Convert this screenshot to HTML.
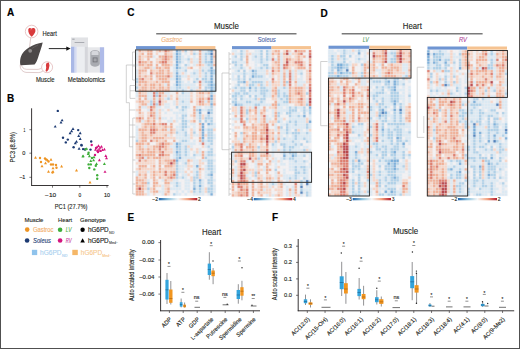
<!DOCTYPE html>
<html><head><meta charset="utf-8"><style>
html,body{margin:0;padding:0;background:#fff;width:520px;height:349px;overflow:hidden}
svg{display:block;font-family:"Liberation Sans", sans-serif;}
#fr{position:absolute;left:0;top:0;width:518px;height:347px;border:1px solid #505050;border-bottom-width:1.5px;pointer-events:none}
</style></head><body>
<svg width="520" height="349" viewBox="0 0 520 349" font-family='"Liberation Sans", sans-serif'><defs><filter id='hb' filterUnits='userSpaceOnUse' x='0' y='0' width='520' height='349'><feConvolveMatrix order='3' kernelMatrix='0.0113 0.0838 0.0113 0.0838 0.6193 0.0838 0.0113 0.0838 0.0113' edgeMode='none' preserveAlpha='false'/></filter></defs>
<text x="7" y="16.2" font-size="10" fill="#000" stroke="#000" stroke-width="0.156" font-weight="bold" >A</text>
<text x="7" y="102.2" font-size="10" fill="#000" stroke="#000" stroke-width="0.156" font-weight="bold" >B</text>
<text x="127.3" y="15.9" font-size="10" fill="#000" stroke="#000" stroke-width="0.156" font-weight="bold" >C</text>
<text x="320.6" y="16.5" font-size="10" fill="#000" stroke="#000" stroke-width="0.156" font-weight="bold" >D</text>
<text x="127.6" y="221.2" font-size="10" fill="#000" stroke="#000" stroke-width="0.156" font-weight="bold" >E</text>
<text x="272" y="221.4" font-size="10" fill="#000" stroke="#000" stroke-width="0.156" font-weight="bold" >F</text>
<line x1="30.7" y1="38" x2="29.5" y2="47.5" stroke="#c8a8a8" stroke-width="0.6"/>
<circle cx="31.6" cy="31.5" r="6.3" fill="#fff" stroke="#e2b9b9" stroke-width="0.8"/>
<path d="M28.3,29.6 C28.6,27.8 30.6,27.6 31.4,28.8 C32.3,27.5 34.6,27.7 35.3,29.4 C36,31.5 34.5,34 32.3,36.2 L31.6,36.7 C29.5,35 27.9,32.5 28.3,29.6 Z" fill="#d93a3c"/>
<path d="M30.2,30 q1,-1 2,0" stroke="#f08080" stroke-width="0.5" fill="none"/>
<text x="42.5" y="35.6" font-size="6.6" fill="#231f20" stroke="#231f20" stroke-width="0.12"  textLength="14.3" lengthAdjust="spacingAndGlyphs">Heart</text>
<path d="M20.3,64.6 C19.8,68.2 21.5,71.6 26,72.4 L38.5,72.6 C41.5,72.4 43.5,71 44.3,69 L42.5,66.5 C41.5,68.6 39.5,69.4 37,69.4 L26.5,69.3 C23.5,69.1 21.8,67.4 21.6,64.6 Z" fill="#fff" stroke="#b98c8c" stroke-width="0.45"/>
<path d="M21.6,64.6 L34.6,64.3 L36,66.8 L26,67 Z" fill="#fff"/>
<path d="M42.7,42.6 C38,43.4 33,45 29,47.5 C24,50.5 21,54.5 20.2,59.8 C19.9,62.5 20.1,64.3 20.6,65.3 L34.6,64.6 C36.2,62.5 37.4,60 38.1,57.5 C39.6,52.5 41.6,47.5 42.7,42.6 Z" fill="#4c4848"/>
<path d="M38,45 C36,46 33.5,47.3 31.8,48.6" stroke="#6a6565" stroke-width="0.7" fill="none"/>
<circle cx="30.2" cy="50.8" r="1.9" fill="#8f8b8b"/>
<circle cx="47.1" cy="67.2" r="5.5" fill="#fff" stroke="#e2b9b9" stroke-width="0.8"/>
<path d="M46.6,63 L48.9,62.6 L49.5,65.4 L48.6,69.5 L46.8,71.8 L45.6,71 L46.2,67.5 L45.9,64.9 Z" fill="#d93a3c"/>
<text x="36" y="82" font-size="6.6" fill="#231f20" stroke="#231f20" stroke-width="0.12"  textLength="18.5" lengthAdjust="spacingAndGlyphs">Muscle</text>
<line x1="48.8" y1="48.6" x2="67.5" y2="48.6" stroke="#111" stroke-width="0.9"/>
<path d="M66.3,46.4 L70.6,48.6 L66.3,50.8 Z" fill="#111"/>
<rect x="71" y="37.6" width="17" height="35" fill="#eceef1"/>
<rect x="71" y="37.6" width="17" height="9.1" fill="#e1e2e5"/>
<rect x="72.2" y="38.6" width="2.4" height="1.2" fill="#a8aab0"/>
<rect x="74.6" y="42" width="9.7" height="0.9" fill="#a3a5ab"/>
<rect x="71" y="46.7" width="3.6" height="26" fill="#a9b8e6"/>
<rect x="74.6" y="46.7" width="2" height="26" fill="#d4dbf2"/>
<rect x="84.8" y="46.7" width="3.1" height="26" fill="#d5d6db"/>
<rect x="87.9" y="47.3" width="16.2" height="25.3" fill="#e6e7ea"/>
<rect x="99.9" y="47.3" width="4.2" height="25.3" fill="#afbbe8"/>
<path d="M90.3,52.5 C91,49 99,49 99.8,52.5 L99.8,64 C98.5,67.5 91.5,67.5 90.3,64 Z" fill="#a9abb1"/>
<path d="M91.5,52 C92.5,50.2 97.5,50.2 98.5,52 L98.5,55 L91.5,55 Z" fill="#d6d7dc"/>
<rect x="92.7" y="57.5" width="4.8" height="4.8" fill="#707278"/>
<rect x="93.5" y="58.3" width="3.2" height="3.2" fill="#a5a6ab"/>
<text x="67.8" y="81.8" font-size="6.6" fill="#231f20" stroke="#231f20" stroke-width="0.12"  textLength="37.3" lengthAdjust="spacingAndGlyphs">Metabolomics</text>
<line x1="31.6" y1="108.3" x2="31.6" y2="185.6" stroke="#231f20" stroke-width="0.9"/>
<line x1="31.2" y1="185.5" x2="108.6" y2="185.5" stroke="#231f20" stroke-width="0.9"/>
<line x1="29.4" y1="129.7" x2="31.6" y2="129.7" stroke="#231f20" stroke-width="0.6"/>
<text x="25.4" y="131.5" font-size="5.2" fill="#231f20" stroke="#231f20" stroke-width="0.12" text-anchor="end"  textLength="1.8" lengthAdjust="spacingAndGlyphs">1</text>
<line x1="29.4" y1="153.2" x2="31.6" y2="153.2" stroke="#231f20" stroke-width="0.6"/>
<text x="25.4" y="155.0" font-size="5.2" fill="#231f20" stroke="#231f20" stroke-width="0.12" text-anchor="end"  textLength="3.1" lengthAdjust="spacingAndGlyphs">0</text>
<line x1="29.4" y1="177.3" x2="31.6" y2="177.3" stroke="#231f20" stroke-width="0.6"/>
<text x="25.4" y="179.10000000000002" font-size="5.2" fill="#231f20" stroke="#231f20" stroke-width="0.12" text-anchor="end"  textLength="6.2" lengthAdjust="spacingAndGlyphs">−1</text>
<line x1="52.5" y1="185.5" x2="52.5" y2="187.7" stroke="#231f20" stroke-width="0.6"/>
<text x="45.1" y="196.8" font-size="5.0" fill="#231f20" stroke="#231f20" stroke-width="0.12"  textLength="11.1" lengthAdjust="spacingAndGlyphs">−10</text>
<line x1="79.8" y1="185.5" x2="79.8" y2="187.7" stroke="#231f20" stroke-width="0.6"/>
<text x="78.4" y="196.8" font-size="5.0" fill="#231f20" stroke="#231f20" stroke-width="0.12"  textLength="2.7" lengthAdjust="spacingAndGlyphs">0</text>
<line x1="107" y1="185.5" x2="107" y2="187.7" stroke="#231f20" stroke-width="0.6"/>
<text x="104" y="196.8" font-size="5.0" fill="#231f20" stroke="#231f20" stroke-width="0.12"  textLength="6" lengthAdjust="spacingAndGlyphs">10</text>
<text x="54.8" y="208.6" font-size="6.9" fill="#231f20" stroke="#231f20" stroke-width="0.12"  textLength="32.6" lengthAdjust="spacingAndGlyphs">PC1 (27.7%)</text>
<text transform="translate(14.5,147.3) rotate(-90)" font-size="7" fill="#231f20" stroke="#231f20" stroke-width="0.12" text-anchor="middle" textLength="30.3" lengthAdjust="spacingAndGlyphs">PC3 (8.8%)</text>
<path d="M34.00,158.70 L35.5,156.05 L37.00,158.70Z" fill="#ee9423"/>
<circle cx="40" cy="158" r="1.2" fill="#ee9423"/>
<circle cx="45" cy="158.5" r="1.2" fill="#ee9423"/>
<circle cx="46" cy="159.5" r="1.2" fill="#ee9423"/>
<path d="M46.00,161.20 L47.5,158.55 L49.00,161.20Z" fill="#ee9423"/>
<path d="M49.50,160.70 L51,158.05 L52.50,160.70Z" fill="#ee9423"/>
<circle cx="41" cy="162" r="1.2" fill="#ee9423"/>
<path d="M44.00,164.20 L45.5,161.55 L47.00,164.20Z" fill="#ee9423"/>
<circle cx="48.5" cy="161.5" r="1.2" fill="#ee9423"/>
<path d="M40.50,167.20 L42,164.55 L43.50,167.20Z" fill="#ee9423"/>
<circle cx="51" cy="164.5" r="1.2" fill="#ee9423"/>
<circle cx="53" cy="164.5" r="1.2" fill="#ee9423"/>
<circle cx="56" cy="165" r="1.2" fill="#ee9423"/>
<path d="M60.10,167.40 L61.6,164.75 L63.10,167.40Z" fill="#ee9423"/>
<path d="M51.50,169.20 L53,166.55 L54.50,169.20Z" fill="#ee9423"/>
<circle cx="56.5" cy="167.8" r="1.2" fill="#ee9423"/>
<path d="M47.00,172.70 L48.5,170.05 L50.00,172.70Z" fill="#ee9423"/>
<path d="M51.50,172.70 L53,170.05 L54.50,172.70Z" fill="#ee9423"/>
<circle cx="52.5" cy="172.5" r="1.2" fill="#ee9423"/>
<path d="M75.00,171.40 L76.5,168.75 L78.00,171.40Z" fill="#ee9423"/>
<path d="M88.50,183.50 L90,180.85 L91.50,183.50Z" fill="#ee9423"/>
<circle cx="57.8" cy="110.9" r="1.2" fill="#1d3b73"/>
<path d="M60.60,121.30 L62.1,118.65 L63.60,121.30Z" fill="#1d3b73"/>
<path d="M59.50,123.60 L61,120.95 L62.50,123.60Z" fill="#1d3b73"/>
<path d="M53.70,127.60 L55.2,124.95 L56.70,127.60Z" fill="#1d3b73"/>
<path d="M71.50,129.90 L73,127.25 L74.50,129.90Z" fill="#1d3b73"/>
<circle cx="78.2" cy="130.1" r="1.2" fill="#1d3b73"/>
<path d="M70.10,132.20 L71.6,129.55 L73.10,132.20Z" fill="#1d3b73"/>
<path d="M68.60,134.20 L70.1,131.55 L71.60,134.20Z" fill="#1d3b73"/>
<path d="M78.70,134.20 L80.2,131.55 L81.70,134.20Z" fill="#1d3b73"/>
<path d="M77.20,137.00 L78.7,134.35 L80.20,137.00Z" fill="#1d3b73"/>
<circle cx="63" cy="137.8" r="1.2" fill="#1d3b73"/>
<circle cx="67.8" cy="139.6" r="1.2" fill="#1d3b73"/>
<path d="M78.70,139.90 L80.2,137.25 L81.70,139.90Z" fill="#1d3b73"/>
<circle cx="65.8" cy="142.4" r="1.2" fill="#1d3b73"/>
<path d="M73.80,144.20 L75.3,141.55 L76.80,144.20Z" fill="#1d3b73"/>
<path d="M75.00,142.70 L76.5,140.05 L78.00,142.70Z" fill="#1d3b73"/>
<circle cx="73.6" cy="147.3" r="1.2" fill="#1d3b73"/>
<path d="M77.60,149.70 L79.1,147.05 L80.60,149.70Z" fill="#1d3b73"/>
<circle cx="81.6" cy="145.4" r="1.2" fill="#1d3b73"/>
<circle cx="83.1" cy="149.1" r="1.2" fill="#1d3b73"/>
<circle cx="90.5" cy="149.6" r="1.2" fill="#1d3b73"/>
<circle cx="91.2" cy="141.5" r="1.2" fill="#1d3b73"/>
<circle cx="81.4" cy="145" r="1.2" fill="#1d3b73"/>
<circle cx="85" cy="149.5" r="1.2" fill="#1d3b73"/>
<path d="M83.90,150.30 L85.4,147.65 L86.90,150.30Z" fill="#3fae3a"/>
<path d="M85.20,149.80 L86.7,147.15 L88.20,149.80Z" fill="#3fae3a"/>
<path d="M81.60,157.10 L83.1,154.45 L84.60,157.10Z" fill="#3fae3a"/>
<path d="M86.70,154.90 L88.2,152.25 L89.70,154.90Z" fill="#3fae3a"/>
<path d="M87.90,157.20 L89.4,154.55 L90.90,157.20Z" fill="#3fae3a"/>
<circle cx="88.6" cy="152.7" r="1.2" fill="#3fae3a"/>
<path d="M81.40,157.40 L82.9,154.75 L84.40,157.40Z" fill="#3fae3a"/>
<path d="M89.30,162.00 L90.8,159.35 L92.30,162.00Z" fill="#3fae3a"/>
<path d="M92.10,161.30 L93.6,158.65 L95.10,161.30Z" fill="#3fae3a"/>
<circle cx="88.6" cy="164.4" r="1.2" fill="#3fae3a"/>
<circle cx="90.8" cy="164.4" r="1.2" fill="#3fae3a"/>
<path d="M95.00,164.90 L96.5,162.25 L98.00,164.90Z" fill="#3fae3a"/>
<circle cx="95.8" cy="165.8" r="1.2" fill="#3fae3a"/>
<circle cx="89.3" cy="168" r="1.2" fill="#3fae3a"/>
<circle cx="94.3" cy="169.4" r="1.2" fill="#3fae3a"/>
<path d="M102.90,164.90 L104.4,162.25 L105.90,164.90Z" fill="#3fae3a"/>
<circle cx="97.2" cy="175.2" r="1.2" fill="#3fae3a"/>
<circle cx="97.2" cy="178.8" r="1.2" fill="#3fae3a"/>
<circle cx="92" cy="158" r="1.2" fill="#3fae3a"/>
<path d="M92.50,158.20 L94,155.55 L95.50,158.20Z" fill="#3fae3a"/>
<circle cx="91.7" cy="145" r="1.2" fill="#d4157f"/>
<path d="M95.50,148.20 L97,145.55 L98.50,148.20Z" fill="#d4157f"/>
<path d="M97.00,147.00 L98.5,144.35 L100.00,147.00Z" fill="#d4157f"/>
<path d="M98.50,148.70 L100,146.05 L101.50,148.70Z" fill="#d4157f"/>
<path d="M100.00,147.70 L101.5,145.05 L103.00,147.70Z" fill="#d4157f"/>
<path d="M97.50,150.70 L99,148.05 L100.50,150.70Z" fill="#d4157f"/>
<path d="M96.00,151.70 L97.5,149.05 L99.00,151.70Z" fill="#d4157f"/>
<path d="M99.00,152.00 L100.5,149.35 L102.00,152.00Z" fill="#d4157f"/>
<path d="M94.00,150.70 L95.5,148.05 L97.00,150.70Z" fill="#d4157f"/>
<path d="M101.00,151.00 L102.5,148.35 L104.00,151.00Z" fill="#d4157f"/>
<path d="M102.90,150.50 L104.4,147.85 L105.90,150.50Z" fill="#d4157f"/>
<circle cx="95" cy="155" r="1.2" fill="#d4157f"/>
<path d="M104.30,157.00 L105.8,154.35 L107.30,157.00Z" fill="#d4157f"/>
<path d="M105.00,159.20 L106.5,156.55 L108.00,159.20Z" fill="#d4157f"/>
<path d="M97.90,161.20 L99.4,158.55 L100.90,161.20Z" fill="#d4157f"/>
<path d="M103.50,172.80 L105,170.15 L106.50,172.80Z" fill="#d4157f"/>
<circle cx="96" cy="148" r="1.2" fill="#d4157f"/>
<circle cx="98" cy="152" r="1.2" fill="#d4157f"/>
<text x="24.4" y="222.1" font-size="6.0" fill="#231f20" stroke="#231f20" stroke-width="0.12"  textLength="19" lengthAdjust="spacingAndGlyphs">Muscle</text>
<text x="58.1" y="222.2" font-size="6.0" fill="#231f20" stroke="#231f20" stroke-width="0.12"  textLength="14.1" lengthAdjust="spacingAndGlyphs">Heart</text>
<text x="80" y="222.2" font-size="6.0" fill="#231f20" stroke="#231f20" stroke-width="0.12"  textLength="25.8" lengthAdjust="spacingAndGlyphs">Genotype</text>
<circle cx="27.2" cy="229.6" r="2.3" fill="#ee9423"/>
<text x="32.9" y="231.6" font-size="6.6" fill="#f2ae6a" stroke="#f2ae6a" stroke-width="0.12"  textLength="20.6" lengthAdjust="spacingAndGlyphs">Gastroc</text>
<circle cx="60.1" cy="229.8" r="2.3" fill="#3fae3a"/>
<text x="65.8" y="231.7" font-size="6.6" fill="#52b04a" stroke="#52b04a" stroke-width="0.12" font-style="italic"  textLength="5.8" lengthAdjust="spacingAndGlyphs">LV</text>
<circle cx="82.6" cy="229.7" r="2.2" fill="#000"/>
<text x="87.9" y="231.9" font-size="6.8" fill="#111" stroke="#111" stroke-width="0.12"  textLength="20.8" lengthAdjust="spacingAndGlyphs">hG6PD</text>
<text x="109.1" y="233.7" font-size="3.4" fill="#555" stroke="#555" stroke-width="0.12"  textLength="5.3" lengthAdjust="spacingAndGlyphs">ND</text>
<circle cx="27.1" cy="240.5" r="2.3" fill="#1d3b73"/>
<text x="33" y="242.6" font-size="6.6" fill="#1d3b73" stroke="#1d3b73" stroke-width="0.12" font-style="italic"  textLength="17.8" lengthAdjust="spacingAndGlyphs">Soleus</text>
<circle cx="60.1" cy="240.5" r="2.3" fill="#d4157f"/>
<text x="65.8" y="242.6" font-size="6.6" fill="#c8389b" stroke="#c8389b" stroke-width="0.12" font-style="italic"  textLength="5.8" lengthAdjust="spacingAndGlyphs">RV</text>
<path d="M80.3,242.6 L82.6,238.3 L84.9,242.6Z" fill="#000"/>
<text x="87.9" y="242.7" font-size="6.8" fill="#111" stroke="#111" stroke-width="0.12"  textLength="20.8" lengthAdjust="spacingAndGlyphs">hG6PD</text>
<text x="109" y="244.3" font-size="3.4" fill="#555" stroke="#555" stroke-width="0.12"  textLength="9" lengthAdjust="spacingAndGlyphs">Med−</text>
<rect x="31.9" y="249.8" width="5.3" height="5.3" fill="#8fc3ec"/>
<text x="40" y="255.2" font-size="6.8" fill="#a9d0ef" stroke="#a9d0ef" stroke-width="0.12"  textLength="21.5" lengthAdjust="spacingAndGlyphs">hG6PD</text>
<text x="62" y="256.9" font-size="3.3" fill="#a9d0ef" stroke="#a9d0ef" stroke-width="0.12"  textLength="5.3" lengthAdjust="spacingAndGlyphs">ND</text>
<rect x="72.3" y="249.8" width="5.5" height="5.3" fill="#f5b768"/>
<text x="80.8" y="255.2" font-size="6.8" fill="#f7c88e" stroke="#f7c88e" stroke-width="0.12"  textLength="21.3" lengthAdjust="spacingAndGlyphs">hG6PD</text>
<text x="102.3" y="256.6" font-size="3.3" fill="#f7c88e" stroke="#f7c88e" stroke-width="0.12"  textLength="9" lengthAdjust="spacingAndGlyphs">Med−</text>
<g filter="url(#hb)"><rect x="135.5" y="49.6" width="80.4" height="146.2" fill="#eeeef1"/>
<path fill="#d9e8f3" d="M135.8 49.9h2.37v2.31h-2.37zM193.2 49.9h2.37v2.31h-2.37zM201.8 49.9h2.37v2.31h-2.37zM204.7 49.9h2.37v2.31h-2.37zM135.8 52.7h2.37v2.31h-2.37zM173.1 52.7h2.37v2.31h-2.37zM184.6 52.7h2.37v2.31h-2.37zM196.1 52.7h2.37v2.31h-2.37zM201.8 52.7h2.37v2.31h-2.37zM135.8 55.5h2.37v2.31h-2.37zM153.0 55.5h2.37v2.31h-2.37zM173.1 55.5h2.37v2.31h-2.37zM181.7 55.5h2.37v2.31h-2.37zM187.4 55.5h2.37v2.31h-2.37zM193.2 55.5h2.37v2.31h-2.37zM201.8 55.5h2.37v2.31h-2.37zM207.5 55.5h2.37v2.31h-2.37zM135.8 58.3h2.37v2.31h-2.37zM173.1 58.3h2.37v2.31h-2.37zM181.7 58.3h2.37v2.31h-2.37zM184.6 58.3h2.37v2.31h-2.37zM193.2 58.3h2.37v2.31h-2.37zM196.1 58.3h2.37v2.31h-2.37zM201.8 58.3h2.37v2.31h-2.37zM207.5 58.3h2.37v2.31h-2.37zM181.7 61.1h2.37v2.31h-2.37zM187.4 61.1h2.37v2.31h-2.37zM193.2 61.1h2.37v2.31h-2.37zM196.1 61.1h2.37v2.31h-2.37zM201.8 61.1h2.37v2.31h-2.37zM135.8 63.9h2.37v2.31h-2.37zM173.1 63.9h2.37v2.31h-2.37zM178.8 63.9h2.37v2.31h-2.37zM187.4 63.9h2.37v2.31h-2.37zM193.2 63.9h2.37v2.31h-2.37zM204.7 63.9h2.37v2.31h-2.37zM153.0 66.7h2.37v2.31h-2.37zM173.1 66.7h2.37v2.31h-2.37zM181.7 66.7h2.37v2.31h-2.37zM184.6 66.7h2.37v2.31h-2.37zM201.8 66.7h2.37v2.31h-2.37zM204.7 66.7h2.37v2.31h-2.37zM207.5 66.7h2.37v2.31h-2.37zM135.8 69.5h2.37v2.31h-2.37zM173.1 69.5h2.37v2.31h-2.37zM178.8 69.5h2.37v2.31h-2.37zM181.7 69.5h2.37v2.31h-2.37zM193.2 69.5h2.37v2.31h-2.37zM196.1 69.5h2.37v2.31h-2.37zM204.7 69.5h2.37v2.31h-2.37zM135.8 72.3h2.37v2.31h-2.37zM173.1 72.3h2.37v2.31h-2.37zM178.8 72.3h2.37v2.31h-2.37zM184.6 72.3h2.37v2.31h-2.37zM190.3 72.3h2.37v2.31h-2.37zM196.1 72.3h2.37v2.31h-2.37zM201.8 72.3h2.37v2.31h-2.37zM207.5 72.3h2.37v2.31h-2.37zM135.8 75.2h2.37v2.31h-2.37zM173.1 75.2h2.37v2.31h-2.37zM181.7 75.2h2.37v2.31h-2.37zM184.6 75.2h2.37v2.31h-2.37zM190.3 75.2h2.37v2.31h-2.37zM193.2 75.2h2.37v2.31h-2.37zM196.1 75.2h2.37v2.31h-2.37zM201.8 75.2h2.37v2.31h-2.37zM207.5 75.2h2.37v2.31h-2.37zM213.3 75.2h2.37v2.31h-2.37zM170.2 78.0h2.37v2.31h-2.37zM173.1 78.0h2.37v2.31h-2.37zM193.2 78.0h2.37v2.31h-2.37zM207.5 78.0h2.37v2.31h-2.37zM213.3 78.0h2.37v2.31h-2.37zM181.7 80.8h2.37v2.31h-2.37zM187.4 80.8h2.37v2.31h-2.37zM196.1 80.8h2.37v2.31h-2.37zM201.8 80.8h2.37v2.31h-2.37zM213.3 80.8h2.37v2.31h-2.37zM135.8 83.6h2.37v2.31h-2.37zM164.5 83.6h2.37v2.31h-2.37zM173.1 83.6h2.37v2.31h-2.37zM181.7 83.6h2.37v2.31h-2.37zM184.6 83.6h2.37v2.31h-2.37zM187.4 83.6h2.37v2.31h-2.37zM190.3 83.6h2.37v2.31h-2.37zM193.2 83.6h2.37v2.31h-2.37zM201.8 83.6h2.37v2.31h-2.37zM204.7 83.6h2.37v2.31h-2.37zM170.2 86.4h2.37v2.31h-2.37zM173.1 86.4h2.37v2.31h-2.37zM181.7 86.4h2.37v2.31h-2.37zM184.6 86.4h2.37v2.31h-2.37zM190.3 86.4h2.37v2.31h-2.37zM193.2 86.4h2.37v2.31h-2.37zM196.1 86.4h2.37v2.31h-2.37zM135.8 89.2h2.37v2.31h-2.37zM170.2 89.2h2.37v2.31h-2.37zM173.1 89.2h2.37v2.31h-2.37zM178.8 89.2h2.37v2.31h-2.37zM184.6 89.2h2.37v2.31h-2.37zM193.2 89.2h2.37v2.31h-2.37zM201.8 89.2h2.37v2.31h-2.37zM207.5 89.2h2.37v2.31h-2.37zM135.8 92.0h2.37v2.31h-2.37zM147.2 92.0h2.37v2.31h-2.37zM150.1 92.0h2.37v2.31h-2.37zM164.5 92.0h2.37v2.31h-2.37zM167.3 92.0h2.37v2.31h-2.37zM184.6 92.0h2.37v2.31h-2.37zM187.4 92.0h2.37v2.31h-2.37zM213.3 92.0h2.37v2.31h-2.37zM135.8 94.8h2.37v2.31h-2.37zM147.2 94.8h2.37v2.31h-2.37zM150.1 94.8h2.37v2.31h-2.37zM167.3 94.8h2.37v2.31h-2.37zM178.8 94.8h2.37v2.31h-2.37zM181.7 94.8h2.37v2.31h-2.37zM184.6 94.8h2.37v2.31h-2.37zM187.4 94.8h2.37v2.31h-2.37zM147.2 97.6h2.37v2.31h-2.37zM150.1 97.6h2.37v2.31h-2.37zM155.8 97.6h2.37v2.31h-2.37zM164.5 97.6h2.37v2.31h-2.37zM178.8 97.6h2.37v2.31h-2.37zM181.7 97.6h2.37v2.31h-2.37zM184.6 97.6h2.37v2.31h-2.37zM187.4 97.6h2.37v2.31h-2.37zM155.8 100.5h2.37v2.31h-2.37zM173.1 100.5h2.37v2.31h-2.37zM178.8 100.5h2.37v2.31h-2.37zM184.6 100.5h2.37v2.31h-2.37zM187.4 100.5h2.37v2.31h-2.37zM204.7 100.5h2.37v2.31h-2.37zM147.2 103.3h2.37v2.31h-2.37zM164.5 103.3h2.37v2.31h-2.37zM167.3 103.3h2.37v2.31h-2.37zM173.1 103.3h2.37v2.31h-2.37zM178.8 103.3h2.37v2.31h-2.37zM181.7 103.3h2.37v2.31h-2.37zM184.6 103.3h2.37v2.31h-2.37zM187.4 103.3h2.37v2.31h-2.37zM141.5 106.1h2.37v2.31h-2.37zM144.4 106.1h2.37v2.31h-2.37zM155.8 106.1h2.37v2.31h-2.37zM158.7 106.1h2.37v2.31h-2.37zM164.5 106.1h2.37v2.31h-2.37zM167.3 106.1h2.37v2.31h-2.37zM187.4 106.1h2.37v2.31h-2.37zM196.1 106.1h2.37v2.31h-2.37zM198.9 106.1h2.37v2.31h-2.37zM204.7 106.1h2.37v2.31h-2.37zM207.5 106.1h2.37v2.31h-2.37zM147.2 108.9h2.37v2.31h-2.37zM155.8 108.9h2.37v2.31h-2.37zM161.6 108.9h2.37v2.31h-2.37zM170.2 108.9h2.37v2.31h-2.37zM178.8 108.9h2.37v2.31h-2.37zM184.6 108.9h2.37v2.31h-2.37zM201.8 108.9h2.37v2.31h-2.37zM204.7 108.9h2.37v2.31h-2.37zM155.8 111.7h2.37v2.31h-2.37zM164.5 111.7h2.37v2.31h-2.37zM173.1 111.7h2.37v2.31h-2.37zM175.9 111.7h2.37v2.31h-2.37zM178.8 111.7h2.37v2.31h-2.37zM181.7 111.7h2.37v2.31h-2.37zM184.6 111.7h2.37v2.31h-2.37zM196.1 111.7h2.37v2.31h-2.37zM155.8 114.5h2.37v2.31h-2.37zM175.9 114.5h2.37v2.31h-2.37zM196.1 114.5h2.37v2.31h-2.37zM204.7 114.5h2.37v2.31h-2.37zM210.4 114.5h2.37v2.31h-2.37zM155.8 117.3h2.37v2.31h-2.37zM161.6 117.3h2.37v2.31h-2.37zM164.5 117.3h2.37v2.31h-2.37zM170.2 117.3h2.37v2.31h-2.37zM175.9 117.3h2.37v2.31h-2.37zM178.8 117.3h2.37v2.31h-2.37zM184.6 117.3h2.37v2.31h-2.37zM196.1 117.3h2.37v2.31h-2.37zM141.5 120.1h2.37v2.31h-2.37zM167.3 120.1h2.37v2.31h-2.37zM170.2 120.1h2.37v2.31h-2.37zM175.9 120.1h2.37v2.31h-2.37zM187.4 120.1h2.37v2.31h-2.37zM207.5 120.1h2.37v2.31h-2.37zM178.8 122.9h2.37v2.31h-2.37zM190.3 122.9h2.37v2.31h-2.37zM193.2 122.9h2.37v2.31h-2.37zM213.3 122.9h2.37v2.31h-2.37zM135.8 125.8h2.37v2.31h-2.37zM175.9 125.8h2.37v2.31h-2.37zM178.8 125.8h2.37v2.31h-2.37zM187.4 125.8h2.37v2.31h-2.37zM193.2 125.8h2.37v2.31h-2.37zM207.5 125.8h2.37v2.31h-2.37zM210.4 125.8h2.37v2.31h-2.37zM213.3 125.8h2.37v2.31h-2.37zM135.8 128.6h2.37v2.31h-2.37zM167.3 128.6h2.37v2.31h-2.37zM175.9 128.6h2.37v2.31h-2.37zM178.8 128.6h2.37v2.31h-2.37zM184.6 128.6h2.37v2.31h-2.37zM193.2 128.6h2.37v2.31h-2.37zM204.7 128.6h2.37v2.31h-2.37zM135.8 131.4h2.37v2.31h-2.37zM178.8 131.4h2.37v2.31h-2.37zM181.7 131.4h2.37v2.31h-2.37zM135.8 134.2h2.37v2.31h-2.37zM167.3 134.2h2.37v2.31h-2.37zM175.9 134.2h2.37v2.31h-2.37zM178.8 134.2h2.37v2.31h-2.37zM181.7 134.2h2.37v2.31h-2.37zM187.4 134.2h2.37v2.31h-2.37zM193.2 134.2h2.37v2.31h-2.37zM196.1 134.2h2.37v2.31h-2.37zM213.3 134.2h2.37v2.31h-2.37zM135.8 137.0h2.37v2.31h-2.37zM175.9 137.0h2.37v2.31h-2.37zM178.8 137.0h2.37v2.31h-2.37zM181.7 137.0h2.37v2.31h-2.37zM184.6 137.0h2.37v2.31h-2.37zM187.4 137.0h2.37v2.31h-2.37zM213.3 137.0h2.37v2.31h-2.37zM178.8 139.8h2.37v2.31h-2.37zM187.4 139.8h2.37v2.31h-2.37zM193.2 139.8h2.37v2.31h-2.37zM204.7 139.8h2.37v2.31h-2.37zM173.1 142.6h2.37v2.31h-2.37zM181.7 142.6h2.37v2.31h-2.37zM184.6 142.6h2.37v2.31h-2.37zM187.4 142.6h2.37v2.31h-2.37zM190.3 142.6h2.37v2.31h-2.37zM193.2 142.6h2.37v2.31h-2.37zM198.9 142.6h2.37v2.31h-2.37zM204.7 142.6h2.37v2.31h-2.37zM207.5 142.6h2.37v2.31h-2.37zM144.4 145.4h2.37v2.31h-2.37zM170.2 145.4h2.37v2.31h-2.37zM173.1 145.4h2.37v2.31h-2.37zM181.7 145.4h2.37v2.31h-2.37zM190.3 145.4h2.37v2.31h-2.37zM204.7 145.4h2.37v2.31h-2.37zM210.4 145.4h2.37v2.31h-2.37zM173.1 148.3h2.37v2.31h-2.37zM181.7 148.3h2.37v2.31h-2.37zM187.4 148.3h2.37v2.31h-2.37zM198.9 148.3h2.37v2.31h-2.37zM207.5 148.3h2.37v2.31h-2.37zM173.1 151.1h2.37v2.31h-2.37zM181.7 151.1h2.37v2.31h-2.37zM187.4 151.1h2.37v2.31h-2.37zM193.2 151.1h2.37v2.31h-2.37zM198.9 151.1h2.37v2.31h-2.37zM204.7 151.1h2.37v2.31h-2.37zM173.1 153.9h2.37v2.31h-2.37zM181.7 153.9h2.37v2.31h-2.37zM187.4 153.9h2.37v2.31h-2.37zM196.1 153.9h2.37v2.31h-2.37zM198.9 153.9h2.37v2.31h-2.37zM204.7 153.9h2.37v2.31h-2.37zM213.3 153.9h2.37v2.31h-2.37zM144.4 156.7h2.37v2.31h-2.37zM173.1 156.7h2.37v2.31h-2.37zM181.7 156.7h2.37v2.31h-2.37zM184.6 156.7h2.37v2.31h-2.37zM187.4 156.7h2.37v2.31h-2.37zM190.3 156.7h2.37v2.31h-2.37zM193.2 156.7h2.37v2.31h-2.37zM207.5 156.7h2.37v2.31h-2.37zM210.4 156.7h2.37v2.31h-2.37zM178.8 159.5h2.37v2.31h-2.37zM181.7 159.5h2.37v2.31h-2.37zM184.6 159.5h2.37v2.31h-2.37zM193.2 159.5h2.37v2.31h-2.37zM196.1 159.5h2.37v2.31h-2.37zM201.8 159.5h2.37v2.31h-2.37zM204.7 159.5h2.37v2.31h-2.37zM213.3 159.5h2.37v2.31h-2.37zM181.7 162.3h2.37v2.31h-2.37zM193.2 162.3h2.37v2.31h-2.37zM196.1 162.3h2.37v2.31h-2.37zM178.8 165.1h2.37v2.31h-2.37zM181.7 165.1h2.37v2.31h-2.37zM184.6 165.1h2.37v2.31h-2.37zM193.2 165.1h2.37v2.31h-2.37zM204.7 165.1h2.37v2.31h-2.37zM213.3 165.1h2.37v2.31h-2.37zM178.8 167.9h2.37v2.31h-2.37zM181.7 167.9h2.37v2.31h-2.37zM193.2 167.9h2.37v2.31h-2.37zM196.1 167.9h2.37v2.31h-2.37zM204.7 167.9h2.37v2.31h-2.37zM213.3 167.9h2.37v2.31h-2.37zM135.8 170.7h2.37v2.31h-2.37zM147.2 170.7h2.37v2.31h-2.37zM178.8 170.7h2.37v2.31h-2.37zM181.7 170.7h2.37v2.31h-2.37zM193.2 170.7h2.37v2.31h-2.37zM204.7 170.7h2.37v2.31h-2.37zM207.5 170.7h2.37v2.31h-2.37zM213.3 170.7h2.37v2.31h-2.37zM135.8 173.6h2.37v2.31h-2.37zM181.7 173.6h2.37v2.31h-2.37zM184.6 173.6h2.37v2.31h-2.37zM193.2 173.6h2.37v2.31h-2.37zM204.7 173.6h2.37v2.31h-2.37zM178.8 176.4h2.37v2.31h-2.37zM184.6 176.4h2.37v2.31h-2.37zM204.7 176.4h2.37v2.31h-2.37zM207.5 176.4h2.37v2.31h-2.37zM147.2 179.2h2.37v2.31h-2.37zM161.6 179.2h2.37v2.31h-2.37zM173.1 179.2h2.37v2.31h-2.37zM175.9 179.2h2.37v2.31h-2.37zM184.6 179.2h2.37v2.31h-2.37zM187.4 179.2h2.37v2.31h-2.37zM196.1 179.2h2.37v2.31h-2.37zM201.8 179.2h2.37v2.31h-2.37zM213.3 179.2h2.37v2.31h-2.37zM170.2 182.0h2.37v2.31h-2.37zM173.1 182.0h2.37v2.31h-2.37zM178.8 182.0h2.37v2.31h-2.37zM184.6 182.0h2.37v2.31h-2.37zM187.4 182.0h2.37v2.31h-2.37zM196.1 182.0h2.37v2.31h-2.37zM201.8 182.0h2.37v2.31h-2.37zM147.2 184.8h2.37v2.31h-2.37zM161.6 184.8h2.37v2.31h-2.37zM173.1 184.8h2.37v2.31h-2.37zM178.8 184.8h2.37v2.31h-2.37zM184.6 184.8h2.37v2.31h-2.37zM187.4 184.8h2.37v2.31h-2.37zM196.1 184.8h2.37v2.31h-2.37zM201.8 184.8h2.37v2.31h-2.37zM207.5 184.8h2.37v2.31h-2.37zM213.3 184.8h2.37v2.31h-2.37zM161.6 187.6h2.37v2.31h-2.37zM170.2 187.6h2.37v2.31h-2.37zM173.1 187.6h2.37v2.31h-2.37zM175.9 187.6h2.37v2.31h-2.37zM178.8 187.6h2.37v2.31h-2.37zM184.6 187.6h2.37v2.31h-2.37zM187.4 187.6h2.37v2.31h-2.37zM196.1 187.6h2.37v2.31h-2.37zM201.8 187.6h2.37v2.31h-2.37zM213.3 187.6h2.37v2.31h-2.37zM147.2 190.4h2.37v2.31h-2.37zM158.7 190.4h2.37v2.31h-2.37zM161.6 190.4h2.37v2.31h-2.37zM175.9 190.4h2.37v2.31h-2.37zM181.7 190.4h2.37v2.31h-2.37zM187.4 190.4h2.37v2.31h-2.37zM196.1 190.4h2.37v2.31h-2.37zM201.8 190.4h2.37v2.31h-2.37zM213.3 190.4h2.37v2.31h-2.37zM147.2 193.2h2.37v2.31h-2.37zM161.6 193.2h2.37v2.31h-2.37zM175.9 193.2h2.37v2.31h-2.37zM178.8 193.2h2.37v2.31h-2.37zM184.6 193.2h2.37v2.31h-2.37zM193.2 193.2h2.37v2.31h-2.37zM196.1 193.2h2.37v2.31h-2.37zM198.9 193.2h2.37v2.31h-2.37zM201.8 193.2h2.37v2.31h-2.37zM207.5 193.2h2.37v2.31h-2.37z"/>
<path fill="#f0a98c" d="M138.6 49.9h2.37v2.31h-2.37zM147.2 49.9h2.37v2.31h-2.37zM150.1 49.9h2.37v2.31h-2.37zM158.7 49.9h2.37v2.31h-2.37zM167.3 49.9h2.37v2.31h-2.37zM198.9 49.9h2.37v2.31h-2.37zM141.5 52.7h2.37v2.31h-2.37zM147.2 52.7h2.37v2.31h-2.37zM150.1 52.7h2.37v2.31h-2.37zM164.5 52.7h2.37v2.31h-2.37zM198.9 52.7h2.37v2.31h-2.37zM138.6 55.5h2.37v2.31h-2.37zM147.2 55.5h2.37v2.31h-2.37zM150.1 55.5h2.37v2.31h-2.37zM158.7 55.5h2.37v2.31h-2.37zM161.6 55.5h2.37v2.31h-2.37zM167.3 55.5h2.37v2.31h-2.37zM170.2 55.5h2.37v2.31h-2.37zM198.9 55.5h2.37v2.31h-2.37zM213.3 55.5h2.37v2.31h-2.37zM138.6 58.3h2.37v2.31h-2.37zM147.2 58.3h2.37v2.31h-2.37zM161.6 58.3h2.37v2.31h-2.37zM167.3 58.3h2.37v2.31h-2.37zM198.9 58.3h2.37v2.31h-2.37zM141.5 61.1h2.37v2.31h-2.37zM144.4 61.1h2.37v2.31h-2.37zM150.1 61.1h2.37v2.31h-2.37zM158.7 61.1h2.37v2.31h-2.37zM198.9 61.1h2.37v2.31h-2.37zM138.6 63.9h2.37v2.31h-2.37zM141.5 63.9h2.37v2.31h-2.37zM147.2 63.9h2.37v2.31h-2.37zM150.1 63.9h2.37v2.31h-2.37zM155.8 63.9h2.37v2.31h-2.37zM161.6 63.9h2.37v2.31h-2.37zM164.5 63.9h2.37v2.31h-2.37zM167.3 63.9h2.37v2.31h-2.37zM198.9 63.9h2.37v2.31h-2.37zM213.3 63.9h2.37v2.31h-2.37zM144.4 66.7h2.37v2.31h-2.37zM147.2 66.7h2.37v2.31h-2.37zM155.8 66.7h2.37v2.31h-2.37zM158.7 66.7h2.37v2.31h-2.37zM164.5 66.7h2.37v2.31h-2.37zM167.3 66.7h2.37v2.31h-2.37zM190.3 66.7h2.37v2.31h-2.37zM138.6 69.5h2.37v2.31h-2.37zM141.5 69.5h2.37v2.31h-2.37zM144.4 69.5h2.37v2.31h-2.37zM150.1 69.5h2.37v2.31h-2.37zM158.7 69.5h2.37v2.31h-2.37zM161.6 69.5h2.37v2.31h-2.37zM167.3 69.5h2.37v2.31h-2.37zM138.6 72.3h2.37v2.31h-2.37zM155.8 72.3h2.37v2.31h-2.37zM158.7 72.3h2.37v2.31h-2.37zM161.6 72.3h2.37v2.31h-2.37zM167.3 72.3h2.37v2.31h-2.37zM138.6 75.2h2.37v2.31h-2.37zM144.4 75.2h2.37v2.31h-2.37zM150.1 75.2h2.37v2.31h-2.37zM155.8 75.2h2.37v2.31h-2.37zM158.7 75.2h2.37v2.31h-2.37zM161.6 75.2h2.37v2.31h-2.37zM164.5 75.2h2.37v2.31h-2.37zM138.6 78.0h2.37v2.31h-2.37zM150.1 78.0h2.37v2.31h-2.37zM158.7 78.0h2.37v2.31h-2.37zM161.6 78.0h2.37v2.31h-2.37zM164.5 78.0h2.37v2.31h-2.37zM138.6 80.8h2.37v2.31h-2.37zM141.5 80.8h2.37v2.31h-2.37zM144.4 80.8h2.37v2.31h-2.37zM155.8 80.8h2.37v2.31h-2.37zM161.6 80.8h2.37v2.31h-2.37zM164.5 80.8h2.37v2.31h-2.37zM167.3 80.8h2.37v2.31h-2.37zM138.6 83.6h2.37v2.31h-2.37zM144.4 83.6h2.37v2.31h-2.37zM150.1 83.6h2.37v2.31h-2.37zM153.0 83.6h2.37v2.31h-2.37zM158.7 83.6h2.37v2.31h-2.37zM167.3 83.6h2.37v2.31h-2.37zM198.9 83.6h2.37v2.31h-2.37zM141.5 86.4h2.37v2.31h-2.37zM144.4 86.4h2.37v2.31h-2.37zM150.1 86.4h2.37v2.31h-2.37zM153.0 86.4h2.37v2.31h-2.37zM158.7 86.4h2.37v2.31h-2.37zM161.6 86.4h2.37v2.31h-2.37zM167.3 86.4h2.37v2.31h-2.37zM198.9 86.4h2.37v2.31h-2.37zM138.6 89.2h2.37v2.31h-2.37zM141.5 89.2h2.37v2.31h-2.37zM144.4 89.2h2.37v2.31h-2.37zM150.1 89.2h2.37v2.31h-2.37zM155.8 89.2h2.37v2.31h-2.37zM158.7 89.2h2.37v2.31h-2.37zM161.6 89.2h2.37v2.31h-2.37zM164.5 89.2h2.37v2.31h-2.37zM167.3 89.2h2.37v2.31h-2.37zM138.6 92.0h2.37v2.31h-2.37zM158.7 92.0h2.37v2.31h-2.37zM161.6 92.0h2.37v2.31h-2.37zM175.9 92.0h2.37v2.31h-2.37zM198.9 92.0h2.37v2.31h-2.37zM201.8 92.0h2.37v2.31h-2.37zM207.5 92.0h2.37v2.31h-2.37zM138.6 94.8h2.37v2.31h-2.37zM141.5 94.8h2.37v2.31h-2.37zM144.4 94.8h2.37v2.31h-2.37zM138.6 97.6h2.37v2.31h-2.37zM144.4 97.6h2.37v2.31h-2.37zM153.0 97.6h2.37v2.31h-2.37zM158.7 97.6h2.37v2.31h-2.37zM175.9 97.6h2.37v2.31h-2.37zM198.9 97.6h2.37v2.31h-2.37zM201.8 97.6h2.37v2.31h-2.37zM138.6 100.5h2.37v2.31h-2.37zM141.5 100.5h2.37v2.31h-2.37zM153.0 100.5h2.37v2.31h-2.37zM190.3 100.5h2.37v2.31h-2.37zM201.8 100.5h2.37v2.31h-2.37zM207.5 100.5h2.37v2.31h-2.37zM141.5 103.3h2.37v2.31h-2.37zM144.4 103.3h2.37v2.31h-2.37zM198.9 103.3h2.37v2.31h-2.37zM201.8 103.3h2.37v2.31h-2.37zM213.3 103.3h2.37v2.31h-2.37zM138.6 106.1h2.37v2.31h-2.37zM153.0 106.1h2.37v2.31h-2.37zM193.2 106.1h2.37v2.31h-2.37zM138.6 108.9h2.37v2.31h-2.37zM193.2 108.9h2.37v2.31h-2.37zM138.6 111.7h2.37v2.31h-2.37zM150.1 111.7h2.37v2.31h-2.37zM153.0 111.7h2.37v2.31h-2.37zM193.2 111.7h2.37v2.31h-2.37zM153.0 114.5h2.37v2.31h-2.37zM193.2 114.5h2.37v2.31h-2.37zM135.8 117.3h2.37v2.31h-2.37zM141.5 117.3h2.37v2.31h-2.37zM147.2 117.3h2.37v2.31h-2.37zM153.0 117.3h2.37v2.31h-2.37zM158.7 117.3h2.37v2.31h-2.37zM138.6 120.1h2.37v2.31h-2.37zM147.2 120.1h2.37v2.31h-2.37zM153.0 120.1h2.37v2.31h-2.37zM193.2 120.1h2.37v2.31h-2.37zM144.4 122.9h2.37v2.31h-2.37zM147.2 122.9h2.37v2.31h-2.37zM150.1 122.9h2.37v2.31h-2.37zM158.7 122.9h2.37v2.31h-2.37zM170.2 122.9h2.37v2.31h-2.37zM198.9 122.9h2.37v2.31h-2.37zM144.4 125.8h2.37v2.31h-2.37zM150.1 125.8h2.37v2.31h-2.37zM153.0 125.8h2.37v2.31h-2.37zM164.5 125.8h2.37v2.31h-2.37zM170.2 125.8h2.37v2.31h-2.37zM138.6 128.6h2.37v2.31h-2.37zM141.5 128.6h2.37v2.31h-2.37zM144.4 128.6h2.37v2.31h-2.37zM155.8 128.6h2.37v2.31h-2.37zM161.6 128.6h2.37v2.31h-2.37zM164.5 128.6h2.37v2.31h-2.37zM170.2 128.6h2.37v2.31h-2.37zM198.9 128.6h2.37v2.31h-2.37zM141.5 131.4h2.37v2.31h-2.37zM170.2 131.4h2.37v2.31h-2.37zM141.5 134.2h2.37v2.31h-2.37zM144.4 134.2h2.37v2.31h-2.37zM150.1 134.2h2.37v2.31h-2.37zM164.5 134.2h2.37v2.31h-2.37zM141.5 137.0h2.37v2.31h-2.37zM144.4 137.0h2.37v2.31h-2.37zM153.0 137.0h2.37v2.31h-2.37zM155.8 137.0h2.37v2.31h-2.37zM158.7 137.0h2.37v2.31h-2.37zM161.6 137.0h2.37v2.31h-2.37zM198.9 137.0h2.37v2.31h-2.37zM141.5 139.8h2.37v2.31h-2.37zM144.4 139.8h2.37v2.31h-2.37zM155.8 139.8h2.37v2.31h-2.37zM164.5 139.8h2.37v2.31h-2.37zM173.1 139.8h2.37v2.31h-2.37zM198.9 139.8h2.37v2.31h-2.37zM135.8 142.6h2.37v2.31h-2.37zM138.6 142.6h2.37v2.31h-2.37zM141.5 142.6h2.37v2.31h-2.37zM147.2 142.6h2.37v2.31h-2.37zM158.7 142.6h2.37v2.31h-2.37zM164.5 142.6h2.37v2.31h-2.37zM167.3 142.6h2.37v2.31h-2.37zM138.6 145.4h2.37v2.31h-2.37zM153.0 145.4h2.37v2.31h-2.37zM155.8 145.4h2.37v2.31h-2.37zM164.5 145.4h2.37v2.31h-2.37zM138.6 148.3h2.37v2.31h-2.37zM141.5 148.3h2.37v2.31h-2.37zM147.2 148.3h2.37v2.31h-2.37zM153.0 148.3h2.37v2.31h-2.37zM164.5 148.3h2.37v2.31h-2.37zM141.5 151.1h2.37v2.31h-2.37zM147.2 151.1h2.37v2.31h-2.37zM150.1 151.1h2.37v2.31h-2.37zM153.0 151.1h2.37v2.31h-2.37zM158.7 151.1h2.37v2.31h-2.37zM201.8 151.1h2.37v2.31h-2.37zM135.8 153.9h2.37v2.31h-2.37zM141.5 153.9h2.37v2.31h-2.37zM144.4 153.9h2.37v2.31h-2.37zM147.2 153.9h2.37v2.31h-2.37zM150.1 153.9h2.37v2.31h-2.37zM153.0 153.9h2.37v2.31h-2.37zM164.5 153.9h2.37v2.31h-2.37zM167.3 153.9h2.37v2.31h-2.37zM201.8 153.9h2.37v2.31h-2.37zM138.6 156.7h2.37v2.31h-2.37zM147.2 156.7h2.37v2.31h-2.37zM153.0 156.7h2.37v2.31h-2.37zM155.8 156.7h2.37v2.31h-2.37zM158.7 156.7h2.37v2.31h-2.37zM201.8 156.7h2.37v2.31h-2.37zM144.4 159.5h2.37v2.31h-2.37zM158.7 159.5h2.37v2.31h-2.37zM164.5 159.5h2.37v2.31h-2.37zM167.3 159.5h2.37v2.31h-2.37zM170.2 159.5h2.37v2.31h-2.37zM187.4 159.5h2.37v2.31h-2.37zM158.7 162.3h2.37v2.31h-2.37zM167.3 162.3h2.37v2.31h-2.37zM173.1 162.3h2.37v2.31h-2.37zM138.6 165.1h2.37v2.31h-2.37zM141.5 165.1h2.37v2.31h-2.37zM144.4 165.1h2.37v2.31h-2.37zM153.0 165.1h2.37v2.31h-2.37zM158.7 165.1h2.37v2.31h-2.37zM164.5 165.1h2.37v2.31h-2.37zM167.3 165.1h2.37v2.31h-2.37zM170.2 165.1h2.37v2.31h-2.37zM138.6 167.9h2.37v2.31h-2.37zM158.7 167.9h2.37v2.31h-2.37zM198.9 167.9h2.37v2.31h-2.37zM153.0 170.7h2.37v2.31h-2.37zM158.7 170.7h2.37v2.31h-2.37zM170.2 170.7h2.37v2.31h-2.37zM173.1 170.7h2.37v2.31h-2.37zM138.6 173.6h2.37v2.31h-2.37zM144.4 173.6h2.37v2.31h-2.37zM153.0 173.6h2.37v2.31h-2.37zM170.2 173.6h2.37v2.31h-2.37zM135.8 176.4h2.37v2.31h-2.37zM144.4 176.4h2.37v2.31h-2.37zM153.0 176.4h2.37v2.31h-2.37zM158.7 176.4h2.37v2.31h-2.37zM167.3 176.4h2.37v2.31h-2.37zM173.1 176.4h2.37v2.31h-2.37zM135.8 179.2h2.37v2.31h-2.37zM138.6 179.2h2.37v2.31h-2.37zM141.5 179.2h2.37v2.31h-2.37zM153.0 179.2h2.37v2.31h-2.37zM164.5 179.2h2.37v2.31h-2.37zM135.8 182.0h2.37v2.31h-2.37zM141.5 182.0h2.37v2.31h-2.37zM144.4 182.0h2.37v2.31h-2.37zM153.0 182.0h2.37v2.31h-2.37zM155.8 182.0h2.37v2.31h-2.37zM164.5 182.0h2.37v2.31h-2.37zM167.3 182.0h2.37v2.31h-2.37zM135.8 184.8h2.37v2.31h-2.37zM138.6 184.8h2.37v2.31h-2.37zM141.5 184.8h2.37v2.31h-2.37zM153.0 184.8h2.37v2.31h-2.37zM135.8 187.6h2.37v2.31h-2.37zM141.5 187.6h2.37v2.31h-2.37zM153.0 187.6h2.37v2.31h-2.37zM167.3 187.6h2.37v2.31h-2.37zM135.8 190.4h2.37v2.31h-2.37zM138.6 190.4h2.37v2.31h-2.37zM141.5 190.4h2.37v2.31h-2.37zM153.0 190.4h2.37v2.31h-2.37zM155.8 190.4h2.37v2.31h-2.37zM167.3 190.4h2.37v2.31h-2.37zM135.8 193.2h2.37v2.31h-2.37zM138.6 193.2h2.37v2.31h-2.37zM141.5 193.2h2.37v2.31h-2.37zM164.5 193.2h2.37v2.31h-2.37z"/>
<path fill="#f8d3c2" d="M141.5 49.9h2.37v2.31h-2.37zM144.4 49.9h2.37v2.31h-2.37zM155.8 49.9h2.37v2.31h-2.37zM161.6 49.9h2.37v2.31h-2.37zM170.2 49.9h2.37v2.31h-2.37zM181.7 49.9h2.37v2.31h-2.37zM190.3 49.9h2.37v2.31h-2.37zM213.3 49.9h2.37v2.31h-2.37zM138.6 52.7h2.37v2.31h-2.37zM155.8 52.7h2.37v2.31h-2.37zM167.3 52.7h2.37v2.31h-2.37zM170.2 52.7h2.37v2.31h-2.37zM190.3 52.7h2.37v2.31h-2.37zM213.3 52.7h2.37v2.31h-2.37zM141.5 55.5h2.37v2.31h-2.37zM144.4 55.5h2.37v2.31h-2.37zM141.5 58.3h2.37v2.31h-2.37zM155.8 58.3h2.37v2.31h-2.37zM158.7 58.3h2.37v2.31h-2.37zM170.2 58.3h2.37v2.31h-2.37zM190.3 58.3h2.37v2.31h-2.37zM213.3 58.3h2.37v2.31h-2.37zM147.2 61.1h2.37v2.31h-2.37zM155.8 61.1h2.37v2.31h-2.37zM167.3 61.1h2.37v2.31h-2.37zM170.2 61.1h2.37v2.31h-2.37zM190.3 61.1h2.37v2.31h-2.37zM213.3 61.1h2.37v2.31h-2.37zM144.4 63.9h2.37v2.31h-2.37zM170.2 63.9h2.37v2.31h-2.37zM196.1 63.9h2.37v2.31h-2.37zM201.8 63.9h2.37v2.31h-2.37zM138.6 66.7h2.37v2.31h-2.37zM141.5 66.7h2.37v2.31h-2.37zM150.1 66.7h2.37v2.31h-2.37zM161.6 66.7h2.37v2.31h-2.37zM187.4 66.7h2.37v2.31h-2.37zM198.9 66.7h2.37v2.31h-2.37zM153.0 69.5h2.37v2.31h-2.37zM155.8 69.5h2.37v2.31h-2.37zM164.5 69.5h2.37v2.31h-2.37zM198.9 69.5h2.37v2.31h-2.37zM141.5 72.3h2.37v2.31h-2.37zM144.4 72.3h2.37v2.31h-2.37zM153.0 72.3h2.37v2.31h-2.37zM164.5 72.3h2.37v2.31h-2.37zM170.2 72.3h2.37v2.31h-2.37zM181.7 72.3h2.37v2.31h-2.37zM198.9 72.3h2.37v2.31h-2.37zM141.5 75.2h2.37v2.31h-2.37zM147.2 75.2h2.37v2.31h-2.37zM170.2 75.2h2.37v2.31h-2.37zM187.4 75.2h2.37v2.31h-2.37zM198.9 75.2h2.37v2.31h-2.37zM144.4 78.0h2.37v2.31h-2.37zM147.2 78.0h2.37v2.31h-2.37zM155.8 78.0h2.37v2.31h-2.37zM167.3 78.0h2.37v2.31h-2.37zM187.4 78.0h2.37v2.31h-2.37zM147.2 80.8h2.37v2.31h-2.37zM150.1 80.8h2.37v2.31h-2.37zM153.0 80.8h2.37v2.31h-2.37zM158.7 80.8h2.37v2.31h-2.37zM141.5 83.6h2.37v2.31h-2.37zM147.2 83.6h2.37v2.31h-2.37zM155.8 83.6h2.37v2.31h-2.37zM161.6 83.6h2.37v2.31h-2.37zM138.6 86.4h2.37v2.31h-2.37zM147.2 86.4h2.37v2.31h-2.37zM155.8 86.4h2.37v2.31h-2.37zM164.5 86.4h2.37v2.31h-2.37zM187.4 86.4h2.37v2.31h-2.37zM147.2 89.2h2.37v2.31h-2.37zM153.0 89.2h2.37v2.31h-2.37zM196.1 89.2h2.37v2.31h-2.37zM198.9 89.2h2.37v2.31h-2.37zM141.5 92.0h2.37v2.31h-2.37zM144.4 92.0h2.37v2.31h-2.37zM190.3 92.0h2.37v2.31h-2.37zM196.1 92.0h2.37v2.31h-2.37zM204.7 92.0h2.37v2.31h-2.37zM161.6 94.8h2.37v2.31h-2.37zM164.5 94.8h2.37v2.31h-2.37zM170.2 94.8h2.37v2.31h-2.37zM175.9 94.8h2.37v2.31h-2.37zM190.3 94.8h2.37v2.31h-2.37zM196.1 94.8h2.37v2.31h-2.37zM198.9 94.8h2.37v2.31h-2.37zM201.8 94.8h2.37v2.31h-2.37zM207.5 94.8h2.37v2.31h-2.37zM213.3 94.8h2.37v2.31h-2.37zM161.6 97.6h2.37v2.31h-2.37zM170.2 97.6h2.37v2.31h-2.37zM190.3 97.6h2.37v2.31h-2.37zM196.1 97.6h2.37v2.31h-2.37zM204.7 97.6h2.37v2.31h-2.37zM213.3 97.6h2.37v2.31h-2.37zM135.8 100.5h2.37v2.31h-2.37zM144.4 100.5h2.37v2.31h-2.37zM147.2 100.5h2.37v2.31h-2.37zM161.6 100.5h2.37v2.31h-2.37zM164.5 100.5h2.37v2.31h-2.37zM175.9 100.5h2.37v2.31h-2.37zM196.1 100.5h2.37v2.31h-2.37zM213.3 100.5h2.37v2.31h-2.37zM138.6 103.3h2.37v2.31h-2.37zM161.6 103.3h2.37v2.31h-2.37zM175.9 103.3h2.37v2.31h-2.37zM196.1 103.3h2.37v2.31h-2.37zM204.7 103.3h2.37v2.31h-2.37zM207.5 103.3h2.37v2.31h-2.37zM147.2 106.1h2.37v2.31h-2.37zM135.8 108.9h2.37v2.31h-2.37zM153.0 108.9h2.37v2.31h-2.37zM158.7 108.9h2.37v2.31h-2.37zM167.3 108.9h2.37v2.31h-2.37zM141.5 111.7h2.37v2.31h-2.37zM147.2 111.7h2.37v2.31h-2.37zM158.7 111.7h2.37v2.31h-2.37zM138.6 114.5h2.37v2.31h-2.37zM141.5 114.5h2.37v2.31h-2.37zM147.2 114.5h2.37v2.31h-2.37zM158.7 114.5h2.37v2.31h-2.37zM190.3 114.5h2.37v2.31h-2.37zM201.8 114.5h2.37v2.31h-2.37zM150.1 117.3h2.37v2.31h-2.37zM193.2 117.3h2.37v2.31h-2.37zM201.8 117.3h2.37v2.31h-2.37zM135.8 120.1h2.37v2.31h-2.37zM144.4 120.1h2.37v2.31h-2.37zM150.1 120.1h2.37v2.31h-2.37zM158.7 120.1h2.37v2.31h-2.37zM173.1 120.1h2.37v2.31h-2.37zM190.3 120.1h2.37v2.31h-2.37zM141.5 122.9h2.37v2.31h-2.37zM155.8 122.9h2.37v2.31h-2.37zM141.5 125.8h2.37v2.31h-2.37zM147.2 125.8h2.37v2.31h-2.37zM155.8 125.8h2.37v2.31h-2.37zM158.7 125.8h2.37v2.31h-2.37zM161.6 125.8h2.37v2.31h-2.37zM167.3 125.8h2.37v2.31h-2.37zM198.9 125.8h2.37v2.31h-2.37zM147.2 128.6h2.37v2.31h-2.37zM158.7 128.6h2.37v2.31h-2.37zM173.1 128.6h2.37v2.31h-2.37zM190.3 128.6h2.37v2.31h-2.37zM213.3 128.6h2.37v2.31h-2.37zM138.6 131.4h2.37v2.31h-2.37zM144.4 131.4h2.37v2.31h-2.37zM147.2 131.4h2.37v2.31h-2.37zM155.8 131.4h2.37v2.31h-2.37zM158.7 131.4h2.37v2.31h-2.37zM161.6 131.4h2.37v2.31h-2.37zM164.5 131.4h2.37v2.31h-2.37zM167.3 131.4h2.37v2.31h-2.37zM173.1 131.4h2.37v2.31h-2.37zM190.3 131.4h2.37v2.31h-2.37zM198.9 131.4h2.37v2.31h-2.37zM138.6 134.2h2.37v2.31h-2.37zM147.2 134.2h2.37v2.31h-2.37zM153.0 134.2h2.37v2.31h-2.37zM155.8 134.2h2.37v2.31h-2.37zM158.7 134.2h2.37v2.31h-2.37zM161.6 134.2h2.37v2.31h-2.37zM170.2 134.2h2.37v2.31h-2.37zM190.3 134.2h2.37v2.31h-2.37zM198.9 134.2h2.37v2.31h-2.37zM204.7 134.2h2.37v2.31h-2.37zM138.6 137.0h2.37v2.31h-2.37zM147.2 137.0h2.37v2.31h-2.37zM150.1 137.0h2.37v2.31h-2.37zM164.5 137.0h2.37v2.31h-2.37zM167.3 137.0h2.37v2.31h-2.37zM170.2 137.0h2.37v2.31h-2.37zM173.1 137.0h2.37v2.31h-2.37zM190.3 137.0h2.37v2.31h-2.37zM138.6 139.8h2.37v2.31h-2.37zM153.0 139.8h2.37v2.31h-2.37zM158.7 139.8h2.37v2.31h-2.37zM161.6 139.8h2.37v2.31h-2.37zM144.4 142.6h2.37v2.31h-2.37zM155.8 142.6h2.37v2.31h-2.37zM170.2 142.6h2.37v2.31h-2.37zM135.8 145.4h2.37v2.31h-2.37zM141.5 145.4h2.37v2.31h-2.37zM147.2 145.4h2.37v2.31h-2.37zM150.1 145.4h2.37v2.31h-2.37zM167.3 145.4h2.37v2.31h-2.37zM187.4 145.4h2.37v2.31h-2.37zM201.8 145.4h2.37v2.31h-2.37zM135.8 148.3h2.37v2.31h-2.37zM144.4 148.3h2.37v2.31h-2.37zM150.1 148.3h2.37v2.31h-2.37zM155.8 148.3h2.37v2.31h-2.37zM161.6 148.3h2.37v2.31h-2.37zM167.3 148.3h2.37v2.31h-2.37zM170.2 148.3h2.37v2.31h-2.37zM190.3 148.3h2.37v2.31h-2.37zM196.1 148.3h2.37v2.31h-2.37zM135.8 151.1h2.37v2.31h-2.37zM138.6 151.1h2.37v2.31h-2.37zM144.4 151.1h2.37v2.31h-2.37zM155.8 151.1h2.37v2.31h-2.37zM164.5 151.1h2.37v2.31h-2.37zM167.3 151.1h2.37v2.31h-2.37zM170.2 151.1h2.37v2.31h-2.37zM196.1 151.1h2.37v2.31h-2.37zM135.8 156.7h2.37v2.31h-2.37zM150.1 156.7h2.37v2.31h-2.37zM161.6 156.7h2.37v2.31h-2.37zM164.5 156.7h2.37v2.31h-2.37zM167.3 156.7h2.37v2.31h-2.37zM141.5 159.5h2.37v2.31h-2.37zM147.2 159.5h2.37v2.31h-2.37zM150.1 159.5h2.37v2.31h-2.37zM153.0 159.5h2.37v2.31h-2.37zM161.6 159.5h2.37v2.31h-2.37zM190.3 159.5h2.37v2.31h-2.37zM198.9 159.5h2.37v2.31h-2.37zM135.8 162.3h2.37v2.31h-2.37zM138.6 162.3h2.37v2.31h-2.37zM141.5 162.3h2.37v2.31h-2.37zM144.4 162.3h2.37v2.31h-2.37zM147.2 162.3h2.37v2.31h-2.37zM150.1 162.3h2.37v2.31h-2.37zM153.0 162.3h2.37v2.31h-2.37zM161.6 162.3h2.37v2.31h-2.37zM164.5 162.3h2.37v2.31h-2.37zM187.4 162.3h2.37v2.31h-2.37zM198.9 162.3h2.37v2.31h-2.37zM201.8 162.3h2.37v2.31h-2.37zM150.1 165.1h2.37v2.31h-2.37zM173.1 165.1h2.37v2.31h-2.37zM187.4 165.1h2.37v2.31h-2.37zM190.3 165.1h2.37v2.31h-2.37zM198.9 165.1h2.37v2.31h-2.37zM135.8 167.9h2.37v2.31h-2.37zM141.5 167.9h2.37v2.31h-2.37zM144.4 167.9h2.37v2.31h-2.37zM147.2 167.9h2.37v2.31h-2.37zM150.1 167.9h2.37v2.31h-2.37zM153.0 167.9h2.37v2.31h-2.37zM161.6 167.9h2.37v2.31h-2.37zM164.5 167.9h2.37v2.31h-2.37zM167.3 167.9h2.37v2.31h-2.37zM170.2 167.9h2.37v2.31h-2.37zM173.1 167.9h2.37v2.31h-2.37zM187.4 167.9h2.37v2.31h-2.37zM201.8 167.9h2.37v2.31h-2.37zM138.6 170.7h2.37v2.31h-2.37zM141.5 170.7h2.37v2.31h-2.37zM144.4 170.7h2.37v2.31h-2.37zM150.1 170.7h2.37v2.31h-2.37zM155.8 170.7h2.37v2.31h-2.37zM161.6 170.7h2.37v2.31h-2.37zM167.3 170.7h2.37v2.31h-2.37zM184.6 170.7h2.37v2.31h-2.37zM190.3 170.7h2.37v2.31h-2.37zM198.9 170.7h2.37v2.31h-2.37zM141.5 173.6h2.37v2.31h-2.37zM150.1 173.6h2.37v2.31h-2.37zM155.8 173.6h2.37v2.31h-2.37zM158.7 173.6h2.37v2.31h-2.37zM161.6 173.6h2.37v2.31h-2.37zM167.3 173.6h2.37v2.31h-2.37zM187.4 173.6h2.37v2.31h-2.37zM198.9 173.6h2.37v2.31h-2.37zM138.6 176.4h2.37v2.31h-2.37zM141.5 176.4h2.37v2.31h-2.37zM150.1 176.4h2.37v2.31h-2.37zM161.6 176.4h2.37v2.31h-2.37zM164.5 176.4h2.37v2.31h-2.37zM190.3 176.4h2.37v2.31h-2.37zM198.9 176.4h2.37v2.31h-2.37zM144.4 179.2h2.37v2.31h-2.37zM155.8 179.2h2.37v2.31h-2.37zM167.3 179.2h2.37v2.31h-2.37zM170.2 179.2h2.37v2.31h-2.37zM190.3 179.2h2.37v2.31h-2.37zM138.6 182.0h2.37v2.31h-2.37zM144.4 184.8h2.37v2.31h-2.37zM155.8 184.8h2.37v2.31h-2.37zM158.7 184.8h2.37v2.31h-2.37zM164.5 184.8h2.37v2.31h-2.37zM167.3 184.8h2.37v2.31h-2.37zM144.4 187.6h2.37v2.31h-2.37zM150.1 187.6h2.37v2.31h-2.37zM164.5 187.6h2.37v2.31h-2.37zM204.7 187.6h2.37v2.31h-2.37zM150.1 190.4h2.37v2.31h-2.37zM164.5 190.4h2.37v2.31h-2.37zM190.3 190.4h2.37v2.31h-2.37zM204.7 190.4h2.37v2.31h-2.37zM144.4 193.2h2.37v2.31h-2.37zM153.0 193.2h2.37v2.31h-2.37zM167.3 193.2h2.37v2.31h-2.37z"/>
<path fill="#f4f2f3" d="M153.0 49.9h2.37v2.31h-2.37zM173.1 49.9h2.37v2.31h-2.37zM187.4 49.9h2.37v2.31h-2.37zM196.1 49.9h2.37v2.31h-2.37zM144.4 52.7h2.37v2.31h-2.37zM153.0 52.7h2.37v2.31h-2.37zM158.7 52.7h2.37v2.31h-2.37zM161.6 52.7h2.37v2.31h-2.37zM181.7 52.7h2.37v2.31h-2.37zM187.4 52.7h2.37v2.31h-2.37zM155.8 55.5h2.37v2.31h-2.37zM184.6 55.5h2.37v2.31h-2.37zM190.3 55.5h2.37v2.31h-2.37zM196.1 55.5h2.37v2.31h-2.37zM144.4 58.3h2.37v2.31h-2.37zM150.1 58.3h2.37v2.31h-2.37zM153.0 58.3h2.37v2.31h-2.37zM135.8 61.1h2.37v2.31h-2.37zM153.0 61.1h2.37v2.31h-2.37zM173.1 61.1h2.37v2.31h-2.37zM184.6 61.1h2.37v2.31h-2.37zM153.0 63.9h2.37v2.31h-2.37zM158.7 63.9h2.37v2.31h-2.37zM181.7 63.9h2.37v2.31h-2.37zM190.3 63.9h2.37v2.31h-2.37zM135.8 66.7h2.37v2.31h-2.37zM170.2 66.7h2.37v2.31h-2.37zM193.2 66.7h2.37v2.31h-2.37zM196.1 66.7h2.37v2.31h-2.37zM213.3 66.7h2.37v2.31h-2.37zM147.2 69.5h2.37v2.31h-2.37zM170.2 69.5h2.37v2.31h-2.37zM187.4 69.5h2.37v2.31h-2.37zM190.3 69.5h2.37v2.31h-2.37zM147.2 72.3h2.37v2.31h-2.37zM187.4 72.3h2.37v2.31h-2.37zM153.0 75.2h2.37v2.31h-2.37zM153.0 78.0h2.37v2.31h-2.37zM181.7 78.0h2.37v2.31h-2.37zM184.6 78.0h2.37v2.31h-2.37zM190.3 78.0h2.37v2.31h-2.37zM198.9 78.0h2.37v2.31h-2.37zM170.2 80.8h2.37v2.31h-2.37zM173.1 80.8h2.37v2.31h-2.37zM184.6 80.8h2.37v2.31h-2.37zM190.3 80.8h2.37v2.31h-2.37zM170.2 83.6h2.37v2.31h-2.37zM196.1 83.6h2.37v2.31h-2.37zM201.8 86.4h2.37v2.31h-2.37zM187.4 89.2h2.37v2.31h-2.37zM170.2 92.0h2.37v2.31h-2.37zM173.1 92.0h2.37v2.31h-2.37zM178.8 92.0h2.37v2.31h-2.37zM193.2 92.0h2.37v2.31h-2.37zM173.1 94.8h2.37v2.31h-2.37zM193.2 94.8h2.37v2.31h-2.37zM204.7 94.8h2.37v2.31h-2.37zM135.8 97.6h2.37v2.31h-2.37zM141.5 97.6h2.37v2.31h-2.37zM173.1 97.6h2.37v2.31h-2.37zM193.2 97.6h2.37v2.31h-2.37zM167.3 100.5h2.37v2.31h-2.37zM170.2 100.5h2.37v2.31h-2.37zM193.2 100.5h2.37v2.31h-2.37zM135.8 103.3h2.37v2.31h-2.37zM170.2 103.3h2.37v2.31h-2.37zM190.3 103.3h2.37v2.31h-2.37zM193.2 103.3h2.37v2.31h-2.37zM135.8 106.1h2.37v2.31h-2.37zM161.6 106.1h2.37v2.31h-2.37zM170.2 106.1h2.37v2.31h-2.37zM173.1 106.1h2.37v2.31h-2.37zM178.8 106.1h2.37v2.31h-2.37zM190.3 106.1h2.37v2.31h-2.37zM201.8 106.1h2.37v2.31h-2.37zM213.3 106.1h2.37v2.31h-2.37zM141.5 108.9h2.37v2.31h-2.37zM144.4 108.9h2.37v2.31h-2.37zM164.5 108.9h2.37v2.31h-2.37zM173.1 108.9h2.37v2.31h-2.37zM175.9 108.9h2.37v2.31h-2.37zM187.4 108.9h2.37v2.31h-2.37zM190.3 108.9h2.37v2.31h-2.37zM213.3 108.9h2.37v2.31h-2.37zM135.8 111.7h2.37v2.31h-2.37zM144.4 111.7h2.37v2.31h-2.37zM161.6 111.7h2.37v2.31h-2.37zM167.3 111.7h2.37v2.31h-2.37zM170.2 111.7h2.37v2.31h-2.37zM187.4 111.7h2.37v2.31h-2.37zM190.3 111.7h2.37v2.31h-2.37zM201.8 111.7h2.37v2.31h-2.37zM204.7 111.7h2.37v2.31h-2.37zM213.3 111.7h2.37v2.31h-2.37zM135.8 114.5h2.37v2.31h-2.37zM144.4 114.5h2.37v2.31h-2.37zM161.6 114.5h2.37v2.31h-2.37zM164.5 114.5h2.37v2.31h-2.37zM167.3 114.5h2.37v2.31h-2.37zM170.2 114.5h2.37v2.31h-2.37zM173.1 114.5h2.37v2.31h-2.37zM178.8 114.5h2.37v2.31h-2.37zM187.4 114.5h2.37v2.31h-2.37zM213.3 114.5h2.37v2.31h-2.37zM144.4 117.3h2.37v2.31h-2.37zM167.3 117.3h2.37v2.31h-2.37zM173.1 117.3h2.37v2.31h-2.37zM187.4 117.3h2.37v2.31h-2.37zM190.3 117.3h2.37v2.31h-2.37zM213.3 117.3h2.37v2.31h-2.37zM155.8 120.1h2.37v2.31h-2.37zM161.6 120.1h2.37v2.31h-2.37zM164.5 120.1h2.37v2.31h-2.37zM178.8 120.1h2.37v2.31h-2.37zM196.1 120.1h2.37v2.31h-2.37zM201.8 120.1h2.37v2.31h-2.37zM213.3 120.1h2.37v2.31h-2.37zM135.8 122.9h2.37v2.31h-2.37zM138.6 122.9h2.37v2.31h-2.37zM167.3 122.9h2.37v2.31h-2.37zM173.1 122.9h2.37v2.31h-2.37zM175.9 122.9h2.37v2.31h-2.37zM187.4 122.9h2.37v2.31h-2.37zM196.1 122.9h2.37v2.31h-2.37zM204.7 122.9h2.37v2.31h-2.37zM138.6 125.8h2.37v2.31h-2.37zM173.1 125.8h2.37v2.31h-2.37zM190.3 125.8h2.37v2.31h-2.37zM196.1 125.8h2.37v2.31h-2.37zM204.7 125.8h2.37v2.31h-2.37zM187.4 128.6h2.37v2.31h-2.37zM196.1 128.6h2.37v2.31h-2.37zM187.4 131.4h2.37v2.31h-2.37zM196.1 131.4h2.37v2.31h-2.37zM204.7 131.4h2.37v2.31h-2.37zM213.3 131.4h2.37v2.31h-2.37zM173.1 134.2h2.37v2.31h-2.37zM193.2 137.0h2.37v2.31h-2.37zM196.1 137.0h2.37v2.31h-2.37zM204.7 137.0h2.37v2.31h-2.37zM147.2 139.8h2.37v2.31h-2.37zM167.3 139.8h2.37v2.31h-2.37zM170.2 139.8h2.37v2.31h-2.37zM175.9 139.8h2.37v2.31h-2.37zM190.3 139.8h2.37v2.31h-2.37zM196.1 139.8h2.37v2.31h-2.37zM213.3 139.8h2.37v2.31h-2.37zM150.1 142.6h2.37v2.31h-2.37zM153.0 142.6h2.37v2.31h-2.37zM196.1 142.6h2.37v2.31h-2.37zM213.3 142.6h2.37v2.31h-2.37zM193.2 145.4h2.37v2.31h-2.37zM196.1 145.4h2.37v2.31h-2.37zM198.9 145.4h2.37v2.31h-2.37zM213.3 145.4h2.37v2.31h-2.37zM193.2 148.3h2.37v2.31h-2.37zM201.8 148.3h2.37v2.31h-2.37zM204.7 148.3h2.37v2.31h-2.37zM213.3 148.3h2.37v2.31h-2.37zM190.3 151.1h2.37v2.31h-2.37zM213.3 151.1h2.37v2.31h-2.37zM155.8 153.9h2.37v2.31h-2.37zM170.2 153.9h2.37v2.31h-2.37zM190.3 153.9h2.37v2.31h-2.37zM170.2 156.7h2.37v2.31h-2.37zM196.1 156.7h2.37v2.31h-2.37zM198.9 156.7h2.37v2.31h-2.37zM213.3 156.7h2.37v2.31h-2.37zM135.8 159.5h2.37v2.31h-2.37zM155.8 159.5h2.37v2.31h-2.37zM155.8 162.3h2.37v2.31h-2.37zM178.8 162.3h2.37v2.31h-2.37zM190.3 162.3h2.37v2.31h-2.37zM204.7 162.3h2.37v2.31h-2.37zM213.3 162.3h2.37v2.31h-2.37zM135.8 165.1h2.37v2.31h-2.37zM147.2 165.1h2.37v2.31h-2.37zM155.8 165.1h2.37v2.31h-2.37zM161.6 165.1h2.37v2.31h-2.37zM201.8 165.1h2.37v2.31h-2.37zM155.8 167.9h2.37v2.31h-2.37zM184.6 167.9h2.37v2.31h-2.37zM190.3 167.9h2.37v2.31h-2.37zM187.4 170.7h2.37v2.31h-2.37zM201.8 170.7h2.37v2.31h-2.37zM147.2 173.6h2.37v2.31h-2.37zM178.8 173.6h2.37v2.31h-2.37zM190.3 173.6h2.37v2.31h-2.37zM201.8 173.6h2.37v2.31h-2.37zM213.3 173.6h2.37v2.31h-2.37zM147.2 176.4h2.37v2.31h-2.37zM155.8 176.4h2.37v2.31h-2.37zM187.4 176.4h2.37v2.31h-2.37zM201.8 176.4h2.37v2.31h-2.37zM213.3 176.4h2.37v2.31h-2.37zM150.1 179.2h2.37v2.31h-2.37zM158.7 179.2h2.37v2.31h-2.37zM178.8 179.2h2.37v2.31h-2.37zM181.7 179.2h2.37v2.31h-2.37zM204.7 179.2h2.37v2.31h-2.37zM150.1 182.0h2.37v2.31h-2.37zM158.7 182.0h2.37v2.31h-2.37zM161.6 182.0h2.37v2.31h-2.37zM181.7 182.0h2.37v2.31h-2.37zM190.3 182.0h2.37v2.31h-2.37zM204.7 182.0h2.37v2.31h-2.37zM213.3 182.0h2.37v2.31h-2.37zM150.1 184.8h2.37v2.31h-2.37zM170.2 184.8h2.37v2.31h-2.37zM181.7 184.8h2.37v2.31h-2.37zM190.3 184.8h2.37v2.31h-2.37zM204.7 184.8h2.37v2.31h-2.37zM155.8 187.6h2.37v2.31h-2.37zM158.7 187.6h2.37v2.31h-2.37zM181.7 187.6h2.37v2.31h-2.37zM190.3 187.6h2.37v2.31h-2.37zM144.4 190.4h2.37v2.31h-2.37zM170.2 190.4h2.37v2.31h-2.37zM173.1 190.4h2.37v2.31h-2.37zM178.8 190.4h2.37v2.31h-2.37zM184.6 190.4h2.37v2.31h-2.37zM150.1 193.2h2.37v2.31h-2.37zM155.8 193.2h2.37v2.31h-2.37zM158.7 193.2h2.37v2.31h-2.37zM170.2 193.2h2.37v2.31h-2.37zM181.7 193.2h2.37v2.31h-2.37zM187.4 193.2h2.37v2.31h-2.37zM190.3 193.2h2.37v2.31h-2.37zM204.7 193.2h2.37v2.31h-2.37zM213.3 193.2h2.37v2.31h-2.37z"/>
<path fill="#dc6e5a" d="M164.5 49.9h2.37v2.31h-2.37zM164.5 55.5h2.37v2.31h-2.37zM164.5 58.3h2.37v2.31h-2.37zM138.6 61.1h2.37v2.31h-2.37zM161.6 61.1h2.37v2.31h-2.37zM164.5 61.1h2.37v2.31h-2.37zM150.1 72.3h2.37v2.31h-2.37zM167.3 75.2h2.37v2.31h-2.37zM141.5 78.0h2.37v2.31h-2.37zM198.9 80.8h2.37v2.31h-2.37zM153.0 92.0h2.37v2.31h-2.37zM153.0 94.8h2.37v2.31h-2.37zM158.7 94.8h2.37v2.31h-2.37zM207.5 97.6h2.37v2.31h-2.37zM198.9 100.5h2.37v2.31h-2.37zM153.0 103.3h2.37v2.31h-2.37zM158.7 103.3h2.37v2.31h-2.37zM150.1 106.1h2.37v2.31h-2.37zM150.1 108.9h2.37v2.31h-2.37zM150.1 114.5h2.37v2.31h-2.37zM138.6 117.3h2.37v2.31h-2.37zM153.0 122.9h2.37v2.31h-2.37zM161.6 122.9h2.37v2.31h-2.37zM164.5 122.9h2.37v2.31h-2.37zM150.1 128.6h2.37v2.31h-2.37zM153.0 128.6h2.37v2.31h-2.37zM150.1 131.4h2.37v2.31h-2.37zM153.0 131.4h2.37v2.31h-2.37zM150.1 139.8h2.37v2.31h-2.37zM161.6 142.6h2.37v2.31h-2.37zM201.8 142.6h2.37v2.31h-2.37zM158.7 145.4h2.37v2.31h-2.37zM161.6 145.4h2.37v2.31h-2.37zM158.7 148.3h2.37v2.31h-2.37zM161.6 151.1h2.37v2.31h-2.37zM138.6 153.9h2.37v2.31h-2.37zM158.7 153.9h2.37v2.31h-2.37zM161.6 153.9h2.37v2.31h-2.37zM141.5 156.7h2.37v2.31h-2.37zM138.6 159.5h2.37v2.31h-2.37zM173.1 159.5h2.37v2.31h-2.37zM164.5 170.7h2.37v2.31h-2.37zM164.5 173.6h2.37v2.31h-2.37zM173.1 173.6h2.37v2.31h-2.37zM170.2 176.4h2.37v2.31h-2.37z"/>
<path fill="#6aa6d6" d="M175.9 49.9h2.37v2.31h-2.37zM210.4 49.9h2.37v2.31h-2.37zM175.9 52.7h2.37v2.31h-2.37zM175.9 55.5h2.37v2.31h-2.37zM210.4 55.5h2.37v2.31h-2.37zM175.9 58.3h2.37v2.31h-2.37zM210.4 58.3h2.37v2.31h-2.37zM175.9 61.1h2.37v2.31h-2.37zM210.4 61.1h2.37v2.31h-2.37zM175.9 63.9h2.37v2.31h-2.37zM175.9 66.7h2.37v2.31h-2.37zM210.4 66.7h2.37v2.31h-2.37zM210.4 69.5h2.37v2.31h-2.37zM175.9 72.3h2.37v2.31h-2.37zM210.4 72.3h2.37v2.31h-2.37zM175.9 75.2h2.37v2.31h-2.37zM210.4 75.2h2.37v2.31h-2.37zM175.9 78.0h2.37v2.31h-2.37zM210.4 78.0h2.37v2.31h-2.37zM175.9 80.8h2.37v2.31h-2.37zM210.4 80.8h2.37v2.31h-2.37zM175.9 83.6h2.37v2.31h-2.37zM210.4 83.6h2.37v2.31h-2.37zM210.4 86.4h2.37v2.31h-2.37zM210.4 89.2h2.37v2.31h-2.37zM210.4 94.8h2.37v2.31h-2.37zM210.4 97.6h2.37v2.31h-2.37zM210.4 103.3h2.37v2.31h-2.37zM198.9 108.9h2.37v2.31h-2.37zM198.9 111.7h2.37v2.31h-2.37zM201.8 122.9h2.37v2.31h-2.37zM207.5 122.9h2.37v2.31h-2.37zM201.8 125.8h2.37v2.31h-2.37zM201.8 128.6h2.37v2.31h-2.37zM201.8 131.4h2.37v2.31h-2.37zM201.8 134.2h2.37v2.31h-2.37zM201.8 137.0h2.37v2.31h-2.37zM175.9 142.6h2.37v2.31h-2.37zM175.9 145.4h2.37v2.31h-2.37zM175.9 151.1h2.37v2.31h-2.37zM178.8 156.7h2.37v2.31h-2.37zM175.9 159.5h2.37v2.31h-2.37zM196.1 165.1h2.37v2.31h-2.37zM210.4 173.6h2.37v2.31h-2.37zM198.9 179.2h2.37v2.31h-2.37zM198.9 184.8h2.37v2.31h-2.37zM193.2 187.6h2.37v2.31h-2.37zM210.4 193.2h2.37v2.31h-2.37z"/>
<path fill="#a8cde6" d="M178.8 49.9h2.37v2.31h-2.37zM184.6 49.9h2.37v2.31h-2.37zM207.5 49.9h2.37v2.31h-2.37zM178.8 52.7h2.37v2.31h-2.37zM193.2 52.7h2.37v2.31h-2.37zM204.7 52.7h2.37v2.31h-2.37zM207.5 52.7h2.37v2.31h-2.37zM178.8 55.5h2.37v2.31h-2.37zM204.7 55.5h2.37v2.31h-2.37zM178.8 58.3h2.37v2.31h-2.37zM187.4 58.3h2.37v2.31h-2.37zM204.7 58.3h2.37v2.31h-2.37zM178.8 61.1h2.37v2.31h-2.37zM204.7 61.1h2.37v2.31h-2.37zM207.5 61.1h2.37v2.31h-2.37zM184.6 63.9h2.37v2.31h-2.37zM207.5 63.9h2.37v2.31h-2.37zM210.4 63.9h2.37v2.31h-2.37zM178.8 66.7h2.37v2.31h-2.37zM175.9 69.5h2.37v2.31h-2.37zM184.6 69.5h2.37v2.31h-2.37zM201.8 69.5h2.37v2.31h-2.37zM207.5 69.5h2.37v2.31h-2.37zM213.3 69.5h2.37v2.31h-2.37zM193.2 72.3h2.37v2.31h-2.37zM204.7 72.3h2.37v2.31h-2.37zM213.3 72.3h2.37v2.31h-2.37zM178.8 75.2h2.37v2.31h-2.37zM204.7 75.2h2.37v2.31h-2.37zM135.8 78.0h2.37v2.31h-2.37zM178.8 78.0h2.37v2.31h-2.37zM196.1 78.0h2.37v2.31h-2.37zM201.8 78.0h2.37v2.31h-2.37zM204.7 78.0h2.37v2.31h-2.37zM135.8 80.8h2.37v2.31h-2.37zM178.8 80.8h2.37v2.31h-2.37zM193.2 80.8h2.37v2.31h-2.37zM204.7 80.8h2.37v2.31h-2.37zM207.5 80.8h2.37v2.31h-2.37zM178.8 83.6h2.37v2.31h-2.37zM207.5 83.6h2.37v2.31h-2.37zM213.3 83.6h2.37v2.31h-2.37zM135.8 86.4h2.37v2.31h-2.37zM175.9 86.4h2.37v2.31h-2.37zM178.8 86.4h2.37v2.31h-2.37zM204.7 86.4h2.37v2.31h-2.37zM207.5 86.4h2.37v2.31h-2.37zM213.3 86.4h2.37v2.31h-2.37zM175.9 89.2h2.37v2.31h-2.37zM181.7 89.2h2.37v2.31h-2.37zM190.3 89.2h2.37v2.31h-2.37zM204.7 89.2h2.37v2.31h-2.37zM213.3 89.2h2.37v2.31h-2.37zM155.8 92.0h2.37v2.31h-2.37zM181.7 92.0h2.37v2.31h-2.37zM210.4 92.0h2.37v2.31h-2.37zM155.8 94.8h2.37v2.31h-2.37zM167.3 97.6h2.37v2.31h-2.37zM150.1 100.5h2.37v2.31h-2.37zM181.7 100.5h2.37v2.31h-2.37zM210.4 100.5h2.37v2.31h-2.37zM150.1 103.3h2.37v2.31h-2.37zM155.8 103.3h2.37v2.31h-2.37zM175.9 106.1h2.37v2.31h-2.37zM181.7 106.1h2.37v2.31h-2.37zM184.6 106.1h2.37v2.31h-2.37zM210.4 106.1h2.37v2.31h-2.37zM181.7 108.9h2.37v2.31h-2.37zM196.1 108.9h2.37v2.31h-2.37zM207.5 108.9h2.37v2.31h-2.37zM210.4 108.9h2.37v2.31h-2.37zM210.4 111.7h2.37v2.31h-2.37zM181.7 114.5h2.37v2.31h-2.37zM184.6 114.5h2.37v2.31h-2.37zM198.9 114.5h2.37v2.31h-2.37zM207.5 114.5h2.37v2.31h-2.37zM181.7 117.3h2.37v2.31h-2.37zM198.9 117.3h2.37v2.31h-2.37zM204.7 117.3h2.37v2.31h-2.37zM207.5 117.3h2.37v2.31h-2.37zM210.4 117.3h2.37v2.31h-2.37zM181.7 120.1h2.37v2.31h-2.37zM184.6 120.1h2.37v2.31h-2.37zM198.9 120.1h2.37v2.31h-2.37zM204.7 120.1h2.37v2.31h-2.37zM210.4 120.1h2.37v2.31h-2.37zM181.7 122.9h2.37v2.31h-2.37zM184.6 122.9h2.37v2.31h-2.37zM210.4 122.9h2.37v2.31h-2.37zM181.7 125.8h2.37v2.31h-2.37zM184.6 125.8h2.37v2.31h-2.37zM181.7 128.6h2.37v2.31h-2.37zM207.5 128.6h2.37v2.31h-2.37zM210.4 128.6h2.37v2.31h-2.37zM175.9 131.4h2.37v2.31h-2.37zM184.6 131.4h2.37v2.31h-2.37zM193.2 131.4h2.37v2.31h-2.37zM207.5 131.4h2.37v2.31h-2.37zM210.4 131.4h2.37v2.31h-2.37zM184.6 134.2h2.37v2.31h-2.37zM207.5 134.2h2.37v2.31h-2.37zM210.4 134.2h2.37v2.31h-2.37zM207.5 137.0h2.37v2.31h-2.37zM210.4 137.0h2.37v2.31h-2.37zM135.8 139.8h2.37v2.31h-2.37zM181.7 139.8h2.37v2.31h-2.37zM184.6 139.8h2.37v2.31h-2.37zM201.8 139.8h2.37v2.31h-2.37zM207.5 139.8h2.37v2.31h-2.37zM210.4 139.8h2.37v2.31h-2.37zM178.8 142.6h2.37v2.31h-2.37zM210.4 142.6h2.37v2.31h-2.37zM178.8 145.4h2.37v2.31h-2.37zM184.6 145.4h2.37v2.31h-2.37zM207.5 145.4h2.37v2.31h-2.37zM175.9 148.3h2.37v2.31h-2.37zM178.8 148.3h2.37v2.31h-2.37zM184.6 148.3h2.37v2.31h-2.37zM210.4 148.3h2.37v2.31h-2.37zM178.8 151.1h2.37v2.31h-2.37zM184.6 151.1h2.37v2.31h-2.37zM207.5 151.1h2.37v2.31h-2.37zM210.4 151.1h2.37v2.31h-2.37zM175.9 153.9h2.37v2.31h-2.37zM178.8 153.9h2.37v2.31h-2.37zM184.6 153.9h2.37v2.31h-2.37zM193.2 153.9h2.37v2.31h-2.37zM207.5 153.9h2.37v2.31h-2.37zM210.4 153.9h2.37v2.31h-2.37zM175.9 156.7h2.37v2.31h-2.37zM204.7 156.7h2.37v2.31h-2.37zM207.5 159.5h2.37v2.31h-2.37zM210.4 159.5h2.37v2.31h-2.37zM175.9 162.3h2.37v2.31h-2.37zM184.6 162.3h2.37v2.31h-2.37zM207.5 162.3h2.37v2.31h-2.37zM210.4 162.3h2.37v2.31h-2.37zM175.9 165.1h2.37v2.31h-2.37zM207.5 165.1h2.37v2.31h-2.37zM210.4 165.1h2.37v2.31h-2.37zM175.9 167.9h2.37v2.31h-2.37zM207.5 167.9h2.37v2.31h-2.37zM210.4 167.9h2.37v2.31h-2.37zM175.9 170.7h2.37v2.31h-2.37zM196.1 170.7h2.37v2.31h-2.37zM210.4 170.7h2.37v2.31h-2.37zM175.9 173.6h2.37v2.31h-2.37zM196.1 173.6h2.37v2.31h-2.37zM207.5 173.6h2.37v2.31h-2.37zM175.9 176.4h2.37v2.31h-2.37zM181.7 176.4h2.37v2.31h-2.37zM193.2 176.4h2.37v2.31h-2.37zM196.1 176.4h2.37v2.31h-2.37zM210.4 176.4h2.37v2.31h-2.37zM193.2 179.2h2.37v2.31h-2.37zM207.5 179.2h2.37v2.31h-2.37zM210.4 179.2h2.37v2.31h-2.37zM147.2 182.0h2.37v2.31h-2.37zM175.9 182.0h2.37v2.31h-2.37zM193.2 182.0h2.37v2.31h-2.37zM198.9 182.0h2.37v2.31h-2.37zM207.5 182.0h2.37v2.31h-2.37zM210.4 182.0h2.37v2.31h-2.37zM175.9 184.8h2.37v2.31h-2.37zM193.2 184.8h2.37v2.31h-2.37zM210.4 184.8h2.37v2.31h-2.37zM147.2 187.6h2.37v2.31h-2.37zM198.9 187.6h2.37v2.31h-2.37zM207.5 187.6h2.37v2.31h-2.37zM210.4 187.6h2.37v2.31h-2.37zM193.2 190.4h2.37v2.31h-2.37zM198.9 190.4h2.37v2.31h-2.37zM207.5 190.4h2.37v2.31h-2.37zM210.4 190.4h2.37v2.31h-2.37zM173.1 193.2h2.37v2.31h-2.37z"/>
<path fill="#2f70b4" d="M210.4 52.7h2.37v2.31h-2.37zM207.5 111.7h2.37v2.31h-2.37z"/>
<path fill="#b2242c" d="M158.7 100.5h2.37v2.31h-2.37zM170.2 162.3h2.37v2.31h-2.37zM138.6 187.6h2.37v2.31h-2.37z"/>
</g>
<rect x="136.0" y="46.1" width="39.7" height="3.1" fill="#6f95d2"/>
<rect x="175.7" y="46.1" width="39.7" height="3.1" fill="#f6c391"/>
<g filter="url(#hb)"><rect x="231.5" y="49.6" width="80.0" height="147.2" fill="#eeeef1"/>
<path fill="#d9e8f3" d="M231.8 49.9h2.36v2.33h-2.36zM234.6 49.9h2.36v2.33h-2.36zM243.2 49.9h2.36v2.33h-2.36zM254.6 49.9h2.36v2.33h-2.36zM257.5 49.9h2.36v2.33h-2.36zM268.9 49.9h2.36v2.33h-2.36zM234.6 52.7h2.36v2.33h-2.36zM237.5 52.7h2.36v2.33h-2.36zM243.2 52.7h2.36v2.33h-2.36zM251.8 52.7h2.36v2.33h-2.36zM254.6 52.7h2.36v2.33h-2.36zM257.5 52.7h2.36v2.33h-2.36zM268.9 52.7h2.36v2.33h-2.36zM280.3 52.7h2.36v2.33h-2.36zM288.9 52.7h2.36v2.33h-2.36zM231.8 55.5h2.36v2.33h-2.36zM243.2 55.5h2.36v2.33h-2.36zM251.8 55.5h2.36v2.33h-2.36zM257.5 55.5h2.36v2.33h-2.36zM268.9 55.5h2.36v2.33h-2.36zM280.3 55.5h2.36v2.33h-2.36zM231.8 58.3h2.36v2.33h-2.36zM234.6 58.3h2.36v2.33h-2.36zM237.5 58.3h2.36v2.33h-2.36zM251.8 58.3h2.36v2.33h-2.36zM254.6 58.3h2.36v2.33h-2.36zM257.5 58.3h2.36v2.33h-2.36zM263.2 58.3h2.36v2.33h-2.36zM268.9 58.3h2.36v2.33h-2.36zM274.6 58.3h2.36v2.33h-2.36zM280.3 58.3h2.36v2.33h-2.36zM237.5 61.2h2.36v2.33h-2.36zM240.3 61.2h2.36v2.33h-2.36zM243.2 61.2h2.36v2.33h-2.36zM254.6 61.2h2.36v2.33h-2.36zM257.5 61.2h2.36v2.33h-2.36zM263.2 61.2h2.36v2.33h-2.36zM266.0 61.2h2.36v2.33h-2.36zM280.3 61.2h2.36v2.33h-2.36zM237.5 64.0h2.36v2.33h-2.36zM254.6 64.0h2.36v2.33h-2.36zM260.3 64.0h2.36v2.33h-2.36zM280.3 64.0h2.36v2.33h-2.36zM231.8 66.8h2.36v2.33h-2.36zM234.6 66.8h2.36v2.33h-2.36zM237.5 66.8h2.36v2.33h-2.36zM243.2 66.8h2.36v2.33h-2.36zM254.6 66.8h2.36v2.33h-2.36zM257.5 66.8h2.36v2.33h-2.36zM263.2 66.8h2.36v2.33h-2.36zM268.9 66.8h2.36v2.33h-2.36zM280.3 66.8h2.36v2.33h-2.36zM234.6 69.7h2.36v2.33h-2.36zM248.9 69.7h2.36v2.33h-2.36zM257.5 69.7h2.36v2.33h-2.36zM260.3 69.7h2.36v2.33h-2.36zM263.2 69.7h2.36v2.33h-2.36zM280.3 69.7h2.36v2.33h-2.36zM286.0 69.7h2.36v2.33h-2.36zM291.8 69.7h2.36v2.33h-2.36zM297.5 69.7h2.36v2.33h-2.36zM300.3 69.7h2.36v2.33h-2.36zM231.8 72.5h2.36v2.33h-2.36zM234.6 72.5h2.36v2.33h-2.36zM237.5 72.5h2.36v2.33h-2.36zM240.3 72.5h2.36v2.33h-2.36zM246.0 72.5h2.36v2.33h-2.36zM248.9 72.5h2.36v2.33h-2.36zM257.5 72.5h2.36v2.33h-2.36zM260.3 72.5h2.36v2.33h-2.36zM263.2 72.5h2.36v2.33h-2.36zM268.9 72.5h2.36v2.33h-2.36zM280.3 72.5h2.36v2.33h-2.36zM286.0 72.5h2.36v2.33h-2.36zM291.8 72.5h2.36v2.33h-2.36zM297.5 72.5h2.36v2.33h-2.36zM231.8 75.3h2.36v2.33h-2.36zM248.9 75.3h2.36v2.33h-2.36zM263.2 75.3h2.36v2.33h-2.36zM268.9 75.3h2.36v2.33h-2.36zM280.3 75.3h2.36v2.33h-2.36zM286.0 75.3h2.36v2.33h-2.36zM291.8 75.3h2.36v2.33h-2.36zM300.3 75.3h2.36v2.33h-2.36zM231.8 78.2h2.36v2.33h-2.36zM234.6 78.2h2.36v2.33h-2.36zM240.3 78.2h2.36v2.33h-2.36zM251.8 78.2h2.36v2.33h-2.36zM254.6 78.2h2.36v2.33h-2.36zM257.5 78.2h2.36v2.33h-2.36zM260.3 78.2h2.36v2.33h-2.36zM263.2 78.2h2.36v2.33h-2.36zM266.0 78.2h2.36v2.33h-2.36zM280.3 78.2h2.36v2.33h-2.36zM291.8 78.2h2.36v2.33h-2.36zM297.5 78.2h2.36v2.33h-2.36zM300.3 78.2h2.36v2.33h-2.36zM248.9 81.0h2.36v2.33h-2.36zM263.2 81.0h2.36v2.33h-2.36zM268.9 81.0h2.36v2.33h-2.36zM280.3 81.0h2.36v2.33h-2.36zM297.5 81.0h2.36v2.33h-2.36zM300.3 81.0h2.36v2.33h-2.36zM303.2 81.0h2.36v2.33h-2.36zM234.6 83.8h2.36v2.33h-2.36zM243.2 83.8h2.36v2.33h-2.36zM254.6 83.8h2.36v2.33h-2.36zM263.2 83.8h2.36v2.33h-2.36zM268.9 83.8h2.36v2.33h-2.36zM280.3 83.8h2.36v2.33h-2.36zM286.0 83.8h2.36v2.33h-2.36zM297.5 83.8h2.36v2.33h-2.36zM300.3 83.8h2.36v2.33h-2.36zM231.8 86.7h2.36v2.33h-2.36zM237.5 86.7h2.36v2.33h-2.36zM246.0 86.7h2.36v2.33h-2.36zM251.8 86.7h2.36v2.33h-2.36zM257.5 86.7h2.36v2.33h-2.36zM266.0 86.7h2.36v2.33h-2.36zM268.9 86.7h2.36v2.33h-2.36zM277.5 86.7h2.36v2.33h-2.36zM280.3 86.7h2.36v2.33h-2.36zM286.0 86.7h2.36v2.33h-2.36zM306.0 86.7h2.36v2.33h-2.36zM234.6 89.5h2.36v2.33h-2.36zM237.5 89.5h2.36v2.33h-2.36zM251.8 89.5h2.36v2.33h-2.36zM257.5 89.5h2.36v2.33h-2.36zM268.9 89.5h2.36v2.33h-2.36zM280.3 89.5h2.36v2.33h-2.36zM283.2 89.5h2.36v2.33h-2.36zM286.0 89.5h2.36v2.33h-2.36zM231.8 92.3h2.36v2.33h-2.36zM240.3 92.3h2.36v2.33h-2.36zM248.9 92.3h2.36v2.33h-2.36zM251.8 92.3h2.36v2.33h-2.36zM254.6 92.3h2.36v2.33h-2.36zM257.5 92.3h2.36v2.33h-2.36zM266.0 92.3h2.36v2.33h-2.36zM268.9 92.3h2.36v2.33h-2.36zM280.3 92.3h2.36v2.33h-2.36zM286.0 92.3h2.36v2.33h-2.36zM237.5 95.1h2.36v2.33h-2.36zM243.2 95.1h2.36v2.33h-2.36zM257.5 95.1h2.36v2.33h-2.36zM260.3 95.1h2.36v2.33h-2.36zM266.0 95.1h2.36v2.33h-2.36zM268.9 95.1h2.36v2.33h-2.36zM280.3 95.1h2.36v2.33h-2.36zM231.8 98.0h2.36v2.33h-2.36zM243.2 98.0h2.36v2.33h-2.36zM246.0 98.0h2.36v2.33h-2.36zM248.9 98.0h2.36v2.33h-2.36zM251.8 98.0h2.36v2.33h-2.36zM277.5 98.0h2.36v2.33h-2.36zM283.2 98.0h2.36v2.33h-2.36zM306.0 98.0h2.36v2.33h-2.36zM237.5 100.8h2.36v2.33h-2.36zM240.3 100.8h2.36v2.33h-2.36zM243.2 100.8h2.36v2.33h-2.36zM251.8 100.8h2.36v2.33h-2.36zM254.6 100.8h2.36v2.33h-2.36zM257.5 100.8h2.36v2.33h-2.36zM263.2 100.8h2.36v2.33h-2.36zM277.5 100.8h2.36v2.33h-2.36zM280.3 100.8h2.36v2.33h-2.36zM306.0 100.8h2.36v2.33h-2.36zM231.8 103.6h2.36v2.33h-2.36zM243.2 103.6h2.36v2.33h-2.36zM246.0 103.6h2.36v2.33h-2.36zM248.9 103.6h2.36v2.33h-2.36zM251.8 103.6h2.36v2.33h-2.36zM260.3 103.6h2.36v2.33h-2.36zM263.2 103.6h2.36v2.33h-2.36zM266.0 103.6h2.36v2.33h-2.36zM268.9 103.6h2.36v2.33h-2.36zM280.3 103.6h2.36v2.33h-2.36zM283.2 103.6h2.36v2.33h-2.36zM286.0 103.6h2.36v2.33h-2.36zM237.5 106.5h2.36v2.33h-2.36zM246.0 106.5h2.36v2.33h-2.36zM251.8 106.5h2.36v2.33h-2.36zM257.5 106.5h2.36v2.33h-2.36zM277.5 106.5h2.36v2.33h-2.36zM280.3 106.5h2.36v2.33h-2.36zM286.0 106.5h2.36v2.33h-2.36zM291.8 106.5h2.36v2.33h-2.36zM297.5 106.5h2.36v2.33h-2.36zM300.3 106.5h2.36v2.33h-2.36zM237.5 109.3h2.36v2.33h-2.36zM257.5 109.3h2.36v2.33h-2.36zM266.0 109.3h2.36v2.33h-2.36zM271.8 109.3h2.36v2.33h-2.36zM277.5 109.3h2.36v2.33h-2.36zM280.3 109.3h2.36v2.33h-2.36zM283.2 109.3h2.36v2.33h-2.36zM286.0 109.3h2.36v2.33h-2.36zM300.3 109.3h2.36v2.33h-2.36zM306.0 109.3h2.36v2.33h-2.36zM231.8 112.1h2.36v2.33h-2.36zM237.5 112.1h2.36v2.33h-2.36zM257.5 112.1h2.36v2.33h-2.36zM271.8 112.1h2.36v2.33h-2.36zM280.3 112.1h2.36v2.33h-2.36zM291.8 112.1h2.36v2.33h-2.36zM294.6 112.1h2.36v2.33h-2.36zM297.5 112.1h2.36v2.33h-2.36zM246.0 115.0h2.36v2.33h-2.36zM257.5 115.0h2.36v2.33h-2.36zM266.0 115.0h2.36v2.33h-2.36zM271.8 115.0h2.36v2.33h-2.36zM291.8 115.0h2.36v2.33h-2.36zM294.6 115.0h2.36v2.33h-2.36zM300.3 115.0h2.36v2.33h-2.36zM308.9 115.0h2.36v2.33h-2.36zM231.8 117.8h2.36v2.33h-2.36zM234.6 117.8h2.36v2.33h-2.36zM237.5 117.8h2.36v2.33h-2.36zM257.5 117.8h2.36v2.33h-2.36zM266.0 117.8h2.36v2.33h-2.36zM268.9 117.8h2.36v2.33h-2.36zM277.5 117.8h2.36v2.33h-2.36zM280.3 117.8h2.36v2.33h-2.36zM288.9 117.8h2.36v2.33h-2.36zM291.8 117.8h2.36v2.33h-2.36zM294.6 117.8h2.36v2.33h-2.36zM297.5 117.8h2.36v2.33h-2.36zM300.3 117.8h2.36v2.33h-2.36zM303.2 117.8h2.36v2.33h-2.36zM308.9 117.8h2.36v2.33h-2.36zM246.0 120.6h2.36v2.33h-2.36zM257.5 120.6h2.36v2.33h-2.36zM266.0 120.6h2.36v2.33h-2.36zM280.3 120.6h2.36v2.33h-2.36zM286.0 120.6h2.36v2.33h-2.36zM291.8 120.6h2.36v2.33h-2.36zM297.5 120.6h2.36v2.33h-2.36zM300.3 120.6h2.36v2.33h-2.36zM303.2 120.6h2.36v2.33h-2.36zM231.8 123.4h2.36v2.33h-2.36zM240.3 123.4h2.36v2.33h-2.36zM274.6 123.4h2.36v2.33h-2.36zM280.3 123.4h2.36v2.33h-2.36zM283.2 123.4h2.36v2.33h-2.36zM288.9 123.4h2.36v2.33h-2.36zM291.8 123.4h2.36v2.33h-2.36zM297.5 123.4h2.36v2.33h-2.36zM300.3 123.4h2.36v2.33h-2.36zM303.2 123.4h2.36v2.33h-2.36zM308.9 123.4h2.36v2.33h-2.36zM274.6 126.3h2.36v2.33h-2.36zM288.9 126.3h2.36v2.33h-2.36zM291.8 126.3h2.36v2.33h-2.36zM294.6 126.3h2.36v2.33h-2.36zM297.5 126.3h2.36v2.33h-2.36zM300.3 126.3h2.36v2.33h-2.36zM303.2 126.3h2.36v2.33h-2.36zM308.9 126.3h2.36v2.33h-2.36zM231.8 129.1h2.36v2.33h-2.36zM274.6 129.1h2.36v2.33h-2.36zM280.3 129.1h2.36v2.33h-2.36zM283.2 129.1h2.36v2.33h-2.36zM288.9 129.1h2.36v2.33h-2.36zM300.3 129.1h2.36v2.33h-2.36zM306.0 129.1h2.36v2.33h-2.36zM280.3 131.9h2.36v2.33h-2.36zM283.2 131.9h2.36v2.33h-2.36zM288.9 131.9h2.36v2.33h-2.36zM300.3 131.9h2.36v2.33h-2.36zM303.2 131.9h2.36v2.33h-2.36zM308.9 131.9h2.36v2.33h-2.36zM240.3 134.8h2.36v2.33h-2.36zM274.6 134.8h2.36v2.33h-2.36zM280.3 134.8h2.36v2.33h-2.36zM286.0 134.8h2.36v2.33h-2.36zM291.8 134.8h2.36v2.33h-2.36zM297.5 134.8h2.36v2.33h-2.36zM300.3 134.8h2.36v2.33h-2.36zM303.2 134.8h2.36v2.33h-2.36zM306.0 134.8h2.36v2.33h-2.36zM308.9 134.8h2.36v2.33h-2.36zM237.5 137.6h2.36v2.33h-2.36zM240.3 137.6h2.36v2.33h-2.36zM274.6 137.6h2.36v2.33h-2.36zM280.3 137.6h2.36v2.33h-2.36zM286.0 137.6h2.36v2.33h-2.36zM288.9 137.6h2.36v2.33h-2.36zM291.8 137.6h2.36v2.33h-2.36zM297.5 137.6h2.36v2.33h-2.36zM300.3 137.6h2.36v2.33h-2.36zM306.0 137.6h2.36v2.33h-2.36zM308.9 137.6h2.36v2.33h-2.36zM240.3 140.4h2.36v2.33h-2.36zM280.3 140.4h2.36v2.33h-2.36zM283.2 140.4h2.36v2.33h-2.36zM286.0 140.4h2.36v2.33h-2.36zM288.9 140.4h2.36v2.33h-2.36zM294.6 140.4h2.36v2.33h-2.36zM297.5 140.4h2.36v2.33h-2.36zM308.9 140.4h2.36v2.33h-2.36zM231.8 143.3h2.36v2.33h-2.36zM246.0 143.3h2.36v2.33h-2.36zM274.6 143.3h2.36v2.33h-2.36zM286.0 143.3h2.36v2.33h-2.36zM288.9 143.3h2.36v2.33h-2.36zM291.8 143.3h2.36v2.33h-2.36zM297.5 143.3h2.36v2.33h-2.36zM271.8 146.1h2.36v2.33h-2.36zM274.6 146.1h2.36v2.33h-2.36zM286.0 146.1h2.36v2.33h-2.36zM294.6 146.1h2.36v2.33h-2.36zM297.5 146.1h2.36v2.33h-2.36zM303.2 146.1h2.36v2.33h-2.36zM306.0 146.1h2.36v2.33h-2.36zM231.8 148.9h2.36v2.33h-2.36zM257.5 148.9h2.36v2.33h-2.36zM271.8 148.9h2.36v2.33h-2.36zM274.6 148.9h2.36v2.33h-2.36zM280.3 148.9h2.36v2.33h-2.36zM286.0 148.9h2.36v2.33h-2.36zM291.8 148.9h2.36v2.33h-2.36zM294.6 148.9h2.36v2.33h-2.36zM297.5 148.9h2.36v2.33h-2.36zM300.3 148.9h2.36v2.33h-2.36zM308.9 148.9h2.36v2.33h-2.36zM231.8 151.8h2.36v2.33h-2.36zM257.5 151.8h2.36v2.33h-2.36zM271.8 151.8h2.36v2.33h-2.36zM280.3 151.8h2.36v2.33h-2.36zM286.0 151.8h2.36v2.33h-2.36zM300.3 151.8h2.36v2.33h-2.36zM303.2 151.8h2.36v2.33h-2.36zM306.0 151.8h2.36v2.33h-2.36zM308.9 151.8h2.36v2.33h-2.36zM231.8 154.6h2.36v2.33h-2.36zM257.5 154.6h2.36v2.33h-2.36zM271.8 154.6h2.36v2.33h-2.36zM286.0 154.6h2.36v2.33h-2.36zM288.9 154.6h2.36v2.33h-2.36zM297.5 154.6h2.36v2.33h-2.36zM300.3 154.6h2.36v2.33h-2.36zM308.9 154.6h2.36v2.33h-2.36zM231.8 157.4h2.36v2.33h-2.36zM274.6 157.4h2.36v2.33h-2.36zM280.3 157.4h2.36v2.33h-2.36zM286.0 157.4h2.36v2.33h-2.36zM294.6 157.4h2.36v2.33h-2.36zM297.5 157.4h2.36v2.33h-2.36zM300.3 157.4h2.36v2.33h-2.36zM308.9 157.4h2.36v2.33h-2.36zM246.0 160.2h2.36v2.33h-2.36zM254.6 160.2h2.36v2.33h-2.36zM263.2 160.2h2.36v2.33h-2.36zM271.8 160.2h2.36v2.33h-2.36zM274.6 160.2h2.36v2.33h-2.36zM280.3 160.2h2.36v2.33h-2.36zM288.9 160.2h2.36v2.33h-2.36zM291.8 160.2h2.36v2.33h-2.36zM297.5 160.2h2.36v2.33h-2.36zM300.3 160.2h2.36v2.33h-2.36zM306.0 160.2h2.36v2.33h-2.36zM254.6 163.1h2.36v2.33h-2.36zM274.6 163.1h2.36v2.33h-2.36zM280.3 163.1h2.36v2.33h-2.36zM283.2 163.1h2.36v2.33h-2.36zM288.9 163.1h2.36v2.33h-2.36zM291.8 163.1h2.36v2.33h-2.36zM294.6 163.1h2.36v2.33h-2.36zM297.5 163.1h2.36v2.33h-2.36zM300.3 163.1h2.36v2.33h-2.36zM303.2 163.1h2.36v2.33h-2.36zM308.9 163.1h2.36v2.33h-2.36zM234.6 165.9h2.36v2.33h-2.36zM254.6 165.9h2.36v2.33h-2.36zM263.2 165.9h2.36v2.33h-2.36zM274.6 165.9h2.36v2.33h-2.36zM288.9 165.9h2.36v2.33h-2.36zM291.8 165.9h2.36v2.33h-2.36zM297.5 165.9h2.36v2.33h-2.36zM306.0 165.9h2.36v2.33h-2.36zM308.9 165.9h2.36v2.33h-2.36zM234.6 168.7h2.36v2.33h-2.36zM254.6 168.7h2.36v2.33h-2.36zM263.2 168.7h2.36v2.33h-2.36zM283.2 168.7h2.36v2.33h-2.36zM288.9 168.7h2.36v2.33h-2.36zM291.8 168.7h2.36v2.33h-2.36zM297.5 168.7h2.36v2.33h-2.36zM300.3 168.7h2.36v2.33h-2.36zM306.0 168.7h2.36v2.33h-2.36zM234.6 171.6h2.36v2.33h-2.36zM248.9 171.6h2.36v2.33h-2.36zM274.6 171.6h2.36v2.33h-2.36zM283.2 171.6h2.36v2.33h-2.36zM300.3 171.6h2.36v2.33h-2.36zM306.0 171.6h2.36v2.33h-2.36zM234.6 174.4h2.36v2.33h-2.36zM246.0 174.4h2.36v2.33h-2.36zM274.6 174.4h2.36v2.33h-2.36zM283.2 174.4h2.36v2.33h-2.36zM286.0 174.4h2.36v2.33h-2.36zM288.9 174.4h2.36v2.33h-2.36zM291.8 174.4h2.36v2.33h-2.36zM297.5 174.4h2.36v2.33h-2.36zM300.3 174.4h2.36v2.33h-2.36zM303.2 174.4h2.36v2.33h-2.36zM306.0 174.4h2.36v2.33h-2.36zM231.8 177.2h2.36v2.33h-2.36zM248.9 177.2h2.36v2.33h-2.36zM254.6 177.2h2.36v2.33h-2.36zM263.2 177.2h2.36v2.33h-2.36zM274.6 177.2h2.36v2.33h-2.36zM283.2 177.2h2.36v2.33h-2.36zM286.0 177.2h2.36v2.33h-2.36zM291.8 177.2h2.36v2.33h-2.36zM297.5 177.2h2.36v2.33h-2.36zM306.0 177.2h2.36v2.33h-2.36zM271.8 180.1h2.36v2.33h-2.36zM286.0 180.1h2.36v2.33h-2.36zM291.8 180.1h2.36v2.33h-2.36zM303.2 180.1h2.36v2.33h-2.36zM308.9 180.1h2.36v2.33h-2.36zM268.9 182.9h2.36v2.33h-2.36zM274.6 182.9h2.36v2.33h-2.36zM283.2 182.9h2.36v2.33h-2.36zM308.9 182.9h2.36v2.33h-2.36zM268.9 185.7h2.36v2.33h-2.36zM286.0 185.7h2.36v2.33h-2.36zM291.8 185.7h2.36v2.33h-2.36zM306.0 185.7h2.36v2.33h-2.36zM308.9 185.7h2.36v2.33h-2.36zM263.2 188.6h2.36v2.33h-2.36zM286.0 188.6h2.36v2.33h-2.36zM291.8 188.6h2.36v2.33h-2.36zM303.2 188.6h2.36v2.33h-2.36zM306.0 188.6h2.36v2.33h-2.36zM308.9 188.6h2.36v2.33h-2.36zM286.0 191.4h2.36v2.33h-2.36zM291.8 191.4h2.36v2.33h-2.36zM303.2 191.4h2.36v2.33h-2.36zM308.9 191.4h2.36v2.33h-2.36zM266.0 194.2h2.36v2.33h-2.36zM271.8 194.2h2.36v2.33h-2.36zM286.0 194.2h2.36v2.33h-2.36zM291.8 194.2h2.36v2.33h-2.36zM300.3 194.2h2.36v2.33h-2.36zM308.9 194.2h2.36v2.33h-2.36z"/>
<path fill="#f4f2f3" d="M237.5 49.9h2.36v2.33h-2.36zM248.9 49.9h2.36v2.33h-2.36zM251.8 49.9h2.36v2.33h-2.36zM263.2 49.9h2.36v2.33h-2.36zM280.3 49.9h2.36v2.33h-2.36zM291.8 49.9h2.36v2.33h-2.36zM306.0 49.9h2.36v2.33h-2.36zM263.2 52.7h2.36v2.33h-2.36zM303.2 52.7h2.36v2.33h-2.36zM306.0 52.7h2.36v2.33h-2.36zM237.5 55.5h2.36v2.33h-2.36zM248.9 55.5h2.36v2.33h-2.36zM263.2 55.5h2.36v2.33h-2.36zM274.6 55.5h2.36v2.33h-2.36zM291.8 55.5h2.36v2.33h-2.36zM306.0 55.5h2.36v2.33h-2.36zM243.2 58.3h2.36v2.33h-2.36zM248.9 58.3h2.36v2.33h-2.36zM303.2 58.3h2.36v2.33h-2.36zM306.0 58.3h2.36v2.33h-2.36zM248.9 61.2h2.36v2.33h-2.36zM251.8 61.2h2.36v2.33h-2.36zM268.9 61.2h2.36v2.33h-2.36zM306.0 61.2h2.36v2.33h-2.36zM231.8 64.0h2.36v2.33h-2.36zM243.2 64.0h2.36v2.33h-2.36zM248.9 64.0h2.36v2.33h-2.36zM251.8 64.0h2.36v2.33h-2.36zM257.5 64.0h2.36v2.33h-2.36zM268.9 64.0h2.36v2.33h-2.36zM306.0 64.0h2.36v2.33h-2.36zM246.0 66.8h2.36v2.33h-2.36zM251.8 66.8h2.36v2.33h-2.36zM291.8 66.8h2.36v2.33h-2.36zM306.0 66.8h2.36v2.33h-2.36zM231.8 69.7h2.36v2.33h-2.36zM240.3 69.7h2.36v2.33h-2.36zM246.0 69.7h2.36v2.33h-2.36zM268.9 69.7h2.36v2.33h-2.36zM303.2 69.7h2.36v2.33h-2.36zM303.2 72.5h2.36v2.33h-2.36zM234.6 75.3h2.36v2.33h-2.36zM240.3 75.3h2.36v2.33h-2.36zM246.0 75.3h2.36v2.33h-2.36zM266.0 75.3h2.36v2.33h-2.36zM274.6 75.3h2.36v2.33h-2.36zM297.5 75.3h2.36v2.33h-2.36zM303.2 75.3h2.36v2.33h-2.36zM246.0 78.2h2.36v2.33h-2.36zM268.9 78.2h2.36v2.33h-2.36zM274.6 78.2h2.36v2.33h-2.36zM286.0 78.2h2.36v2.33h-2.36zM303.2 78.2h2.36v2.33h-2.36zM231.8 81.0h2.36v2.33h-2.36zM234.6 81.0h2.36v2.33h-2.36zM291.8 81.0h2.36v2.33h-2.36zM231.8 83.8h2.36v2.33h-2.36zM240.3 83.8h2.36v2.33h-2.36zM291.8 83.8h2.36v2.33h-2.36zM306.0 83.8h2.36v2.33h-2.36zM246.0 89.5h2.36v2.33h-2.36zM306.0 89.5h2.36v2.33h-2.36zM246.0 95.1h2.36v2.33h-2.36zM251.8 95.1h2.36v2.33h-2.36zM306.0 95.1h2.36v2.33h-2.36zM237.5 98.0h2.36v2.33h-2.36zM266.0 98.0h2.36v2.33h-2.36zM268.9 98.0h2.36v2.33h-2.36zM266.0 100.8h2.36v2.33h-2.36zM268.9 100.8h2.36v2.33h-2.36zM271.8 100.8h2.36v2.33h-2.36zM288.9 103.6h2.36v2.33h-2.36zM291.8 103.6h2.36v2.33h-2.36zM260.3 106.5h2.36v2.33h-2.36zM266.0 106.5h2.36v2.33h-2.36zM283.2 106.5h2.36v2.33h-2.36zM306.0 106.5h2.36v2.33h-2.36zM268.9 109.3h2.36v2.33h-2.36zM297.5 109.3h2.36v2.33h-2.36zM251.8 112.1h2.36v2.33h-2.36zM266.0 112.1h2.36v2.33h-2.36zM268.9 112.1h2.36v2.33h-2.36zM283.2 112.1h2.36v2.33h-2.36zM300.3 112.1h2.36v2.33h-2.36zM306.0 112.1h2.36v2.33h-2.36zM231.8 115.0h2.36v2.33h-2.36zM237.5 115.0h2.36v2.33h-2.36zM268.9 115.0h2.36v2.33h-2.36zM280.3 115.0h2.36v2.33h-2.36zM283.2 115.0h2.36v2.33h-2.36zM286.0 115.0h2.36v2.33h-2.36zM306.0 115.0h2.36v2.33h-2.36zM243.2 117.8h2.36v2.33h-2.36zM271.8 117.8h2.36v2.33h-2.36zM286.0 117.8h2.36v2.33h-2.36zM231.8 120.6h2.36v2.33h-2.36zM237.5 120.6h2.36v2.33h-2.36zM251.8 120.6h2.36v2.33h-2.36zM283.2 120.6h2.36v2.33h-2.36zM234.6 123.4h2.36v2.33h-2.36zM237.5 123.4h2.36v2.33h-2.36zM246.0 123.4h2.36v2.33h-2.36zM248.9 123.4h2.36v2.33h-2.36zM268.9 123.4h2.36v2.33h-2.36zM277.5 123.4h2.36v2.33h-2.36zM231.8 126.3h2.36v2.33h-2.36zM240.3 126.3h2.36v2.33h-2.36zM268.9 126.3h2.36v2.33h-2.36zM271.8 126.3h2.36v2.33h-2.36zM283.2 126.3h2.36v2.33h-2.36zM234.6 129.1h2.36v2.33h-2.36zM237.5 129.1h2.36v2.33h-2.36zM240.3 129.1h2.36v2.33h-2.36zM291.8 129.1h2.36v2.33h-2.36zM303.2 129.1h2.36v2.33h-2.36zM231.8 131.9h2.36v2.33h-2.36zM237.5 131.9h2.36v2.33h-2.36zM248.9 131.9h2.36v2.33h-2.36zM257.5 131.9h2.36v2.33h-2.36zM274.6 131.9h2.36v2.33h-2.36zM231.8 134.8h2.36v2.33h-2.36zM237.5 134.8h2.36v2.33h-2.36zM283.2 134.8h2.36v2.33h-2.36zM288.9 134.8h2.36v2.33h-2.36zM231.8 137.6h2.36v2.33h-2.36zM300.3 140.4h2.36v2.33h-2.36zM303.2 140.4h2.36v2.33h-2.36zM257.5 143.3h2.36v2.33h-2.36zM263.2 143.3h2.36v2.33h-2.36zM268.9 143.3h2.36v2.33h-2.36zM277.5 143.3h2.36v2.33h-2.36zM303.2 143.3h2.36v2.33h-2.36zM306.0 143.3h2.36v2.33h-2.36zM308.9 143.3h2.36v2.33h-2.36zM243.2 146.1h2.36v2.33h-2.36zM268.9 146.1h2.36v2.33h-2.36zM277.5 146.1h2.36v2.33h-2.36zM280.3 146.1h2.36v2.33h-2.36zM300.3 146.1h2.36v2.33h-2.36zM308.9 146.1h2.36v2.33h-2.36zM268.9 148.9h2.36v2.33h-2.36zM268.9 151.8h2.36v2.33h-2.36zM274.6 151.8h2.36v2.33h-2.36zM277.5 151.8h2.36v2.33h-2.36zM297.5 151.8h2.36v2.33h-2.36zM243.2 154.6h2.36v2.33h-2.36zM246.0 154.6h2.36v2.33h-2.36zM274.6 154.6h2.36v2.33h-2.36zM277.5 154.6h2.36v2.33h-2.36zM280.3 154.6h2.36v2.33h-2.36zM306.0 154.6h2.36v2.33h-2.36zM263.2 157.4h2.36v2.33h-2.36zM268.9 157.4h2.36v2.33h-2.36zM277.5 157.4h2.36v2.33h-2.36zM303.2 157.4h2.36v2.33h-2.36zM306.0 157.4h2.36v2.33h-2.36zM248.9 160.2h2.36v2.33h-2.36zM266.0 160.2h2.36v2.33h-2.36zM283.2 160.2h2.36v2.33h-2.36zM286.0 160.2h2.36v2.33h-2.36zM308.9 160.2h2.36v2.33h-2.36zM234.6 163.1h2.36v2.33h-2.36zM248.9 163.1h2.36v2.33h-2.36zM251.8 163.1h2.36v2.33h-2.36zM263.2 163.1h2.36v2.33h-2.36zM271.8 163.1h2.36v2.33h-2.36zM277.5 163.1h2.36v2.33h-2.36zM286.0 163.1h2.36v2.33h-2.36zM306.0 163.1h2.36v2.33h-2.36zM231.8 165.9h2.36v2.33h-2.36zM248.9 165.9h2.36v2.33h-2.36zM251.8 165.9h2.36v2.33h-2.36zM260.3 165.9h2.36v2.33h-2.36zM268.9 165.9h2.36v2.33h-2.36zM271.8 165.9h2.36v2.33h-2.36zM280.3 165.9h2.36v2.33h-2.36zM283.2 165.9h2.36v2.33h-2.36zM286.0 165.9h2.36v2.33h-2.36zM271.8 168.7h2.36v2.33h-2.36zM277.5 168.7h2.36v2.33h-2.36zM280.3 168.7h2.36v2.33h-2.36zM286.0 168.7h2.36v2.33h-2.36zM308.9 168.7h2.36v2.33h-2.36zM260.3 171.6h2.36v2.33h-2.36zM263.2 171.6h2.36v2.33h-2.36zM268.9 171.6h2.36v2.33h-2.36zM271.8 171.6h2.36v2.33h-2.36zM280.3 171.6h2.36v2.33h-2.36zM286.0 171.6h2.36v2.33h-2.36zM288.9 171.6h2.36v2.33h-2.36zM291.8 171.6h2.36v2.33h-2.36zM308.9 171.6h2.36v2.33h-2.36zM248.9 174.4h2.36v2.33h-2.36zM263.2 174.4h2.36v2.33h-2.36zM271.8 174.4h2.36v2.33h-2.36zM308.9 174.4h2.36v2.33h-2.36zM234.6 177.2h2.36v2.33h-2.36zM251.8 177.2h2.36v2.33h-2.36zM280.3 177.2h2.36v2.33h-2.36zM300.3 177.2h2.36v2.33h-2.36zM308.9 177.2h2.36v2.33h-2.36zM234.6 180.1h2.36v2.33h-2.36zM248.9 180.1h2.36v2.33h-2.36zM254.6 180.1h2.36v2.33h-2.36zM263.2 180.1h2.36v2.33h-2.36zM274.6 180.1h2.36v2.33h-2.36zM283.2 180.1h2.36v2.33h-2.36zM248.9 182.9h2.36v2.33h-2.36zM254.6 182.9h2.36v2.33h-2.36zM263.2 182.9h2.36v2.33h-2.36zM286.0 182.9h2.36v2.33h-2.36zM288.9 182.9h2.36v2.33h-2.36zM291.8 182.9h2.36v2.33h-2.36zM297.5 182.9h2.36v2.33h-2.36zM303.2 182.9h2.36v2.33h-2.36zM234.6 185.7h2.36v2.33h-2.36zM248.9 185.7h2.36v2.33h-2.36zM254.6 185.7h2.36v2.33h-2.36zM274.6 185.7h2.36v2.33h-2.36zM283.2 185.7h2.36v2.33h-2.36zM288.9 185.7h2.36v2.33h-2.36zM297.5 185.7h2.36v2.33h-2.36zM303.2 185.7h2.36v2.33h-2.36zM234.6 188.6h2.36v2.33h-2.36zM248.9 188.6h2.36v2.33h-2.36zM271.8 188.6h2.36v2.33h-2.36zM283.2 188.6h2.36v2.33h-2.36zM297.5 188.6h2.36v2.33h-2.36zM248.9 191.4h2.36v2.33h-2.36zM254.6 191.4h2.36v2.33h-2.36zM271.8 191.4h2.36v2.33h-2.36zM274.6 191.4h2.36v2.33h-2.36zM283.2 191.4h2.36v2.33h-2.36zM297.5 191.4h2.36v2.33h-2.36zM248.9 194.2h2.36v2.33h-2.36zM254.6 194.2h2.36v2.33h-2.36zM263.2 194.2h2.36v2.33h-2.36zM283.2 194.2h2.36v2.33h-2.36zM303.2 194.2h2.36v2.33h-2.36z"/>
<path fill="#a8cde6" d="M240.3 49.9h2.36v2.33h-2.36zM260.3 49.9h2.36v2.33h-2.36zM266.0 49.9h2.36v2.33h-2.36zM240.3 52.7h2.36v2.33h-2.36zM260.3 52.7h2.36v2.33h-2.36zM266.0 52.7h2.36v2.33h-2.36zM234.6 55.5h2.36v2.33h-2.36zM240.3 55.5h2.36v2.33h-2.36zM254.6 55.5h2.36v2.33h-2.36zM260.3 55.5h2.36v2.33h-2.36zM266.0 55.5h2.36v2.33h-2.36zM240.3 58.3h2.36v2.33h-2.36zM260.3 58.3h2.36v2.33h-2.36zM266.0 58.3h2.36v2.33h-2.36zM231.8 61.2h2.36v2.33h-2.36zM234.6 61.2h2.36v2.33h-2.36zM260.3 61.2h2.36v2.33h-2.36zM234.6 64.0h2.36v2.33h-2.36zM240.3 64.0h2.36v2.33h-2.36zM263.2 64.0h2.36v2.33h-2.36zM266.0 64.0h2.36v2.33h-2.36zM240.3 66.8h2.36v2.33h-2.36zM260.3 66.8h2.36v2.33h-2.36zM266.0 66.8h2.36v2.33h-2.36zM237.5 69.7h2.36v2.33h-2.36zM243.2 69.7h2.36v2.33h-2.36zM254.6 69.7h2.36v2.33h-2.36zM243.2 72.5h2.36v2.33h-2.36zM251.8 72.5h2.36v2.33h-2.36zM254.6 72.5h2.36v2.33h-2.36zM300.3 72.5h2.36v2.33h-2.36zM237.5 75.3h2.36v2.33h-2.36zM243.2 75.3h2.36v2.33h-2.36zM254.6 75.3h2.36v2.33h-2.36zM257.5 75.3h2.36v2.33h-2.36zM260.3 75.3h2.36v2.33h-2.36zM237.5 78.2h2.36v2.33h-2.36zM243.2 78.2h2.36v2.33h-2.36zM248.9 78.2h2.36v2.33h-2.36zM237.5 81.0h2.36v2.33h-2.36zM240.3 81.0h2.36v2.33h-2.36zM251.8 81.0h2.36v2.33h-2.36zM254.6 81.0h2.36v2.33h-2.36zM257.5 81.0h2.36v2.33h-2.36zM260.3 81.0h2.36v2.33h-2.36zM286.0 81.0h2.36v2.33h-2.36zM237.5 83.8h2.36v2.33h-2.36zM248.9 83.8h2.36v2.33h-2.36zM251.8 83.8h2.36v2.33h-2.36zM260.3 83.8h2.36v2.33h-2.36zM234.6 86.7h2.36v2.33h-2.36zM240.3 86.7h2.36v2.33h-2.36zM243.2 86.7h2.36v2.33h-2.36zM254.6 86.7h2.36v2.33h-2.36zM260.3 86.7h2.36v2.33h-2.36zM263.2 86.7h2.36v2.33h-2.36zM283.2 86.7h2.36v2.33h-2.36zM240.3 89.5h2.36v2.33h-2.36zM243.2 89.5h2.36v2.33h-2.36zM248.9 89.5h2.36v2.33h-2.36zM254.6 89.5h2.36v2.33h-2.36zM260.3 89.5h2.36v2.33h-2.36zM263.2 89.5h2.36v2.33h-2.36zM266.0 89.5h2.36v2.33h-2.36zM277.5 89.5h2.36v2.33h-2.36zM234.6 92.3h2.36v2.33h-2.36zM237.5 92.3h2.36v2.33h-2.36zM243.2 92.3h2.36v2.33h-2.36zM246.0 92.3h2.36v2.33h-2.36zM260.3 92.3h2.36v2.33h-2.36zM263.2 92.3h2.36v2.33h-2.36zM277.5 92.3h2.36v2.33h-2.36zM283.2 92.3h2.36v2.33h-2.36zM306.0 92.3h2.36v2.33h-2.36zM231.8 95.1h2.36v2.33h-2.36zM234.6 95.1h2.36v2.33h-2.36zM240.3 95.1h2.36v2.33h-2.36zM248.9 95.1h2.36v2.33h-2.36zM254.6 95.1h2.36v2.33h-2.36zM263.2 95.1h2.36v2.33h-2.36zM277.5 95.1h2.36v2.33h-2.36zM283.2 95.1h2.36v2.33h-2.36zM286.0 95.1h2.36v2.33h-2.36zM234.6 98.0h2.36v2.33h-2.36zM240.3 98.0h2.36v2.33h-2.36zM254.6 98.0h2.36v2.33h-2.36zM260.3 98.0h2.36v2.33h-2.36zM263.2 98.0h2.36v2.33h-2.36zM280.3 98.0h2.36v2.33h-2.36zM286.0 98.0h2.36v2.33h-2.36zM231.8 100.8h2.36v2.33h-2.36zM234.6 100.8h2.36v2.33h-2.36zM246.0 100.8h2.36v2.33h-2.36zM248.9 100.8h2.36v2.33h-2.36zM260.3 100.8h2.36v2.33h-2.36zM283.2 100.8h2.36v2.33h-2.36zM286.0 100.8h2.36v2.33h-2.36zM237.5 103.6h2.36v2.33h-2.36zM240.3 103.6h2.36v2.33h-2.36zM254.6 103.6h2.36v2.33h-2.36zM257.5 103.6h2.36v2.33h-2.36zM277.5 103.6h2.36v2.33h-2.36zM306.0 103.6h2.36v2.33h-2.36zM288.9 106.5h2.36v2.33h-2.36zM294.6 106.5h2.36v2.33h-2.36zM303.2 106.5h2.36v2.33h-2.36zM246.0 109.3h2.36v2.33h-2.36zM288.9 109.3h2.36v2.33h-2.36zM291.8 109.3h2.36v2.33h-2.36zM294.6 109.3h2.36v2.33h-2.36zM303.2 109.3h2.36v2.33h-2.36zM308.9 109.3h2.36v2.33h-2.36zM246.0 112.1h2.36v2.33h-2.36zM277.5 112.1h2.36v2.33h-2.36zM286.0 112.1h2.36v2.33h-2.36zM288.9 112.1h2.36v2.33h-2.36zM303.2 112.1h2.36v2.33h-2.36zM308.9 112.1h2.36v2.33h-2.36zM277.5 115.0h2.36v2.33h-2.36zM288.9 115.0h2.36v2.33h-2.36zM297.5 115.0h2.36v2.33h-2.36zM246.0 117.8h2.36v2.33h-2.36zM277.5 120.6h2.36v2.33h-2.36zM288.9 120.6h2.36v2.33h-2.36zM294.6 120.6h2.36v2.33h-2.36zM286.0 123.4h2.36v2.33h-2.36zM294.6 123.4h2.36v2.33h-2.36zM306.0 123.4h2.36v2.33h-2.36zM280.3 126.3h2.36v2.33h-2.36zM286.0 126.3h2.36v2.33h-2.36zM306.0 126.3h2.36v2.33h-2.36zM286.0 129.1h2.36v2.33h-2.36zM294.6 129.1h2.36v2.33h-2.36zM240.3 131.9h2.36v2.33h-2.36zM286.0 131.9h2.36v2.33h-2.36zM291.8 131.9h2.36v2.33h-2.36zM294.6 131.9h2.36v2.33h-2.36zM297.5 131.9h2.36v2.33h-2.36zM306.0 131.9h2.36v2.33h-2.36zM294.6 134.8h2.36v2.33h-2.36zM283.2 137.6h2.36v2.33h-2.36zM294.6 137.6h2.36v2.33h-2.36zM303.2 137.6h2.36v2.33h-2.36zM274.6 140.4h2.36v2.33h-2.36zM291.8 140.4h2.36v2.33h-2.36zM306.0 140.4h2.36v2.33h-2.36zM271.8 143.3h2.36v2.33h-2.36zM280.3 143.3h2.36v2.33h-2.36zM283.2 143.3h2.36v2.33h-2.36zM294.6 143.3h2.36v2.33h-2.36zM300.3 143.3h2.36v2.33h-2.36zM231.8 146.1h2.36v2.33h-2.36zM257.5 146.1h2.36v2.33h-2.36zM283.2 146.1h2.36v2.33h-2.36zM288.9 146.1h2.36v2.33h-2.36zM291.8 146.1h2.36v2.33h-2.36zM283.2 148.9h2.36v2.33h-2.36zM288.9 148.9h2.36v2.33h-2.36zM303.2 148.9h2.36v2.33h-2.36zM283.2 151.8h2.36v2.33h-2.36zM288.9 151.8h2.36v2.33h-2.36zM291.8 151.8h2.36v2.33h-2.36zM294.6 151.8h2.36v2.33h-2.36zM294.6 154.6h2.36v2.33h-2.36zM303.2 154.6h2.36v2.33h-2.36zM257.5 157.4h2.36v2.33h-2.36zM283.2 157.4h2.36v2.33h-2.36zM288.9 157.4h2.36v2.33h-2.36zM291.8 157.4h2.36v2.33h-2.36zM234.6 160.2h2.36v2.33h-2.36zM294.6 160.2h2.36v2.33h-2.36zM303.2 160.2h2.36v2.33h-2.36zM294.6 165.9h2.36v2.33h-2.36zM300.3 165.9h2.36v2.33h-2.36zM303.2 165.9h2.36v2.33h-2.36zM274.6 168.7h2.36v2.33h-2.36zM294.6 168.7h2.36v2.33h-2.36zM303.2 168.7h2.36v2.33h-2.36zM254.6 171.6h2.36v2.33h-2.36zM294.6 171.6h2.36v2.33h-2.36zM297.5 171.6h2.36v2.33h-2.36zM303.2 171.6h2.36v2.33h-2.36zM254.6 174.4h2.36v2.33h-2.36zM294.6 174.4h2.36v2.33h-2.36zM288.9 177.2h2.36v2.33h-2.36zM294.6 177.2h2.36v2.33h-2.36zM303.2 177.2h2.36v2.33h-2.36zM300.3 180.1h2.36v2.33h-2.36zM271.8 182.9h2.36v2.33h-2.36zM300.3 182.9h2.36v2.33h-2.36zM300.3 188.6h2.36v2.33h-2.36zM306.0 191.4h2.36v2.33h-2.36zM306.0 194.2h2.36v2.33h-2.36z"/>
<path fill="#f8d3c2" d="M246.0 49.9h2.36v2.33h-2.36zM271.8 49.9h2.36v2.33h-2.36zM283.2 49.9h2.36v2.33h-2.36zM288.9 49.9h2.36v2.33h-2.36zM231.8 52.7h2.36v2.33h-2.36zM246.0 52.7h2.36v2.33h-2.36zM248.9 52.7h2.36v2.33h-2.36zM274.6 52.7h2.36v2.33h-2.36zM291.8 52.7h2.36v2.33h-2.36zM294.6 52.7h2.36v2.33h-2.36zM271.8 55.5h2.36v2.33h-2.36zM283.2 55.5h2.36v2.33h-2.36zM286.0 55.5h2.36v2.33h-2.36zM288.9 55.5h2.36v2.33h-2.36zM294.6 55.5h2.36v2.33h-2.36zM300.3 55.5h2.36v2.33h-2.36zM283.2 58.3h2.36v2.33h-2.36zM291.8 58.3h2.36v2.33h-2.36zM294.6 58.3h2.36v2.33h-2.36zM300.3 58.3h2.36v2.33h-2.36zM271.8 61.2h2.36v2.33h-2.36zM283.2 61.2h2.36v2.33h-2.36zM288.9 61.2h2.36v2.33h-2.36zM291.8 61.2h2.36v2.33h-2.36zM303.2 61.2h2.36v2.33h-2.36zM246.0 64.0h2.36v2.33h-2.36zM271.8 64.0h2.36v2.33h-2.36zM274.6 64.0h2.36v2.33h-2.36zM288.9 64.0h2.36v2.33h-2.36zM291.8 64.0h2.36v2.33h-2.36zM294.6 64.0h2.36v2.33h-2.36zM303.2 64.0h2.36v2.33h-2.36zM248.9 66.8h2.36v2.33h-2.36zM274.6 66.8h2.36v2.33h-2.36zM288.9 66.8h2.36v2.33h-2.36zM294.6 66.8h2.36v2.33h-2.36zM266.0 69.7h2.36v2.33h-2.36zM274.6 69.7h2.36v2.33h-2.36zM283.2 69.7h2.36v2.33h-2.36zM294.6 69.7h2.36v2.33h-2.36zM306.0 69.7h2.36v2.33h-2.36zM266.0 72.5h2.36v2.33h-2.36zM274.6 72.5h2.36v2.33h-2.36zM277.5 72.5h2.36v2.33h-2.36zM294.6 72.5h2.36v2.33h-2.36zM306.0 72.5h2.36v2.33h-2.36zM271.8 75.3h2.36v2.33h-2.36zM277.5 75.3h2.36v2.33h-2.36zM294.6 75.3h2.36v2.33h-2.36zM306.0 75.3h2.36v2.33h-2.36zM277.5 78.2h2.36v2.33h-2.36zM294.6 78.2h2.36v2.33h-2.36zM306.0 78.2h2.36v2.33h-2.36zM246.0 81.0h2.36v2.33h-2.36zM266.0 81.0h2.36v2.33h-2.36zM274.6 81.0h2.36v2.33h-2.36zM277.5 81.0h2.36v2.33h-2.36zM306.0 81.0h2.36v2.33h-2.36zM246.0 83.8h2.36v2.33h-2.36zM257.5 83.8h2.36v2.33h-2.36zM266.0 83.8h2.36v2.33h-2.36zM271.8 83.8h2.36v2.33h-2.36zM274.6 83.8h2.36v2.33h-2.36zM277.5 83.8h2.36v2.33h-2.36zM294.6 83.8h2.36v2.33h-2.36zM303.2 83.8h2.36v2.33h-2.36zM271.8 86.7h2.36v2.33h-2.36zM291.8 86.7h2.36v2.33h-2.36zM303.2 86.7h2.36v2.33h-2.36zM231.8 89.5h2.36v2.33h-2.36zM291.8 89.5h2.36v2.33h-2.36zM303.2 89.5h2.36v2.33h-2.36zM271.8 92.3h2.36v2.33h-2.36zM291.8 92.3h2.36v2.33h-2.36zM303.2 92.3h2.36v2.33h-2.36zM274.6 95.1h2.36v2.33h-2.36zM291.8 95.1h2.36v2.33h-2.36zM294.6 95.1h2.36v2.33h-2.36zM297.5 95.1h2.36v2.33h-2.36zM303.2 95.1h2.36v2.33h-2.36zM257.5 98.0h2.36v2.33h-2.36zM271.8 98.0h2.36v2.33h-2.36zM274.6 98.0h2.36v2.33h-2.36zM291.8 98.0h2.36v2.33h-2.36zM294.6 98.0h2.36v2.33h-2.36zM303.2 98.0h2.36v2.33h-2.36zM291.8 100.8h2.36v2.33h-2.36zM294.6 100.8h2.36v2.33h-2.36zM303.2 100.8h2.36v2.33h-2.36zM294.6 103.6h2.36v2.33h-2.36zM297.5 103.6h2.36v2.33h-2.36zM303.2 103.6h2.36v2.33h-2.36zM231.8 106.5h2.36v2.33h-2.36zM234.6 106.5h2.36v2.33h-2.36zM243.2 106.5h2.36v2.33h-2.36zM248.9 106.5h2.36v2.33h-2.36zM268.9 106.5h2.36v2.33h-2.36zM271.8 106.5h2.36v2.33h-2.36zM231.8 109.3h2.36v2.33h-2.36zM234.6 109.3h2.36v2.33h-2.36zM243.2 109.3h2.36v2.33h-2.36zM251.8 109.3h2.36v2.33h-2.36zM260.3 109.3h2.36v2.33h-2.36zM274.6 109.3h2.36v2.33h-2.36zM234.6 112.1h2.36v2.33h-2.36zM243.2 112.1h2.36v2.33h-2.36zM248.9 112.1h2.36v2.33h-2.36zM263.2 112.1h2.36v2.33h-2.36zM243.2 115.0h2.36v2.33h-2.36zM248.9 115.0h2.36v2.33h-2.36zM251.8 115.0h2.36v2.33h-2.36zM254.6 115.0h2.36v2.33h-2.36zM260.3 115.0h2.36v2.33h-2.36zM248.9 117.8h2.36v2.33h-2.36zM251.8 117.8h2.36v2.33h-2.36zM260.3 117.8h2.36v2.33h-2.36zM283.2 117.8h2.36v2.33h-2.36zM306.0 117.8h2.36v2.33h-2.36zM234.6 120.6h2.36v2.33h-2.36zM248.9 120.6h2.36v2.33h-2.36zM254.6 120.6h2.36v2.33h-2.36zM260.3 120.6h2.36v2.33h-2.36zM268.9 120.6h2.36v2.33h-2.36zM271.8 120.6h2.36v2.33h-2.36zM274.6 120.6h2.36v2.33h-2.36zM306.0 120.6h2.36v2.33h-2.36zM254.6 123.4h2.36v2.33h-2.36zM257.5 123.4h2.36v2.33h-2.36zM234.6 126.3h2.36v2.33h-2.36zM237.5 126.3h2.36v2.33h-2.36zM248.9 126.3h2.36v2.33h-2.36zM257.5 126.3h2.36v2.33h-2.36zM260.3 126.3h2.36v2.33h-2.36zM243.2 129.1h2.36v2.33h-2.36zM246.0 129.1h2.36v2.33h-2.36zM248.9 129.1h2.36v2.33h-2.36zM251.8 129.1h2.36v2.33h-2.36zM257.5 129.1h2.36v2.33h-2.36zM268.9 129.1h2.36v2.33h-2.36zM271.8 129.1h2.36v2.33h-2.36zM277.5 129.1h2.36v2.33h-2.36zM297.5 129.1h2.36v2.33h-2.36zM308.9 129.1h2.36v2.33h-2.36zM246.0 131.9h2.36v2.33h-2.36zM268.9 131.9h2.36v2.33h-2.36zM243.2 134.8h2.36v2.33h-2.36zM248.9 134.8h2.36v2.33h-2.36zM257.5 134.8h2.36v2.33h-2.36zM263.2 134.8h2.36v2.33h-2.36zM268.9 134.8h2.36v2.33h-2.36zM271.8 134.8h2.36v2.33h-2.36zM277.5 134.8h2.36v2.33h-2.36zM234.6 137.6h2.36v2.33h-2.36zM246.0 137.6h2.36v2.33h-2.36zM248.9 137.6h2.36v2.33h-2.36zM257.5 137.6h2.36v2.33h-2.36zM268.9 137.6h2.36v2.33h-2.36zM231.8 140.4h2.36v2.33h-2.36zM234.6 140.4h2.36v2.33h-2.36zM237.5 140.4h2.36v2.33h-2.36zM246.0 140.4h2.36v2.33h-2.36zM248.9 140.4h2.36v2.33h-2.36zM254.6 140.4h2.36v2.33h-2.36zM257.5 140.4h2.36v2.33h-2.36zM263.2 140.4h2.36v2.33h-2.36zM268.9 140.4h2.36v2.33h-2.36zM271.8 140.4h2.36v2.33h-2.36zM277.5 140.4h2.36v2.33h-2.36zM243.2 143.3h2.36v2.33h-2.36zM251.8 143.3h2.36v2.33h-2.36zM254.6 143.3h2.36v2.33h-2.36zM260.3 143.3h2.36v2.33h-2.36zM234.6 146.1h2.36v2.33h-2.36zM237.5 146.1h2.36v2.33h-2.36zM254.6 146.1h2.36v2.33h-2.36zM260.3 146.1h2.36v2.33h-2.36zM263.2 146.1h2.36v2.33h-2.36zM237.5 148.9h2.36v2.33h-2.36zM243.2 148.9h2.36v2.33h-2.36zM246.0 148.9h2.36v2.33h-2.36zM248.9 148.9h2.36v2.33h-2.36zM254.6 148.9h2.36v2.33h-2.36zM260.3 148.9h2.36v2.33h-2.36zM263.2 148.9h2.36v2.33h-2.36zM277.5 148.9h2.36v2.33h-2.36zM306.0 148.9h2.36v2.33h-2.36zM234.6 151.8h2.36v2.33h-2.36zM243.2 151.8h2.36v2.33h-2.36zM246.0 151.8h2.36v2.33h-2.36zM254.6 151.8h2.36v2.33h-2.36zM260.3 151.8h2.36v2.33h-2.36zM263.2 151.8h2.36v2.33h-2.36zM254.6 154.6h2.36v2.33h-2.36zM268.9 154.6h2.36v2.33h-2.36zM234.6 157.4h2.36v2.33h-2.36zM237.5 157.4h2.36v2.33h-2.36zM243.2 157.4h2.36v2.33h-2.36zM246.0 157.4h2.36v2.33h-2.36zM251.8 157.4h2.36v2.33h-2.36zM260.3 157.4h2.36v2.33h-2.36zM271.8 157.4h2.36v2.33h-2.36zM231.8 160.2h2.36v2.33h-2.36zM237.5 160.2h2.36v2.33h-2.36zM257.5 160.2h2.36v2.33h-2.36zM260.3 160.2h2.36v2.33h-2.36zM277.5 160.2h2.36v2.33h-2.36zM231.8 163.1h2.36v2.33h-2.36zM237.5 163.1h2.36v2.33h-2.36zM246.0 163.1h2.36v2.33h-2.36zM268.9 163.1h2.36v2.33h-2.36zM237.5 165.9h2.36v2.33h-2.36zM246.0 165.9h2.36v2.33h-2.36zM257.5 165.9h2.36v2.33h-2.36zM277.5 165.9h2.36v2.33h-2.36zM237.5 168.7h2.36v2.33h-2.36zM246.0 168.7h2.36v2.33h-2.36zM248.9 168.7h2.36v2.33h-2.36zM251.8 168.7h2.36v2.33h-2.36zM257.5 168.7h2.36v2.33h-2.36zM260.3 168.7h2.36v2.33h-2.36zM237.5 171.6h2.36v2.33h-2.36zM246.0 171.6h2.36v2.33h-2.36zM251.8 171.6h2.36v2.33h-2.36zM231.8 174.4h2.36v2.33h-2.36zM251.8 174.4h2.36v2.33h-2.36zM257.5 174.4h2.36v2.33h-2.36zM260.3 174.4h2.36v2.33h-2.36zM266.0 174.4h2.36v2.33h-2.36zM268.9 174.4h2.36v2.33h-2.36zM277.5 174.4h2.36v2.33h-2.36zM280.3 174.4h2.36v2.33h-2.36zM237.5 177.2h2.36v2.33h-2.36zM246.0 177.2h2.36v2.33h-2.36zM260.3 177.2h2.36v2.33h-2.36zM271.8 177.2h2.36v2.33h-2.36zM257.5 180.1h2.36v2.33h-2.36zM266.0 180.1h2.36v2.33h-2.36zM268.9 180.1h2.36v2.33h-2.36zM280.3 180.1h2.36v2.33h-2.36zM288.9 180.1h2.36v2.33h-2.36zM294.6 180.1h2.36v2.33h-2.36zM297.5 180.1h2.36v2.33h-2.36zM234.6 182.9h2.36v2.33h-2.36zM257.5 182.9h2.36v2.33h-2.36zM266.0 182.9h2.36v2.33h-2.36zM277.5 182.9h2.36v2.33h-2.36zM243.2 185.7h2.36v2.33h-2.36zM257.5 185.7h2.36v2.33h-2.36zM263.2 185.7h2.36v2.33h-2.36zM266.0 185.7h2.36v2.33h-2.36zM271.8 185.7h2.36v2.33h-2.36zM277.5 185.7h2.36v2.33h-2.36zM237.5 188.6h2.36v2.33h-2.36zM254.6 188.6h2.36v2.33h-2.36zM257.5 188.6h2.36v2.33h-2.36zM266.0 188.6h2.36v2.33h-2.36zM268.9 188.6h2.36v2.33h-2.36zM274.6 188.6h2.36v2.33h-2.36zM277.5 188.6h2.36v2.33h-2.36zM280.3 188.6h2.36v2.33h-2.36zM231.8 191.4h2.36v2.33h-2.36zM234.6 191.4h2.36v2.33h-2.36zM260.3 191.4h2.36v2.33h-2.36zM263.2 191.4h2.36v2.33h-2.36zM266.0 191.4h2.36v2.33h-2.36zM268.9 191.4h2.36v2.33h-2.36zM277.5 191.4h2.36v2.33h-2.36zM280.3 191.4h2.36v2.33h-2.36zM288.9 191.4h2.36v2.33h-2.36zM234.6 194.2h2.36v2.33h-2.36zM257.5 194.2h2.36v2.33h-2.36zM268.9 194.2h2.36v2.33h-2.36zM274.6 194.2h2.36v2.33h-2.36zM280.3 194.2h2.36v2.33h-2.36zM288.9 194.2h2.36v2.33h-2.36zM294.6 194.2h2.36v2.33h-2.36zM297.5 194.2h2.36v2.33h-2.36z"/>
<path fill="#f0a98c" d="M274.6 49.9h2.36v2.33h-2.36zM277.5 49.9h2.36v2.33h-2.36zM297.5 49.9h2.36v2.33h-2.36zM300.3 49.9h2.36v2.33h-2.36zM303.2 49.9h2.36v2.33h-2.36zM271.8 52.7h2.36v2.33h-2.36zM277.5 52.7h2.36v2.33h-2.36zM283.2 52.7h2.36v2.33h-2.36zM297.5 52.7h2.36v2.33h-2.36zM246.0 55.5h2.36v2.33h-2.36zM277.5 55.5h2.36v2.33h-2.36zM297.5 55.5h2.36v2.33h-2.36zM303.2 55.5h2.36v2.33h-2.36zM246.0 58.3h2.36v2.33h-2.36zM277.5 58.3h2.36v2.33h-2.36zM288.9 58.3h2.36v2.33h-2.36zM297.5 58.3h2.36v2.33h-2.36zM308.9 58.3h2.36v2.33h-2.36zM246.0 61.2h2.36v2.33h-2.36zM274.6 61.2h2.36v2.33h-2.36zM277.5 61.2h2.36v2.33h-2.36zM308.9 61.2h2.36v2.33h-2.36zM277.5 64.0h2.36v2.33h-2.36zM297.5 64.0h2.36v2.33h-2.36zM271.8 66.8h2.36v2.33h-2.36zM277.5 66.8h2.36v2.33h-2.36zM286.0 66.8h2.36v2.33h-2.36zM297.5 66.8h2.36v2.33h-2.36zM300.3 66.8h2.36v2.33h-2.36zM303.2 66.8h2.36v2.33h-2.36zM308.9 66.8h2.36v2.33h-2.36zM277.5 69.7h2.36v2.33h-2.36zM288.9 69.7h2.36v2.33h-2.36zM271.8 72.5h2.36v2.33h-2.36zM283.2 72.5h2.36v2.33h-2.36zM308.9 72.5h2.36v2.33h-2.36zM283.2 75.3h2.36v2.33h-2.36zM308.9 75.3h2.36v2.33h-2.36zM283.2 78.2h2.36v2.33h-2.36zM271.8 81.0h2.36v2.33h-2.36zM283.2 81.0h2.36v2.33h-2.36zM294.6 81.0h2.36v2.33h-2.36zM308.9 81.0h2.36v2.33h-2.36zM283.2 83.8h2.36v2.33h-2.36zM274.6 86.7h2.36v2.33h-2.36zM288.9 86.7h2.36v2.33h-2.36zM294.6 86.7h2.36v2.33h-2.36zM297.5 86.7h2.36v2.33h-2.36zM300.3 86.7h2.36v2.33h-2.36zM271.8 89.5h2.36v2.33h-2.36zM274.6 89.5h2.36v2.33h-2.36zM288.9 89.5h2.36v2.33h-2.36zM294.6 89.5h2.36v2.33h-2.36zM297.5 89.5h2.36v2.33h-2.36zM300.3 89.5h2.36v2.33h-2.36zM274.6 92.3h2.36v2.33h-2.36zM288.9 92.3h2.36v2.33h-2.36zM294.6 92.3h2.36v2.33h-2.36zM300.3 92.3h2.36v2.33h-2.36zM271.8 95.1h2.36v2.33h-2.36zM288.9 95.1h2.36v2.33h-2.36zM300.3 95.1h2.36v2.33h-2.36zM288.9 98.0h2.36v2.33h-2.36zM297.5 98.0h2.36v2.33h-2.36zM274.6 100.8h2.36v2.33h-2.36zM288.9 100.8h2.36v2.33h-2.36zM297.5 100.8h2.36v2.33h-2.36zM300.3 100.8h2.36v2.33h-2.36zM271.8 103.6h2.36v2.33h-2.36zM274.6 103.6h2.36v2.33h-2.36zM300.3 103.6h2.36v2.33h-2.36zM263.2 106.5h2.36v2.33h-2.36zM274.6 106.5h2.36v2.33h-2.36zM248.9 109.3h2.36v2.33h-2.36zM254.6 109.3h2.36v2.33h-2.36zM263.2 109.3h2.36v2.33h-2.36zM254.6 112.1h2.36v2.33h-2.36zM260.3 112.1h2.36v2.33h-2.36zM274.6 112.1h2.36v2.33h-2.36zM234.6 115.0h2.36v2.33h-2.36zM274.6 115.0h2.36v2.33h-2.36zM254.6 117.8h2.36v2.33h-2.36zM263.2 117.8h2.36v2.33h-2.36zM274.6 117.8h2.36v2.33h-2.36zM243.2 120.6h2.36v2.33h-2.36zM263.2 120.6h2.36v2.33h-2.36zM251.8 123.4h2.36v2.33h-2.36zM260.3 123.4h2.36v2.33h-2.36zM263.2 123.4h2.36v2.33h-2.36zM271.8 123.4h2.36v2.33h-2.36zM243.2 126.3h2.36v2.33h-2.36zM246.0 126.3h2.36v2.33h-2.36zM251.8 126.3h2.36v2.33h-2.36zM254.6 126.3h2.36v2.33h-2.36zM263.2 126.3h2.36v2.33h-2.36zM277.5 126.3h2.36v2.33h-2.36zM254.6 129.1h2.36v2.33h-2.36zM260.3 129.1h2.36v2.33h-2.36zM263.2 129.1h2.36v2.33h-2.36zM234.6 131.9h2.36v2.33h-2.36zM243.2 131.9h2.36v2.33h-2.36zM251.8 131.9h2.36v2.33h-2.36zM254.6 131.9h2.36v2.33h-2.36zM260.3 131.9h2.36v2.33h-2.36zM263.2 131.9h2.36v2.33h-2.36zM271.8 131.9h2.36v2.33h-2.36zM277.5 131.9h2.36v2.33h-2.36zM234.6 134.8h2.36v2.33h-2.36zM246.0 134.8h2.36v2.33h-2.36zM251.8 134.8h2.36v2.33h-2.36zM254.6 134.8h2.36v2.33h-2.36zM260.3 134.8h2.36v2.33h-2.36zM243.2 137.6h2.36v2.33h-2.36zM251.8 137.6h2.36v2.33h-2.36zM254.6 137.6h2.36v2.33h-2.36zM263.2 137.6h2.36v2.33h-2.36zM271.8 137.6h2.36v2.33h-2.36zM277.5 137.6h2.36v2.33h-2.36zM243.2 140.4h2.36v2.33h-2.36zM251.8 140.4h2.36v2.33h-2.36zM260.3 140.4h2.36v2.33h-2.36zM234.6 143.3h2.36v2.33h-2.36zM237.5 143.3h2.36v2.33h-2.36zM248.9 143.3h2.36v2.33h-2.36zM246.0 146.1h2.36v2.33h-2.36zM248.9 146.1h2.36v2.33h-2.36zM251.8 146.1h2.36v2.33h-2.36zM266.0 146.1h2.36v2.33h-2.36zM234.6 148.9h2.36v2.33h-2.36zM251.8 148.9h2.36v2.33h-2.36zM237.5 151.8h2.36v2.33h-2.36zM240.3 151.8h2.36v2.33h-2.36zM248.9 151.8h2.36v2.33h-2.36zM251.8 151.8h2.36v2.33h-2.36zM234.6 154.6h2.36v2.33h-2.36zM237.5 154.6h2.36v2.33h-2.36zM248.9 154.6h2.36v2.33h-2.36zM251.8 154.6h2.36v2.33h-2.36zM260.3 154.6h2.36v2.33h-2.36zM263.2 154.6h2.36v2.33h-2.36zM266.0 154.6h2.36v2.33h-2.36zM240.3 157.4h2.36v2.33h-2.36zM254.6 157.4h2.36v2.33h-2.36zM266.0 157.4h2.36v2.33h-2.36zM251.8 160.2h2.36v2.33h-2.36zM268.9 160.2h2.36v2.33h-2.36zM257.5 163.1h2.36v2.33h-2.36zM260.3 163.1h2.36v2.33h-2.36zM266.0 163.1h2.36v2.33h-2.36zM243.2 165.9h2.36v2.33h-2.36zM266.0 165.9h2.36v2.33h-2.36zM231.8 168.7h2.36v2.33h-2.36zM266.0 168.7h2.36v2.33h-2.36zM268.9 168.7h2.36v2.33h-2.36zM231.8 171.6h2.36v2.33h-2.36zM243.2 171.6h2.36v2.33h-2.36zM257.5 171.6h2.36v2.33h-2.36zM266.0 171.6h2.36v2.33h-2.36zM277.5 171.6h2.36v2.33h-2.36zM237.5 174.4h2.36v2.33h-2.36zM257.5 177.2h2.36v2.33h-2.36zM266.0 177.2h2.36v2.33h-2.36zM268.9 177.2h2.36v2.33h-2.36zM277.5 177.2h2.36v2.33h-2.36zM231.8 180.1h2.36v2.33h-2.36zM237.5 180.1h2.36v2.33h-2.36zM246.0 180.1h2.36v2.33h-2.36zM251.8 180.1h2.36v2.33h-2.36zM260.3 180.1h2.36v2.33h-2.36zM277.5 180.1h2.36v2.33h-2.36zM231.8 182.9h2.36v2.33h-2.36zM240.3 182.9h2.36v2.33h-2.36zM243.2 182.9h2.36v2.33h-2.36zM246.0 182.9h2.36v2.33h-2.36zM251.8 182.9h2.36v2.33h-2.36zM260.3 182.9h2.36v2.33h-2.36zM280.3 182.9h2.36v2.33h-2.36zM231.8 185.7h2.36v2.33h-2.36zM246.0 185.7h2.36v2.33h-2.36zM251.8 185.7h2.36v2.33h-2.36zM260.3 185.7h2.36v2.33h-2.36zM280.3 185.7h2.36v2.33h-2.36zM294.6 185.7h2.36v2.33h-2.36zM231.8 188.6h2.36v2.33h-2.36zM243.2 188.6h2.36v2.33h-2.36zM251.8 188.6h2.36v2.33h-2.36zM260.3 188.6h2.36v2.33h-2.36zM288.9 188.6h2.36v2.33h-2.36zM294.6 188.6h2.36v2.33h-2.36zM237.5 191.4h2.36v2.33h-2.36zM240.3 191.4h2.36v2.33h-2.36zM243.2 191.4h2.36v2.33h-2.36zM251.8 191.4h2.36v2.33h-2.36zM257.5 191.4h2.36v2.33h-2.36zM294.6 191.4h2.36v2.33h-2.36zM231.8 194.2h2.36v2.33h-2.36zM237.5 194.2h2.36v2.33h-2.36zM243.2 194.2h2.36v2.33h-2.36zM251.8 194.2h2.36v2.33h-2.36zM260.3 194.2h2.36v2.33h-2.36zM277.5 194.2h2.36v2.33h-2.36z"/>
<path fill="#dc6e5a" d="M286.0 49.9h2.36v2.33h-2.36zM294.6 49.9h2.36v2.33h-2.36zM308.9 49.9h2.36v2.33h-2.36zM300.3 52.7h2.36v2.33h-2.36zM308.9 52.7h2.36v2.33h-2.36zM271.8 58.3h2.36v2.33h-2.36zM286.0 58.3h2.36v2.33h-2.36zM294.6 61.2h2.36v2.33h-2.36zM297.5 61.2h2.36v2.33h-2.36zM300.3 61.2h2.36v2.33h-2.36zM283.2 64.0h2.36v2.33h-2.36zM286.0 64.0h2.36v2.33h-2.36zM300.3 64.0h2.36v2.33h-2.36zM308.9 64.0h2.36v2.33h-2.36zM283.2 66.8h2.36v2.33h-2.36zM271.8 69.7h2.36v2.33h-2.36zM308.9 69.7h2.36v2.33h-2.36zM288.9 72.5h2.36v2.33h-2.36zM288.9 75.3h2.36v2.33h-2.36zM271.8 78.2h2.36v2.33h-2.36zM288.9 78.2h2.36v2.33h-2.36zM308.9 78.2h2.36v2.33h-2.36zM288.9 81.0h2.36v2.33h-2.36zM288.9 83.8h2.36v2.33h-2.36zM308.9 83.8h2.36v2.33h-2.36zM308.9 86.7h2.36v2.33h-2.36zM297.5 92.3h2.36v2.33h-2.36zM308.9 92.3h2.36v2.33h-2.36zM308.9 95.1h2.36v2.33h-2.36zM300.3 98.0h2.36v2.33h-2.36zM308.9 103.6h2.36v2.33h-2.36zM240.3 106.5h2.36v2.33h-2.36zM254.6 106.5h2.36v2.33h-2.36zM240.3 109.3h2.36v2.33h-2.36zM240.3 112.1h2.36v2.33h-2.36zM240.3 115.0h2.36v2.33h-2.36zM263.2 115.0h2.36v2.33h-2.36zM240.3 117.8h2.36v2.33h-2.36zM240.3 120.6h2.36v2.33h-2.36zM243.2 123.4h2.36v2.33h-2.36zM266.0 123.4h2.36v2.33h-2.36zM266.0 126.3h2.36v2.33h-2.36zM266.0 131.9h2.36v2.33h-2.36zM260.3 137.6h2.36v2.33h-2.36zM240.3 143.3h2.36v2.33h-2.36zM266.0 143.3h2.36v2.33h-2.36zM240.3 146.1h2.36v2.33h-2.36zM240.3 148.9h2.36v2.33h-2.36zM266.0 148.9h2.36v2.33h-2.36zM240.3 154.6h2.36v2.33h-2.36zM240.3 160.2h2.36v2.33h-2.36zM243.2 160.2h2.36v2.33h-2.36zM240.3 165.9h2.36v2.33h-2.36zM240.3 168.7h2.36v2.33h-2.36zM243.2 174.4h2.36v2.33h-2.36zM243.2 177.2h2.36v2.33h-2.36zM240.3 180.1h2.36v2.33h-2.36zM243.2 180.1h2.36v2.33h-2.36zM237.5 182.9h2.36v2.33h-2.36zM294.6 182.9h2.36v2.33h-2.36zM237.5 185.7h2.36v2.33h-2.36zM240.3 185.7h2.36v2.33h-2.36zM240.3 188.6h2.36v2.33h-2.36zM246.0 188.6h2.36v2.33h-2.36zM246.0 191.4h2.36v2.33h-2.36zM240.3 194.2h2.36v2.33h-2.36zM246.0 194.2h2.36v2.33h-2.36z"/>
<path fill="#b2242c" d="M286.0 52.7h2.36v2.33h-2.36zM308.9 55.5h2.36v2.33h-2.36zM286.0 61.2h2.36v2.33h-2.36zM308.9 89.5h2.36v2.33h-2.36zM308.9 98.0h2.36v2.33h-2.36zM308.9 100.8h2.36v2.33h-2.36zM266.0 129.1h2.36v2.33h-2.36zM266.0 134.8h2.36v2.33h-2.36zM266.0 137.6h2.36v2.33h-2.36zM266.0 140.4h2.36v2.33h-2.36zM266.0 151.8h2.36v2.33h-2.36zM248.9 157.4h2.36v2.33h-2.36zM240.3 163.1h2.36v2.33h-2.36zM243.2 163.1h2.36v2.33h-2.36zM243.2 168.7h2.36v2.33h-2.36zM240.3 171.6h2.36v2.33h-2.36zM240.3 174.4h2.36v2.33h-2.36zM240.3 177.2h2.36v2.33h-2.36z"/>
<path fill="#6aa6d6" d="M251.8 69.7h2.36v2.33h-2.36zM251.8 75.3h2.36v2.33h-2.36zM243.2 81.0h2.36v2.33h-2.36zM248.9 86.7h2.36v2.33h-2.36zM234.6 103.6h2.36v2.33h-2.36zM308.9 106.5h2.36v2.33h-2.36zM303.2 115.0h2.36v2.33h-2.36zM308.9 120.6h2.36v2.33h-2.36zM283.2 154.6h2.36v2.33h-2.36zM291.8 154.6h2.36v2.33h-2.36z"/>
<path fill="#2f70b4" d="M306.0 180.1h2.36v2.33h-2.36zM306.0 182.9h2.36v2.33h-2.36zM300.3 185.7h2.36v2.33h-2.36zM300.3 191.4h2.36v2.33h-2.36z"/>
</g>
<rect x="232.0" y="46.1" width="39.5" height="3.1" fill="#6f95d2"/>
<rect x="271.5" y="46.1" width="39.5" height="3.1" fill="#f6c391"/>
<g filter="url(#hb)"><rect x="328.0" y="49.2" width="83.0" height="146.8" fill="#eeeef1"/>
<path fill="#d9e8f3" d="M328.2 49.5h2.46v2.32h-2.46zM331.2 49.5h2.46v2.32h-2.46zM337.1 49.5h2.46v2.32h-2.46zM340.1 49.5h2.46v2.32h-2.46zM346.0 49.5h2.46v2.32h-2.46zM349.0 49.5h2.46v2.32h-2.46zM354.9 49.5h2.46v2.32h-2.46zM360.9 49.5h2.46v2.32h-2.46zM363.8 49.5h2.46v2.32h-2.46zM369.8 49.5h2.46v2.32h-2.46zM390.5 49.5h2.46v2.32h-2.46zM393.5 49.5h2.46v2.32h-2.46zM328.2 52.3h2.46v2.32h-2.46zM331.2 52.3h2.46v2.32h-2.46zM334.2 52.3h2.46v2.32h-2.46zM340.1 52.3h2.46v2.32h-2.46zM346.0 52.3h2.46v2.32h-2.46zM349.0 52.3h2.46v2.32h-2.46zM352.0 52.3h2.46v2.32h-2.46zM363.8 52.3h2.46v2.32h-2.46zM387.5 52.3h2.46v2.32h-2.46zM328.2 55.1h2.46v2.32h-2.46zM334.2 55.1h2.46v2.32h-2.46zM354.9 55.1h2.46v2.32h-2.46zM357.9 55.1h2.46v2.32h-2.46zM363.8 55.1h2.46v2.32h-2.46zM387.5 55.1h2.46v2.32h-2.46zM390.5 55.1h2.46v2.32h-2.46zM328.2 57.9h2.46v2.32h-2.46zM334.2 57.9h2.46v2.32h-2.46zM340.1 57.9h2.46v2.32h-2.46zM346.0 57.9h2.46v2.32h-2.46zM354.9 57.9h2.46v2.32h-2.46zM360.9 57.9h2.46v2.32h-2.46zM363.8 57.9h2.46v2.32h-2.46zM387.5 57.9h2.46v2.32h-2.46zM328.2 60.7h2.46v2.32h-2.46zM334.2 60.7h2.46v2.32h-2.46zM337.1 60.7h2.46v2.32h-2.46zM340.1 60.7h2.46v2.32h-2.46zM349.0 60.7h2.46v2.32h-2.46zM354.9 60.7h2.46v2.32h-2.46zM357.9 60.7h2.46v2.32h-2.46zM363.8 60.7h2.46v2.32h-2.46zM369.8 60.7h2.46v2.32h-2.46zM387.5 60.7h2.46v2.32h-2.46zM334.2 63.6h2.46v2.32h-2.46zM349.0 63.6h2.46v2.32h-2.46zM378.6 63.6h2.46v2.32h-2.46zM402.4 63.6h2.46v2.32h-2.46zM405.3 63.6h2.46v2.32h-2.46zM328.2 66.4h2.46v2.32h-2.46zM360.9 66.4h2.46v2.32h-2.46zM402.4 66.4h2.46v2.32h-2.46zM405.3 66.4h2.46v2.32h-2.46zM328.2 69.2h2.46v2.32h-2.46zM343.1 69.2h2.46v2.32h-2.46zM360.9 69.2h2.46v2.32h-2.46zM375.7 69.2h2.46v2.32h-2.46zM378.6 69.2h2.46v2.32h-2.46zM402.4 69.2h2.46v2.32h-2.46zM405.3 69.2h2.46v2.32h-2.46zM357.9 72.0h2.46v2.32h-2.46zM378.6 72.0h2.46v2.32h-2.46zM405.3 72.0h2.46v2.32h-2.46zM349.0 74.9h2.46v2.32h-2.46zM357.9 74.9h2.46v2.32h-2.46zM378.6 74.9h2.46v2.32h-2.46zM402.4 74.9h2.46v2.32h-2.46zM352.0 77.7h2.46v2.32h-2.46zM360.9 77.7h2.46v2.32h-2.46zM363.8 77.7h2.46v2.32h-2.46zM372.7 77.7h2.46v2.32h-2.46zM375.7 77.7h2.46v2.32h-2.46zM378.6 77.7h2.46v2.32h-2.46zM381.6 77.7h2.46v2.32h-2.46zM387.5 77.7h2.46v2.32h-2.46zM390.5 77.7h2.46v2.32h-2.46zM408.3 77.7h2.46v2.32h-2.46zM352.0 80.5h2.46v2.32h-2.46zM360.9 80.5h2.46v2.32h-2.46zM363.8 80.5h2.46v2.32h-2.46zM369.8 80.5h2.46v2.32h-2.46zM381.6 80.5h2.46v2.32h-2.46zM390.5 80.5h2.46v2.32h-2.46zM399.4 80.5h2.46v2.32h-2.46zM402.4 80.5h2.46v2.32h-2.46zM408.3 80.5h2.46v2.32h-2.46zM337.1 83.3h2.46v2.32h-2.46zM360.9 83.3h2.46v2.32h-2.46zM363.8 83.3h2.46v2.32h-2.46zM369.8 83.3h2.46v2.32h-2.46zM372.7 83.3h2.46v2.32h-2.46zM375.7 83.3h2.46v2.32h-2.46zM378.6 83.3h2.46v2.32h-2.46zM390.5 83.3h2.46v2.32h-2.46zM399.4 83.3h2.46v2.32h-2.46zM340.1 86.2h2.46v2.32h-2.46zM369.8 86.2h2.46v2.32h-2.46zM378.6 86.2h2.46v2.32h-2.46zM384.6 86.2h2.46v2.32h-2.46zM396.4 86.2h2.46v2.32h-2.46zM402.4 86.2h2.46v2.32h-2.46zM408.3 86.2h2.46v2.32h-2.46zM340.1 89.0h2.46v2.32h-2.46zM372.7 89.0h2.46v2.32h-2.46zM375.7 89.0h2.46v2.32h-2.46zM378.6 89.0h2.46v2.32h-2.46zM387.5 89.0h2.46v2.32h-2.46zM396.4 89.0h2.46v2.32h-2.46zM399.4 89.0h2.46v2.32h-2.46zM402.4 89.0h2.46v2.32h-2.46zM408.3 89.0h2.46v2.32h-2.46zM369.8 91.8h2.46v2.32h-2.46zM372.7 91.8h2.46v2.32h-2.46zM384.6 91.8h2.46v2.32h-2.46zM402.4 91.8h2.46v2.32h-2.46zM408.3 91.8h2.46v2.32h-2.46zM369.8 94.6h2.46v2.32h-2.46zM378.6 94.6h2.46v2.32h-2.46zM381.6 94.6h2.46v2.32h-2.46zM384.6 94.6h2.46v2.32h-2.46zM387.5 94.6h2.46v2.32h-2.46zM399.4 94.6h2.46v2.32h-2.46zM402.4 94.6h2.46v2.32h-2.46zM375.7 97.4h2.46v2.32h-2.46zM378.6 97.4h2.46v2.32h-2.46zM384.6 97.4h2.46v2.32h-2.46zM387.5 97.4h2.46v2.32h-2.46zM399.4 97.4h2.46v2.32h-2.46zM402.4 97.4h2.46v2.32h-2.46zM408.3 97.4h2.46v2.32h-2.46zM372.7 100.3h2.46v2.32h-2.46zM384.6 100.3h2.46v2.32h-2.46zM387.5 100.3h2.46v2.32h-2.46zM402.4 100.3h2.46v2.32h-2.46zM408.3 100.3h2.46v2.32h-2.46zM331.2 103.1h2.46v2.32h-2.46zM346.0 103.1h2.46v2.32h-2.46zM369.8 103.1h2.46v2.32h-2.46zM372.7 103.1h2.46v2.32h-2.46zM384.6 103.1h2.46v2.32h-2.46zM387.5 103.1h2.46v2.32h-2.46zM390.5 103.1h2.46v2.32h-2.46zM396.4 103.1h2.46v2.32h-2.46zM402.4 103.1h2.46v2.32h-2.46zM372.7 105.9h2.46v2.32h-2.46zM375.7 105.9h2.46v2.32h-2.46zM381.6 105.9h2.46v2.32h-2.46zM387.5 105.9h2.46v2.32h-2.46zM402.4 105.9h2.46v2.32h-2.46zM346.0 108.7h2.46v2.32h-2.46zM372.7 108.7h2.46v2.32h-2.46zM384.6 108.7h2.46v2.32h-2.46zM390.5 108.7h2.46v2.32h-2.46zM396.4 108.7h2.46v2.32h-2.46zM402.4 108.7h2.46v2.32h-2.46zM346.0 111.6h2.46v2.32h-2.46zM349.0 111.6h2.46v2.32h-2.46zM369.8 111.6h2.46v2.32h-2.46zM372.7 111.6h2.46v2.32h-2.46zM387.5 111.6h2.46v2.32h-2.46zM396.4 111.6h2.46v2.32h-2.46zM402.4 111.6h2.46v2.32h-2.46zM346.0 114.4h2.46v2.32h-2.46zM369.8 114.4h2.46v2.32h-2.46zM372.7 114.4h2.46v2.32h-2.46zM387.5 114.4h2.46v2.32h-2.46zM390.5 114.4h2.46v2.32h-2.46zM396.4 114.4h2.46v2.32h-2.46zM331.2 117.2h2.46v2.32h-2.46zM346.0 117.2h2.46v2.32h-2.46zM375.7 117.2h2.46v2.32h-2.46zM381.6 117.2h2.46v2.32h-2.46zM390.5 117.2h2.46v2.32h-2.46zM396.4 117.2h2.46v2.32h-2.46zM402.4 117.2h2.46v2.32h-2.46zM346.0 120.0h2.46v2.32h-2.46zM354.9 120.0h2.46v2.32h-2.46zM369.8 120.0h2.46v2.32h-2.46zM372.7 120.0h2.46v2.32h-2.46zM378.6 120.0h2.46v2.32h-2.46zM387.5 120.0h2.46v2.32h-2.46zM390.5 120.0h2.46v2.32h-2.46zM396.4 120.0h2.46v2.32h-2.46zM402.4 120.0h2.46v2.32h-2.46zM352.0 122.9h2.46v2.32h-2.46zM369.8 122.9h2.46v2.32h-2.46zM378.6 122.9h2.46v2.32h-2.46zM405.3 122.9h2.46v2.32h-2.46zM408.3 122.9h2.46v2.32h-2.46zM354.9 125.7h2.46v2.32h-2.46zM357.9 125.7h2.46v2.32h-2.46zM360.9 125.7h2.46v2.32h-2.46zM378.6 125.7h2.46v2.32h-2.46zM387.5 125.7h2.46v2.32h-2.46zM390.5 125.7h2.46v2.32h-2.46zM393.5 125.7h2.46v2.32h-2.46zM399.4 125.7h2.46v2.32h-2.46zM402.4 125.7h2.46v2.32h-2.46zM405.3 125.7h2.46v2.32h-2.46zM408.3 125.7h2.46v2.32h-2.46zM352.0 128.5h2.46v2.32h-2.46zM354.9 128.5h2.46v2.32h-2.46zM357.9 128.5h2.46v2.32h-2.46zM360.9 128.5h2.46v2.32h-2.46zM369.8 128.5h2.46v2.32h-2.46zM378.6 128.5h2.46v2.32h-2.46zM384.6 128.5h2.46v2.32h-2.46zM390.5 128.5h2.46v2.32h-2.46zM402.4 128.5h2.46v2.32h-2.46zM408.3 128.5h2.46v2.32h-2.46zM354.9 131.3h2.46v2.32h-2.46zM357.9 131.3h2.46v2.32h-2.46zM360.9 131.3h2.46v2.32h-2.46zM369.8 131.3h2.46v2.32h-2.46zM378.6 131.3h2.46v2.32h-2.46zM384.6 131.3h2.46v2.32h-2.46zM393.5 131.3h2.46v2.32h-2.46zM402.4 131.3h2.46v2.32h-2.46zM405.3 131.3h2.46v2.32h-2.46zM360.9 134.1h2.46v2.32h-2.46zM378.6 134.1h2.46v2.32h-2.46zM384.6 134.1h2.46v2.32h-2.46zM393.5 134.1h2.46v2.32h-2.46zM402.4 134.1h2.46v2.32h-2.46zM405.3 134.1h2.46v2.32h-2.46zM408.3 134.1h2.46v2.32h-2.46zM349.0 137.0h2.46v2.32h-2.46zM352.0 137.0h2.46v2.32h-2.46zM354.9 137.0h2.46v2.32h-2.46zM357.9 137.0h2.46v2.32h-2.46zM360.9 137.0h2.46v2.32h-2.46zM369.8 137.0h2.46v2.32h-2.46zM378.6 137.0h2.46v2.32h-2.46zM381.6 137.0h2.46v2.32h-2.46zM384.6 137.0h2.46v2.32h-2.46zM405.3 137.0h2.46v2.32h-2.46zM408.3 137.0h2.46v2.32h-2.46zM352.0 139.8h2.46v2.32h-2.46zM360.9 139.8h2.46v2.32h-2.46zM369.8 139.8h2.46v2.32h-2.46zM384.6 139.8h2.46v2.32h-2.46zM387.5 139.8h2.46v2.32h-2.46zM402.4 139.8h2.46v2.32h-2.46zM408.3 139.8h2.46v2.32h-2.46zM354.9 142.6h2.46v2.32h-2.46zM357.9 142.6h2.46v2.32h-2.46zM363.8 142.6h2.46v2.32h-2.46zM369.8 142.6h2.46v2.32h-2.46zM378.6 142.6h2.46v2.32h-2.46zM381.6 142.6h2.46v2.32h-2.46zM384.6 142.6h2.46v2.32h-2.46zM387.5 142.6h2.46v2.32h-2.46zM393.5 142.6h2.46v2.32h-2.46zM399.4 142.6h2.46v2.32h-2.46zM408.3 142.6h2.46v2.32h-2.46zM331.2 145.4h2.46v2.32h-2.46zM349.0 145.4h2.46v2.32h-2.46zM352.0 145.4h2.46v2.32h-2.46zM357.9 145.4h2.46v2.32h-2.46zM363.8 145.4h2.46v2.32h-2.46zM366.8 145.4h2.46v2.32h-2.46zM372.7 145.4h2.46v2.32h-2.46zM378.6 145.4h2.46v2.32h-2.46zM387.5 145.4h2.46v2.32h-2.46zM390.5 145.4h2.46v2.32h-2.46zM399.4 145.4h2.46v2.32h-2.46zM349.0 148.3h2.46v2.32h-2.46zM352.0 148.3h2.46v2.32h-2.46zM354.9 148.3h2.46v2.32h-2.46zM357.9 148.3h2.46v2.32h-2.46zM363.8 148.3h2.46v2.32h-2.46zM369.8 148.3h2.46v2.32h-2.46zM381.6 148.3h2.46v2.32h-2.46zM387.5 148.3h2.46v2.32h-2.46zM399.4 148.3h2.46v2.32h-2.46zM402.4 148.3h2.46v2.32h-2.46zM405.3 148.3h2.46v2.32h-2.46zM349.0 151.1h2.46v2.32h-2.46zM352.0 151.1h2.46v2.32h-2.46zM363.8 151.1h2.46v2.32h-2.46zM372.7 151.1h2.46v2.32h-2.46zM375.7 151.1h2.46v2.32h-2.46zM378.6 151.1h2.46v2.32h-2.46zM387.5 151.1h2.46v2.32h-2.46zM396.4 151.1h2.46v2.32h-2.46zM399.4 151.1h2.46v2.32h-2.46zM334.2 153.9h2.46v2.32h-2.46zM349.0 153.9h2.46v2.32h-2.46zM352.0 153.9h2.46v2.32h-2.46zM357.9 153.9h2.46v2.32h-2.46zM363.8 153.9h2.46v2.32h-2.46zM369.8 153.9h2.46v2.32h-2.46zM372.7 153.9h2.46v2.32h-2.46zM396.4 153.9h2.46v2.32h-2.46zM399.4 153.9h2.46v2.32h-2.46zM405.3 153.9h2.46v2.32h-2.46zM331.2 156.7h2.46v2.32h-2.46zM349.0 156.7h2.46v2.32h-2.46zM352.0 156.7h2.46v2.32h-2.46zM357.9 156.7h2.46v2.32h-2.46zM369.8 156.7h2.46v2.32h-2.46zM372.7 156.7h2.46v2.32h-2.46zM375.7 156.7h2.46v2.32h-2.46zM378.6 156.7h2.46v2.32h-2.46zM384.6 156.7h2.46v2.32h-2.46zM387.5 156.7h2.46v2.32h-2.46zM390.5 156.7h2.46v2.32h-2.46zM396.4 156.7h2.46v2.32h-2.46zM399.4 156.7h2.46v2.32h-2.46zM408.3 156.7h2.46v2.32h-2.46zM349.0 159.6h2.46v2.32h-2.46zM360.9 159.6h2.46v2.32h-2.46zM363.8 159.6h2.46v2.32h-2.46zM369.8 159.6h2.46v2.32h-2.46zM381.6 159.6h2.46v2.32h-2.46zM402.4 159.6h2.46v2.32h-2.46zM349.0 162.4h2.46v2.32h-2.46zM354.9 162.4h2.46v2.32h-2.46zM375.7 162.4h2.46v2.32h-2.46zM378.6 162.4h2.46v2.32h-2.46zM381.6 162.4h2.46v2.32h-2.46zM384.6 162.4h2.46v2.32h-2.46zM399.4 162.4h2.46v2.32h-2.46zM402.4 162.4h2.46v2.32h-2.46zM408.3 162.4h2.46v2.32h-2.46zM363.8 165.2h2.46v2.32h-2.46zM369.8 165.2h2.46v2.32h-2.46zM396.4 165.2h2.46v2.32h-2.46zM399.4 165.2h2.46v2.32h-2.46zM408.3 165.2h2.46v2.32h-2.46zM349.0 168.0h2.46v2.32h-2.46zM354.9 168.0h2.46v2.32h-2.46zM360.9 168.0h2.46v2.32h-2.46zM363.8 168.0h2.46v2.32h-2.46zM369.8 168.0h2.46v2.32h-2.46zM378.6 168.0h2.46v2.32h-2.46zM399.4 168.0h2.46v2.32h-2.46zM402.4 168.0h2.46v2.32h-2.46zM408.3 168.0h2.46v2.32h-2.46zM349.0 170.8h2.46v2.32h-2.46zM357.9 170.8h2.46v2.32h-2.46zM360.9 170.8h2.46v2.32h-2.46zM363.8 170.8h2.46v2.32h-2.46zM369.8 170.8h2.46v2.32h-2.46zM375.7 170.8h2.46v2.32h-2.46zM381.6 170.8h2.46v2.32h-2.46zM384.6 170.8h2.46v2.32h-2.46zM396.4 170.8h2.46v2.32h-2.46zM399.4 170.8h2.46v2.32h-2.46zM402.4 170.8h2.46v2.32h-2.46zM408.3 170.8h2.46v2.32h-2.46zM352.0 173.7h2.46v2.32h-2.46zM354.9 173.7h2.46v2.32h-2.46zM360.9 173.7h2.46v2.32h-2.46zM363.8 173.7h2.46v2.32h-2.46zM375.7 173.7h2.46v2.32h-2.46zM381.6 173.7h2.46v2.32h-2.46zM384.6 173.7h2.46v2.32h-2.46zM396.4 173.7h2.46v2.32h-2.46zM399.4 173.7h2.46v2.32h-2.46zM408.3 173.7h2.46v2.32h-2.46zM352.0 176.5h2.46v2.32h-2.46zM363.8 176.5h2.46v2.32h-2.46zM369.8 176.5h2.46v2.32h-2.46zM375.7 176.5h2.46v2.32h-2.46zM378.6 176.5h2.46v2.32h-2.46zM381.6 176.5h2.46v2.32h-2.46zM387.5 176.5h2.46v2.32h-2.46zM399.4 176.5h2.46v2.32h-2.46zM349.0 179.3h2.46v2.32h-2.46zM369.8 179.3h2.46v2.32h-2.46zM381.6 179.3h2.46v2.32h-2.46zM387.5 179.3h2.46v2.32h-2.46zM399.4 179.3h2.46v2.32h-2.46zM349.0 182.1h2.46v2.32h-2.46zM360.9 182.1h2.46v2.32h-2.46zM366.8 182.1h2.46v2.32h-2.46zM369.8 182.1h2.46v2.32h-2.46zM372.7 182.1h2.46v2.32h-2.46zM381.6 182.1h2.46v2.32h-2.46zM384.6 182.1h2.46v2.32h-2.46zM396.4 182.1h2.46v2.32h-2.46zM399.4 182.1h2.46v2.32h-2.46zM408.3 182.1h2.46v2.32h-2.46zM349.0 185.0h2.46v2.32h-2.46zM360.9 185.0h2.46v2.32h-2.46zM366.8 185.0h2.46v2.32h-2.46zM387.5 185.0h2.46v2.32h-2.46zM390.5 185.0h2.46v2.32h-2.46zM393.5 185.0h2.46v2.32h-2.46zM408.3 185.0h2.46v2.32h-2.46zM349.0 187.8h2.46v2.32h-2.46zM366.8 187.8h2.46v2.32h-2.46zM369.8 187.8h2.46v2.32h-2.46zM378.6 187.8h2.46v2.32h-2.46zM381.6 187.8h2.46v2.32h-2.46zM384.6 187.8h2.46v2.32h-2.46zM399.4 187.8h2.46v2.32h-2.46zM408.3 187.8h2.46v2.32h-2.46zM349.0 190.6h2.46v2.32h-2.46zM354.9 190.6h2.46v2.32h-2.46zM360.9 190.6h2.46v2.32h-2.46zM369.8 190.6h2.46v2.32h-2.46zM378.6 190.6h2.46v2.32h-2.46zM387.5 190.6h2.46v2.32h-2.46zM396.4 190.6h2.46v2.32h-2.46zM399.4 190.6h2.46v2.32h-2.46zM408.3 190.6h2.46v2.32h-2.46zM349.0 193.4h2.46v2.32h-2.46zM360.9 193.4h2.46v2.32h-2.46zM363.8 193.4h2.46v2.32h-2.46zM366.8 193.4h2.46v2.32h-2.46zM369.8 193.4h2.46v2.32h-2.46zM384.6 193.4h2.46v2.32h-2.46zM396.4 193.4h2.46v2.32h-2.46zM405.3 193.4h2.46v2.32h-2.46zM408.3 193.4h2.46v2.32h-2.46z"/>
<path fill="#f4f2f3" d="M334.2 49.5h2.46v2.32h-2.46zM366.8 49.5h2.46v2.32h-2.46zM387.5 49.5h2.46v2.32h-2.46zM337.1 52.3h2.46v2.32h-2.46zM354.9 52.3h2.46v2.32h-2.46zM360.9 52.3h2.46v2.32h-2.46zM369.8 52.3h2.46v2.32h-2.46zM346.0 55.1h2.46v2.32h-2.46zM352.0 55.1h2.46v2.32h-2.46zM360.9 55.1h2.46v2.32h-2.46zM366.8 55.1h2.46v2.32h-2.46zM369.8 55.1h2.46v2.32h-2.46zM349.0 57.9h2.46v2.32h-2.46zM352.0 57.9h2.46v2.32h-2.46zM366.8 57.9h2.46v2.32h-2.46zM369.8 57.9h2.46v2.32h-2.46zM346.0 60.7h2.46v2.32h-2.46zM352.0 60.7h2.46v2.32h-2.46zM360.9 60.7h2.46v2.32h-2.46zM328.2 63.6h2.46v2.32h-2.46zM357.9 63.6h2.46v2.32h-2.46zM375.7 63.6h2.46v2.32h-2.46zM384.6 63.6h2.46v2.32h-2.46zM349.0 66.4h2.46v2.32h-2.46zM354.9 66.4h2.46v2.32h-2.46zM357.9 66.4h2.46v2.32h-2.46zM378.6 66.4h2.46v2.32h-2.46zM334.2 69.2h2.46v2.32h-2.46zM349.0 69.2h2.46v2.32h-2.46zM354.9 69.2h2.46v2.32h-2.46zM357.9 69.2h2.46v2.32h-2.46zM366.8 69.2h2.46v2.32h-2.46zM375.7 72.0h2.46v2.32h-2.46zM334.2 77.7h2.46v2.32h-2.46zM337.1 77.7h2.46v2.32h-2.46zM349.0 77.7h2.46v2.32h-2.46zM366.8 77.7h2.46v2.32h-2.46zM399.4 77.7h2.46v2.32h-2.46zM337.1 80.5h2.46v2.32h-2.46zM343.1 80.5h2.46v2.32h-2.46zM354.9 80.5h2.46v2.32h-2.46zM405.3 80.5h2.46v2.32h-2.46zM349.0 83.3h2.46v2.32h-2.46zM352.0 83.3h2.46v2.32h-2.46zM366.8 83.3h2.46v2.32h-2.46zM381.6 83.3h2.46v2.32h-2.46zM405.3 83.3h2.46v2.32h-2.46zM408.3 83.3h2.46v2.32h-2.46zM354.9 86.2h2.46v2.32h-2.46zM372.7 86.2h2.46v2.32h-2.46zM399.4 86.2h2.46v2.32h-2.46zM405.3 86.2h2.46v2.32h-2.46zM354.9 89.0h2.46v2.32h-2.46zM357.9 89.0h2.46v2.32h-2.46zM369.8 89.0h2.46v2.32h-2.46zM384.6 89.0h2.46v2.32h-2.46zM405.3 89.0h2.46v2.32h-2.46zM363.8 91.8h2.46v2.32h-2.46zM387.5 91.8h2.46v2.32h-2.46zM399.4 91.8h2.46v2.32h-2.46zM405.3 91.8h2.46v2.32h-2.46zM334.2 94.6h2.46v2.32h-2.46zM340.1 94.6h2.46v2.32h-2.46zM346.0 94.6h2.46v2.32h-2.46zM363.8 94.6h2.46v2.32h-2.46zM405.3 94.6h2.46v2.32h-2.46zM340.1 97.4h2.46v2.32h-2.46zM357.9 97.4h2.46v2.32h-2.46zM363.8 97.4h2.46v2.32h-2.46zM369.8 97.4h2.46v2.32h-2.46zM405.3 97.4h2.46v2.32h-2.46zM334.2 100.3h2.46v2.32h-2.46zM354.9 100.3h2.46v2.32h-2.46zM363.8 100.3h2.46v2.32h-2.46zM369.8 100.3h2.46v2.32h-2.46zM378.6 100.3h2.46v2.32h-2.46zM399.4 100.3h2.46v2.32h-2.46zM405.3 100.3h2.46v2.32h-2.46zM405.3 103.1h2.46v2.32h-2.46zM331.2 105.9h2.46v2.32h-2.46zM340.1 105.9h2.46v2.32h-2.46zM346.0 105.9h2.46v2.32h-2.46zM363.8 105.9h2.46v2.32h-2.46zM390.5 105.9h2.46v2.32h-2.46zM396.4 105.9h2.46v2.32h-2.46zM331.2 108.7h2.46v2.32h-2.46zM354.9 108.7h2.46v2.32h-2.46zM363.8 108.7h2.46v2.32h-2.46zM375.7 108.7h2.46v2.32h-2.46zM387.5 108.7h2.46v2.32h-2.46zM354.9 111.6h2.46v2.32h-2.46zM390.5 111.6h2.46v2.32h-2.46zM331.2 114.4h2.46v2.32h-2.46zM354.9 114.4h2.46v2.32h-2.46zM360.9 114.4h2.46v2.32h-2.46zM402.4 114.4h2.46v2.32h-2.46zM354.9 117.2h2.46v2.32h-2.46zM372.7 117.2h2.46v2.32h-2.46zM387.5 117.2h2.46v2.32h-2.46zM331.2 120.0h2.46v2.32h-2.46zM354.9 122.9h2.46v2.32h-2.46zM363.8 122.9h2.46v2.32h-2.46zM384.6 122.9h2.46v2.32h-2.46zM334.2 125.7h2.46v2.32h-2.46zM363.8 125.7h2.46v2.32h-2.46zM384.6 125.7h2.46v2.32h-2.46zM340.1 128.5h2.46v2.32h-2.46zM363.8 128.5h2.46v2.32h-2.46zM405.3 128.5h2.46v2.32h-2.46zM349.0 134.1h2.46v2.32h-2.46zM352.0 134.1h2.46v2.32h-2.46zM354.9 134.1h2.46v2.32h-2.46zM366.8 134.1h2.46v2.32h-2.46zM331.2 137.0h2.46v2.32h-2.46zM340.1 137.0h2.46v2.32h-2.46zM363.8 137.0h2.46v2.32h-2.46zM393.5 137.0h2.46v2.32h-2.46zM402.4 137.0h2.46v2.32h-2.46zM340.1 139.8h2.46v2.32h-2.46zM354.9 139.8h2.46v2.32h-2.46zM357.9 139.8h2.46v2.32h-2.46zM378.6 139.8h2.46v2.32h-2.46zM393.5 139.8h2.46v2.32h-2.46zM331.2 142.6h2.46v2.32h-2.46zM349.0 142.6h2.46v2.32h-2.46zM352.0 142.6h2.46v2.32h-2.46zM360.9 142.6h2.46v2.32h-2.46zM405.3 142.6h2.46v2.32h-2.46zM334.2 145.4h2.46v2.32h-2.46zM360.9 145.4h2.46v2.32h-2.46zM405.3 145.4h2.46v2.32h-2.46zM408.3 145.4h2.46v2.32h-2.46zM334.2 148.3h2.46v2.32h-2.46zM372.7 148.3h2.46v2.32h-2.46zM408.3 148.3h2.46v2.32h-2.46zM328.2 151.1h2.46v2.32h-2.46zM331.2 151.1h2.46v2.32h-2.46zM334.2 151.1h2.46v2.32h-2.46zM405.3 151.1h2.46v2.32h-2.46zM360.9 153.9h2.46v2.32h-2.46zM378.6 153.9h2.46v2.32h-2.46zM387.5 153.9h2.46v2.32h-2.46zM360.9 156.7h2.46v2.32h-2.46zM363.8 156.7h2.46v2.32h-2.46zM405.3 156.7h2.46v2.32h-2.46zM375.7 159.6h2.46v2.32h-2.46zM399.4 159.6h2.46v2.32h-2.46zM408.3 159.6h2.46v2.32h-2.46zM328.2 162.4h2.46v2.32h-2.46zM363.8 162.4h2.46v2.32h-2.46zM369.8 162.4h2.46v2.32h-2.46zM328.2 165.2h2.46v2.32h-2.46zM349.0 165.2h2.46v2.32h-2.46zM360.9 165.2h2.46v2.32h-2.46zM375.7 165.2h2.46v2.32h-2.46zM381.6 165.2h2.46v2.32h-2.46zM334.2 168.0h2.46v2.32h-2.46zM375.7 168.0h2.46v2.32h-2.46zM381.6 168.0h2.46v2.32h-2.46zM354.9 170.8h2.46v2.32h-2.46zM405.3 170.8h2.46v2.32h-2.46zM349.0 173.7h2.46v2.32h-2.46zM402.4 173.7h2.46v2.32h-2.46zM405.3 173.7h2.46v2.32h-2.46zM349.0 176.5h2.46v2.32h-2.46zM354.9 176.5h2.46v2.32h-2.46zM360.9 176.5h2.46v2.32h-2.46zM402.4 176.5h2.46v2.32h-2.46zM405.3 176.5h2.46v2.32h-2.46zM328.2 179.3h2.46v2.32h-2.46zM334.2 179.3h2.46v2.32h-2.46zM354.9 179.3h2.46v2.32h-2.46zM360.9 179.3h2.46v2.32h-2.46zM363.8 179.3h2.46v2.32h-2.46zM408.3 179.3h2.46v2.32h-2.46zM328.2 182.1h2.46v2.32h-2.46zM354.9 185.0h2.46v2.32h-2.46zM369.8 185.0h2.46v2.32h-2.46zM372.7 185.0h2.46v2.32h-2.46zM381.6 185.0h2.46v2.32h-2.46zM396.4 185.0h2.46v2.32h-2.46zM399.4 185.0h2.46v2.32h-2.46zM354.9 187.8h2.46v2.32h-2.46zM360.9 187.8h2.46v2.32h-2.46zM363.8 187.8h2.46v2.32h-2.46zM396.4 187.8h2.46v2.32h-2.46zM328.2 190.6h2.46v2.32h-2.46zM372.7 190.6h2.46v2.32h-2.46zM381.6 190.6h2.46v2.32h-2.46zM372.7 193.4h2.46v2.32h-2.46z"/>
<path fill="#a8cde6" d="M343.1 49.5h2.46v2.32h-2.46zM357.9 49.5h2.46v2.32h-2.46zM343.1 52.3h2.46v2.32h-2.46zM390.5 52.3h2.46v2.32h-2.46zM393.5 52.3h2.46v2.32h-2.46zM331.2 55.1h2.46v2.32h-2.46zM340.1 55.1h2.46v2.32h-2.46zM343.1 55.1h2.46v2.32h-2.46zM349.0 55.1h2.46v2.32h-2.46zM393.5 55.1h2.46v2.32h-2.46zM331.2 57.9h2.46v2.32h-2.46zM343.1 57.9h2.46v2.32h-2.46zM357.9 57.9h2.46v2.32h-2.46zM390.5 57.9h2.46v2.32h-2.46zM393.5 57.9h2.46v2.32h-2.46zM331.2 60.7h2.46v2.32h-2.46zM343.1 60.7h2.46v2.32h-2.46zM390.5 60.7h2.46v2.32h-2.46zM393.5 60.7h2.46v2.32h-2.46zM331.2 63.6h2.46v2.32h-2.46zM343.1 63.6h2.46v2.32h-2.46zM346.0 63.6h2.46v2.32h-2.46zM360.9 63.6h2.46v2.32h-2.46zM331.2 66.4h2.46v2.32h-2.46zM334.2 66.4h2.46v2.32h-2.46zM343.1 66.4h2.46v2.32h-2.46zM346.0 66.4h2.46v2.32h-2.46zM331.2 69.2h2.46v2.32h-2.46zM340.1 69.2h2.46v2.32h-2.46zM328.2 72.0h2.46v2.32h-2.46zM331.2 72.0h2.46v2.32h-2.46zM337.1 72.0h2.46v2.32h-2.46zM343.1 72.0h2.46v2.32h-2.46zM346.0 72.0h2.46v2.32h-2.46zM349.0 72.0h2.46v2.32h-2.46zM360.9 72.0h2.46v2.32h-2.46zM328.2 74.9h2.46v2.32h-2.46zM331.2 74.9h2.46v2.32h-2.46zM334.2 74.9h2.46v2.32h-2.46zM340.1 74.9h2.46v2.32h-2.46zM343.1 74.9h2.46v2.32h-2.46zM346.0 74.9h2.46v2.32h-2.46zM360.9 74.9h2.46v2.32h-2.46zM405.3 74.9h2.46v2.32h-2.46zM369.8 77.7h2.46v2.32h-2.46zM384.6 77.7h2.46v2.32h-2.46zM393.5 77.7h2.46v2.32h-2.46zM396.4 77.7h2.46v2.32h-2.46zM402.4 77.7h2.46v2.32h-2.46zM372.7 80.5h2.46v2.32h-2.46zM375.7 80.5h2.46v2.32h-2.46zM378.6 80.5h2.46v2.32h-2.46zM384.6 80.5h2.46v2.32h-2.46zM396.4 80.5h2.46v2.32h-2.46zM384.6 83.3h2.46v2.32h-2.46zM387.5 83.3h2.46v2.32h-2.46zM396.4 83.3h2.46v2.32h-2.46zM402.4 83.3h2.46v2.32h-2.46zM375.7 86.2h2.46v2.32h-2.46zM381.6 86.2h2.46v2.32h-2.46zM387.5 86.2h2.46v2.32h-2.46zM390.5 86.2h2.46v2.32h-2.46zM381.6 89.0h2.46v2.32h-2.46zM390.5 89.0h2.46v2.32h-2.46zM375.7 91.8h2.46v2.32h-2.46zM378.6 91.8h2.46v2.32h-2.46zM381.6 91.8h2.46v2.32h-2.46zM390.5 91.8h2.46v2.32h-2.46zM393.5 91.8h2.46v2.32h-2.46zM396.4 91.8h2.46v2.32h-2.46zM372.7 94.6h2.46v2.32h-2.46zM375.7 94.6h2.46v2.32h-2.46zM390.5 94.6h2.46v2.32h-2.46zM393.5 94.6h2.46v2.32h-2.46zM396.4 94.6h2.46v2.32h-2.46zM408.3 94.6h2.46v2.32h-2.46zM372.7 97.4h2.46v2.32h-2.46zM381.6 97.4h2.46v2.32h-2.46zM390.5 97.4h2.46v2.32h-2.46zM393.5 97.4h2.46v2.32h-2.46zM396.4 97.4h2.46v2.32h-2.46zM375.7 100.3h2.46v2.32h-2.46zM381.6 100.3h2.46v2.32h-2.46zM390.5 100.3h2.46v2.32h-2.46zM396.4 100.3h2.46v2.32h-2.46zM378.6 103.1h2.46v2.32h-2.46zM381.6 103.1h2.46v2.32h-2.46zM399.4 103.1h2.46v2.32h-2.46zM369.8 105.9h2.46v2.32h-2.46zM378.6 105.9h2.46v2.32h-2.46zM384.6 105.9h2.46v2.32h-2.46zM393.5 105.9h2.46v2.32h-2.46zM399.4 105.9h2.46v2.32h-2.46zM369.8 108.7h2.46v2.32h-2.46zM378.6 108.7h2.46v2.32h-2.46zM378.6 111.6h2.46v2.32h-2.46zM393.5 111.6h2.46v2.32h-2.46zM381.6 114.4h2.46v2.32h-2.46zM384.6 114.4h2.46v2.32h-2.46zM393.5 114.4h2.46v2.32h-2.46zM399.4 114.4h2.46v2.32h-2.46zM369.8 117.2h2.46v2.32h-2.46zM378.6 117.2h2.46v2.32h-2.46zM384.6 117.2h2.46v2.32h-2.46zM393.5 117.2h2.46v2.32h-2.46zM399.4 117.2h2.46v2.32h-2.46zM381.6 120.0h2.46v2.32h-2.46zM384.6 120.0h2.46v2.32h-2.46zM393.5 120.0h2.46v2.32h-2.46zM399.4 120.0h2.46v2.32h-2.46zM357.9 122.9h2.46v2.32h-2.46zM360.9 122.9h2.46v2.32h-2.46zM381.6 122.9h2.46v2.32h-2.46zM387.5 122.9h2.46v2.32h-2.46zM390.5 122.9h2.46v2.32h-2.46zM393.5 122.9h2.46v2.32h-2.46zM396.4 122.9h2.46v2.32h-2.46zM399.4 122.9h2.46v2.32h-2.46zM402.4 122.9h2.46v2.32h-2.46zM352.0 125.7h2.46v2.32h-2.46zM369.8 125.7h2.46v2.32h-2.46zM381.6 125.7h2.46v2.32h-2.46zM396.4 125.7h2.46v2.32h-2.46zM387.5 128.5h2.46v2.32h-2.46zM393.5 128.5h2.46v2.32h-2.46zM396.4 128.5h2.46v2.32h-2.46zM399.4 128.5h2.46v2.32h-2.46zM352.0 131.3h2.46v2.32h-2.46zM381.6 131.3h2.46v2.32h-2.46zM387.5 131.3h2.46v2.32h-2.46zM390.5 131.3h2.46v2.32h-2.46zM396.4 131.3h2.46v2.32h-2.46zM399.4 131.3h2.46v2.32h-2.46zM408.3 131.3h2.46v2.32h-2.46zM357.9 134.1h2.46v2.32h-2.46zM369.8 134.1h2.46v2.32h-2.46zM381.6 134.1h2.46v2.32h-2.46zM387.5 134.1h2.46v2.32h-2.46zM390.5 134.1h2.46v2.32h-2.46zM396.4 134.1h2.46v2.32h-2.46zM399.4 134.1h2.46v2.32h-2.46zM387.5 137.0h2.46v2.32h-2.46zM390.5 137.0h2.46v2.32h-2.46zM399.4 137.0h2.46v2.32h-2.46zM381.6 139.8h2.46v2.32h-2.46zM390.5 139.8h2.46v2.32h-2.46zM396.4 139.8h2.46v2.32h-2.46zM399.4 139.8h2.46v2.32h-2.46zM405.3 139.8h2.46v2.32h-2.46zM372.7 142.6h2.46v2.32h-2.46zM375.7 142.6h2.46v2.32h-2.46zM390.5 142.6h2.46v2.32h-2.46zM396.4 142.6h2.46v2.32h-2.46zM354.9 145.4h2.46v2.32h-2.46zM375.7 145.4h2.46v2.32h-2.46zM381.6 145.4h2.46v2.32h-2.46zM384.6 145.4h2.46v2.32h-2.46zM393.5 145.4h2.46v2.32h-2.46zM396.4 145.4h2.46v2.32h-2.46zM402.4 145.4h2.46v2.32h-2.46zM375.7 148.3h2.46v2.32h-2.46zM378.6 148.3h2.46v2.32h-2.46zM384.6 148.3h2.46v2.32h-2.46zM390.5 148.3h2.46v2.32h-2.46zM393.5 148.3h2.46v2.32h-2.46zM396.4 148.3h2.46v2.32h-2.46zM369.8 151.1h2.46v2.32h-2.46zM381.6 151.1h2.46v2.32h-2.46zM384.6 151.1h2.46v2.32h-2.46zM390.5 151.1h2.46v2.32h-2.46zM402.4 151.1h2.46v2.32h-2.46zM354.9 153.9h2.46v2.32h-2.46zM375.7 153.9h2.46v2.32h-2.46zM381.6 153.9h2.46v2.32h-2.46zM384.6 153.9h2.46v2.32h-2.46zM390.5 153.9h2.46v2.32h-2.46zM393.5 153.9h2.46v2.32h-2.46zM402.4 153.9h2.46v2.32h-2.46zM408.3 153.9h2.46v2.32h-2.46zM354.9 156.7h2.46v2.32h-2.46zM381.6 156.7h2.46v2.32h-2.46zM393.5 156.7h2.46v2.32h-2.46zM402.4 156.7h2.46v2.32h-2.46zM352.0 159.6h2.46v2.32h-2.46zM378.6 159.6h2.46v2.32h-2.46zM384.6 159.6h2.46v2.32h-2.46zM387.5 159.6h2.46v2.32h-2.46zM352.0 162.4h2.46v2.32h-2.46zM357.9 162.4h2.46v2.32h-2.46zM360.9 162.4h2.46v2.32h-2.46zM390.5 162.4h2.46v2.32h-2.46zM396.4 162.4h2.46v2.32h-2.46zM352.0 165.2h2.46v2.32h-2.46zM354.9 165.2h2.46v2.32h-2.46zM357.9 165.2h2.46v2.32h-2.46zM378.6 165.2h2.46v2.32h-2.46zM384.6 165.2h2.46v2.32h-2.46zM387.5 165.2h2.46v2.32h-2.46zM390.5 165.2h2.46v2.32h-2.46zM402.4 165.2h2.46v2.32h-2.46zM352.0 168.0h2.46v2.32h-2.46zM357.9 168.0h2.46v2.32h-2.46zM384.6 168.0h2.46v2.32h-2.46zM387.5 168.0h2.46v2.32h-2.46zM390.5 168.0h2.46v2.32h-2.46zM396.4 168.0h2.46v2.32h-2.46zM352.0 170.8h2.46v2.32h-2.46zM378.6 170.8h2.46v2.32h-2.46zM387.5 170.8h2.46v2.32h-2.46zM390.5 170.8h2.46v2.32h-2.46zM393.5 170.8h2.46v2.32h-2.46zM357.9 173.7h2.46v2.32h-2.46zM369.8 173.7h2.46v2.32h-2.46zM378.6 173.7h2.46v2.32h-2.46zM387.5 173.7h2.46v2.32h-2.46zM390.5 173.7h2.46v2.32h-2.46zM393.5 173.7h2.46v2.32h-2.46zM357.9 176.5h2.46v2.32h-2.46zM384.6 176.5h2.46v2.32h-2.46zM390.5 176.5h2.46v2.32h-2.46zM396.4 176.5h2.46v2.32h-2.46zM352.0 179.3h2.46v2.32h-2.46zM357.9 179.3h2.46v2.32h-2.46zM366.8 179.3h2.46v2.32h-2.46zM378.6 179.3h2.46v2.32h-2.46zM384.6 179.3h2.46v2.32h-2.46zM390.5 179.3h2.46v2.32h-2.46zM393.5 179.3h2.46v2.32h-2.46zM396.4 179.3h2.46v2.32h-2.46zM352.0 182.1h2.46v2.32h-2.46zM357.9 182.1h2.46v2.32h-2.46zM378.6 182.1h2.46v2.32h-2.46zM387.5 182.1h2.46v2.32h-2.46zM390.5 182.1h2.46v2.32h-2.46zM393.5 182.1h2.46v2.32h-2.46zM352.0 185.0h2.46v2.32h-2.46zM357.9 185.0h2.46v2.32h-2.46zM378.6 185.0h2.46v2.32h-2.46zM384.6 185.0h2.46v2.32h-2.46zM352.0 187.8h2.46v2.32h-2.46zM357.9 187.8h2.46v2.32h-2.46zM387.5 187.8h2.46v2.32h-2.46zM390.5 187.8h2.46v2.32h-2.46zM393.5 187.8h2.46v2.32h-2.46zM352.0 190.6h2.46v2.32h-2.46zM357.9 190.6h2.46v2.32h-2.46zM366.8 190.6h2.46v2.32h-2.46zM393.5 190.6h2.46v2.32h-2.46zM352.0 193.4h2.46v2.32h-2.46zM354.9 193.4h2.46v2.32h-2.46zM357.9 193.4h2.46v2.32h-2.46zM378.6 193.4h2.46v2.32h-2.46zM381.6 193.4h2.46v2.32h-2.46zM387.5 193.4h2.46v2.32h-2.46zM390.5 193.4h2.46v2.32h-2.46zM393.5 193.4h2.46v2.32h-2.46zM399.4 193.4h2.46v2.32h-2.46z"/>
<path fill="#f8d3c2" d="M352.0 49.5h2.46v2.32h-2.46zM372.7 49.5h2.46v2.32h-2.46zM375.7 49.5h2.46v2.32h-2.46zM378.6 49.5h2.46v2.32h-2.46zM396.4 49.5h2.46v2.32h-2.46zM402.4 49.5h2.46v2.32h-2.46zM405.3 49.5h2.46v2.32h-2.46zM408.3 49.5h2.46v2.32h-2.46zM366.8 52.3h2.46v2.32h-2.46zM375.7 52.3h2.46v2.32h-2.46zM378.6 52.3h2.46v2.32h-2.46zM405.3 52.3h2.46v2.32h-2.46zM337.1 55.1h2.46v2.32h-2.46zM402.4 55.1h2.46v2.32h-2.46zM405.3 55.1h2.46v2.32h-2.46zM337.1 57.9h2.46v2.32h-2.46zM375.7 57.9h2.46v2.32h-2.46zM378.6 57.9h2.46v2.32h-2.46zM405.3 57.9h2.46v2.32h-2.46zM408.3 57.9h2.46v2.32h-2.46zM366.8 60.7h2.46v2.32h-2.46zM375.7 60.7h2.46v2.32h-2.46zM378.6 60.7h2.46v2.32h-2.46zM402.4 60.7h2.46v2.32h-2.46zM405.3 60.7h2.46v2.32h-2.46zM352.0 63.6h2.46v2.32h-2.46zM354.9 63.6h2.46v2.32h-2.46zM366.8 63.6h2.46v2.32h-2.46zM369.8 63.6h2.46v2.32h-2.46zM387.5 63.6h2.46v2.32h-2.46zM393.5 63.6h2.46v2.32h-2.46zM396.4 63.6h2.46v2.32h-2.46zM399.4 63.6h2.46v2.32h-2.46zM408.3 63.6h2.46v2.32h-2.46zM369.8 66.4h2.46v2.32h-2.46zM375.7 66.4h2.46v2.32h-2.46zM387.5 66.4h2.46v2.32h-2.46zM399.4 66.4h2.46v2.32h-2.46zM408.3 66.4h2.46v2.32h-2.46zM369.8 69.2h2.46v2.32h-2.46zM381.6 69.2h2.46v2.32h-2.46zM384.6 69.2h2.46v2.32h-2.46zM393.5 69.2h2.46v2.32h-2.46zM399.4 69.2h2.46v2.32h-2.46zM334.2 72.0h2.46v2.32h-2.46zM354.9 72.0h2.46v2.32h-2.46zM366.8 72.0h2.46v2.32h-2.46zM369.8 72.0h2.46v2.32h-2.46zM372.7 72.0h2.46v2.32h-2.46zM381.6 72.0h2.46v2.32h-2.46zM393.5 72.0h2.46v2.32h-2.46zM396.4 72.0h2.46v2.32h-2.46zM399.4 72.0h2.46v2.32h-2.46zM402.4 72.0h2.46v2.32h-2.46zM408.3 72.0h2.46v2.32h-2.46zM352.0 74.9h2.46v2.32h-2.46zM354.9 74.9h2.46v2.32h-2.46zM366.8 74.9h2.46v2.32h-2.46zM369.8 74.9h2.46v2.32h-2.46zM375.7 74.9h2.46v2.32h-2.46zM381.6 74.9h2.46v2.32h-2.46zM396.4 74.9h2.46v2.32h-2.46zM399.4 74.9h2.46v2.32h-2.46zM328.2 77.7h2.46v2.32h-2.46zM331.2 77.7h2.46v2.32h-2.46zM340.1 77.7h2.46v2.32h-2.46zM354.9 77.7h2.46v2.32h-2.46zM405.3 77.7h2.46v2.32h-2.46zM334.2 80.5h2.46v2.32h-2.46zM349.0 80.5h2.46v2.32h-2.46zM366.8 80.5h2.46v2.32h-2.46zM331.2 83.3h2.46v2.32h-2.46zM334.2 83.3h2.46v2.32h-2.46zM340.1 83.3h2.46v2.32h-2.46zM343.1 83.3h2.46v2.32h-2.46zM357.9 83.3h2.46v2.32h-2.46zM334.2 86.2h2.46v2.32h-2.46zM349.0 86.2h2.46v2.32h-2.46zM357.9 86.2h2.46v2.32h-2.46zM360.9 86.2h2.46v2.32h-2.46zM363.8 86.2h2.46v2.32h-2.46zM334.2 89.0h2.46v2.32h-2.46zM337.1 89.0h2.46v2.32h-2.46zM346.0 89.0h2.46v2.32h-2.46zM360.9 89.0h2.46v2.32h-2.46zM363.8 89.0h2.46v2.32h-2.46zM331.2 91.8h2.46v2.32h-2.46zM334.2 91.8h2.46v2.32h-2.46zM337.1 91.8h2.46v2.32h-2.46zM340.1 91.8h2.46v2.32h-2.46zM346.0 91.8h2.46v2.32h-2.46zM354.9 91.8h2.46v2.32h-2.46zM360.9 91.8h2.46v2.32h-2.46zM331.2 94.6h2.46v2.32h-2.46zM337.1 94.6h2.46v2.32h-2.46zM349.0 94.6h2.46v2.32h-2.46zM354.9 94.6h2.46v2.32h-2.46zM357.9 94.6h2.46v2.32h-2.46zM328.2 97.4h2.46v2.32h-2.46zM334.2 97.4h2.46v2.32h-2.46zM346.0 97.4h2.46v2.32h-2.46zM354.9 97.4h2.46v2.32h-2.46zM360.9 97.4h2.46v2.32h-2.46zM340.1 100.3h2.46v2.32h-2.46zM346.0 100.3h2.46v2.32h-2.46zM352.0 100.3h2.46v2.32h-2.46zM357.9 100.3h2.46v2.32h-2.46zM360.9 100.3h2.46v2.32h-2.46zM366.8 100.3h2.46v2.32h-2.46zM340.1 103.1h2.46v2.32h-2.46zM349.0 103.1h2.46v2.32h-2.46zM352.0 103.1h2.46v2.32h-2.46zM354.9 103.1h2.46v2.32h-2.46zM363.8 103.1h2.46v2.32h-2.46zM366.8 103.1h2.46v2.32h-2.46zM375.7 103.1h2.46v2.32h-2.46zM408.3 103.1h2.46v2.32h-2.46zM328.2 105.9h2.46v2.32h-2.46zM334.2 105.9h2.46v2.32h-2.46zM337.1 105.9h2.46v2.32h-2.46zM354.9 105.9h2.46v2.32h-2.46zM405.3 105.9h2.46v2.32h-2.46zM328.2 108.7h2.46v2.32h-2.46zM340.1 108.7h2.46v2.32h-2.46zM343.1 108.7h2.46v2.32h-2.46zM349.0 108.7h2.46v2.32h-2.46zM360.9 108.7h2.46v2.32h-2.46zM366.8 108.7h2.46v2.32h-2.46zM405.3 108.7h2.46v2.32h-2.46zM408.3 108.7h2.46v2.32h-2.46zM331.2 111.6h2.46v2.32h-2.46zM340.1 111.6h2.46v2.32h-2.46zM375.7 111.6h2.46v2.32h-2.46zM405.3 111.6h2.46v2.32h-2.46zM328.2 114.4h2.46v2.32h-2.46zM340.1 114.4h2.46v2.32h-2.46zM343.1 114.4h2.46v2.32h-2.46zM349.0 114.4h2.46v2.32h-2.46zM363.8 114.4h2.46v2.32h-2.46zM366.8 114.4h2.46v2.32h-2.46zM375.7 114.4h2.46v2.32h-2.46zM405.3 114.4h2.46v2.32h-2.46zM328.2 117.2h2.46v2.32h-2.46zM340.1 117.2h2.46v2.32h-2.46zM349.0 117.2h2.46v2.32h-2.46zM360.9 117.2h2.46v2.32h-2.46zM363.8 117.2h2.46v2.32h-2.46zM328.2 120.0h2.46v2.32h-2.46zM349.0 120.0h2.46v2.32h-2.46zM360.9 120.0h2.46v2.32h-2.46zM363.8 120.0h2.46v2.32h-2.46zM366.8 120.0h2.46v2.32h-2.46zM375.7 120.0h2.46v2.32h-2.46zM405.3 120.0h2.46v2.32h-2.46zM334.2 122.9h2.46v2.32h-2.46zM349.0 122.9h2.46v2.32h-2.46zM366.8 122.9h2.46v2.32h-2.46zM372.7 122.9h2.46v2.32h-2.46zM331.2 125.7h2.46v2.32h-2.46zM340.1 125.7h2.46v2.32h-2.46zM349.0 125.7h2.46v2.32h-2.46zM366.8 125.7h2.46v2.32h-2.46zM372.7 125.7h2.46v2.32h-2.46zM372.7 128.5h2.46v2.32h-2.46zM331.2 131.3h2.46v2.32h-2.46zM334.2 131.3h2.46v2.32h-2.46zM363.8 131.3h2.46v2.32h-2.46zM366.8 131.3h2.46v2.32h-2.46zM372.7 131.3h2.46v2.32h-2.46zM331.2 134.1h2.46v2.32h-2.46zM334.2 134.1h2.46v2.32h-2.46zM340.1 134.1h2.46v2.32h-2.46zM363.8 134.1h2.46v2.32h-2.46zM372.7 134.1h2.46v2.32h-2.46zM372.7 137.0h2.46v2.32h-2.46zM337.1 139.8h2.46v2.32h-2.46zM349.0 139.8h2.46v2.32h-2.46zM363.8 139.8h2.46v2.32h-2.46zM372.7 139.8h2.46v2.32h-2.46zM334.2 142.6h2.46v2.32h-2.46zM366.8 142.6h2.46v2.32h-2.46zM369.8 145.4h2.46v2.32h-2.46zM331.2 148.3h2.46v2.32h-2.46zM360.9 148.3h2.46v2.32h-2.46zM357.9 151.1h2.46v2.32h-2.46zM360.9 151.1h2.46v2.32h-2.46zM408.3 151.1h2.46v2.32h-2.46zM328.2 153.9h2.46v2.32h-2.46zM331.2 153.9h2.46v2.32h-2.46zM366.8 153.9h2.46v2.32h-2.46zM328.2 156.7h2.46v2.32h-2.46zM334.2 156.7h2.46v2.32h-2.46zM366.8 156.7h2.46v2.32h-2.46zM328.2 159.6h2.46v2.32h-2.46zM331.2 159.6h2.46v2.32h-2.46zM334.2 159.6h2.46v2.32h-2.46zM354.9 159.6h2.46v2.32h-2.46zM372.7 159.6h2.46v2.32h-2.46zM405.3 159.6h2.46v2.32h-2.46zM366.8 162.4h2.46v2.32h-2.46zM372.7 162.4h2.46v2.32h-2.46zM405.3 162.4h2.46v2.32h-2.46zM331.2 165.2h2.46v2.32h-2.46zM334.2 165.2h2.46v2.32h-2.46zM372.7 165.2h2.46v2.32h-2.46zM405.3 165.2h2.46v2.32h-2.46zM328.2 168.0h2.46v2.32h-2.46zM337.1 168.0h2.46v2.32h-2.46zM372.7 168.0h2.46v2.32h-2.46zM405.3 168.0h2.46v2.32h-2.46zM328.2 170.8h2.46v2.32h-2.46zM331.2 170.8h2.46v2.32h-2.46zM372.7 170.8h2.46v2.32h-2.46zM334.2 173.7h2.46v2.32h-2.46zM372.7 173.7h2.46v2.32h-2.46zM328.2 176.5h2.46v2.32h-2.46zM331.2 176.5h2.46v2.32h-2.46zM334.2 176.5h2.46v2.32h-2.46zM372.7 176.5h2.46v2.32h-2.46zM408.3 176.5h2.46v2.32h-2.46zM372.7 179.3h2.46v2.32h-2.46zM375.7 179.3h2.46v2.32h-2.46zM402.4 179.3h2.46v2.32h-2.46zM405.3 179.3h2.46v2.32h-2.46zM334.2 182.1h2.46v2.32h-2.46zM354.9 182.1h2.46v2.32h-2.46zM363.8 182.1h2.46v2.32h-2.46zM328.2 185.0h2.46v2.32h-2.46zM363.8 185.0h2.46v2.32h-2.46zM405.3 185.0h2.46v2.32h-2.46zM334.2 187.8h2.46v2.32h-2.46zM346.0 187.8h2.46v2.32h-2.46zM372.7 187.8h2.46v2.32h-2.46zM375.7 187.8h2.46v2.32h-2.46zM331.2 190.6h2.46v2.32h-2.46zM334.2 190.6h2.46v2.32h-2.46zM337.1 190.6h2.46v2.32h-2.46zM346.0 190.6h2.46v2.32h-2.46zM363.8 190.6h2.46v2.32h-2.46zM405.3 190.6h2.46v2.32h-2.46zM331.2 193.4h2.46v2.32h-2.46zM375.7 193.4h2.46v2.32h-2.46zM402.4 193.4h2.46v2.32h-2.46z"/>
<path fill="#f0a98c" d="M381.6 49.5h2.46v2.32h-2.46zM381.6 52.3h2.46v2.32h-2.46zM396.4 52.3h2.46v2.32h-2.46zM402.4 52.3h2.46v2.32h-2.46zM408.3 52.3h2.46v2.32h-2.46zM375.7 55.1h2.46v2.32h-2.46zM378.6 55.1h2.46v2.32h-2.46zM381.6 55.1h2.46v2.32h-2.46zM408.3 55.1h2.46v2.32h-2.46zM372.7 57.9h2.46v2.32h-2.46zM381.6 57.9h2.46v2.32h-2.46zM396.4 57.9h2.46v2.32h-2.46zM402.4 57.9h2.46v2.32h-2.46zM372.7 60.7h2.46v2.32h-2.46zM381.6 60.7h2.46v2.32h-2.46zM396.4 60.7h2.46v2.32h-2.46zM408.3 60.7h2.46v2.32h-2.46zM363.8 63.6h2.46v2.32h-2.46zM372.7 63.6h2.46v2.32h-2.46zM381.6 63.6h2.46v2.32h-2.46zM390.5 63.6h2.46v2.32h-2.46zM352.0 66.4h2.46v2.32h-2.46zM363.8 66.4h2.46v2.32h-2.46zM366.8 66.4h2.46v2.32h-2.46zM372.7 66.4h2.46v2.32h-2.46zM381.6 66.4h2.46v2.32h-2.46zM384.6 66.4h2.46v2.32h-2.46zM390.5 66.4h2.46v2.32h-2.46zM393.5 66.4h2.46v2.32h-2.46zM396.4 66.4h2.46v2.32h-2.46zM352.0 69.2h2.46v2.32h-2.46zM363.8 69.2h2.46v2.32h-2.46zM372.7 69.2h2.46v2.32h-2.46zM387.5 69.2h2.46v2.32h-2.46zM390.5 69.2h2.46v2.32h-2.46zM396.4 69.2h2.46v2.32h-2.46zM408.3 69.2h2.46v2.32h-2.46zM352.0 72.0h2.46v2.32h-2.46zM363.8 72.0h2.46v2.32h-2.46zM384.6 72.0h2.46v2.32h-2.46zM390.5 72.0h2.46v2.32h-2.46zM363.8 74.9h2.46v2.32h-2.46zM372.7 74.9h2.46v2.32h-2.46zM384.6 74.9h2.46v2.32h-2.46zM387.5 74.9h2.46v2.32h-2.46zM390.5 74.9h2.46v2.32h-2.46zM393.5 74.9h2.46v2.32h-2.46zM408.3 74.9h2.46v2.32h-2.46zM343.1 77.7h2.46v2.32h-2.46zM346.0 77.7h2.46v2.32h-2.46zM357.9 77.7h2.46v2.32h-2.46zM328.2 80.5h2.46v2.32h-2.46zM331.2 80.5h2.46v2.32h-2.46zM340.1 80.5h2.46v2.32h-2.46zM346.0 80.5h2.46v2.32h-2.46zM357.9 80.5h2.46v2.32h-2.46zM328.2 83.3h2.46v2.32h-2.46zM346.0 83.3h2.46v2.32h-2.46zM354.9 83.3h2.46v2.32h-2.46zM328.2 86.2h2.46v2.32h-2.46zM331.2 86.2h2.46v2.32h-2.46zM337.1 86.2h2.46v2.32h-2.46zM346.0 86.2h2.46v2.32h-2.46zM352.0 86.2h2.46v2.32h-2.46zM366.8 86.2h2.46v2.32h-2.46zM328.2 89.0h2.46v2.32h-2.46zM331.2 89.0h2.46v2.32h-2.46zM349.0 89.0h2.46v2.32h-2.46zM328.2 91.8h2.46v2.32h-2.46zM349.0 91.8h2.46v2.32h-2.46zM357.9 91.8h2.46v2.32h-2.46zM366.8 91.8h2.46v2.32h-2.46zM328.2 94.6h2.46v2.32h-2.46zM360.9 94.6h2.46v2.32h-2.46zM331.2 97.4h2.46v2.32h-2.46zM337.1 97.4h2.46v2.32h-2.46zM343.1 97.4h2.46v2.32h-2.46zM352.0 97.4h2.46v2.32h-2.46zM366.8 97.4h2.46v2.32h-2.46zM328.2 100.3h2.46v2.32h-2.46zM331.2 100.3h2.46v2.32h-2.46zM337.1 100.3h2.46v2.32h-2.46zM349.0 100.3h2.46v2.32h-2.46zM328.2 103.1h2.46v2.32h-2.46zM334.2 103.1h2.46v2.32h-2.46zM343.1 103.1h2.46v2.32h-2.46zM357.9 103.1h2.46v2.32h-2.46zM360.9 103.1h2.46v2.32h-2.46zM343.1 105.9h2.46v2.32h-2.46zM349.0 105.9h2.46v2.32h-2.46zM352.0 105.9h2.46v2.32h-2.46zM357.9 105.9h2.46v2.32h-2.46zM360.9 105.9h2.46v2.32h-2.46zM366.8 105.9h2.46v2.32h-2.46zM408.3 105.9h2.46v2.32h-2.46zM334.2 108.7h2.46v2.32h-2.46zM352.0 108.7h2.46v2.32h-2.46zM357.9 108.7h2.46v2.32h-2.46zM328.2 111.6h2.46v2.32h-2.46zM334.2 111.6h2.46v2.32h-2.46zM343.1 111.6h2.46v2.32h-2.46zM352.0 111.6h2.46v2.32h-2.46zM357.9 111.6h2.46v2.32h-2.46zM360.9 111.6h2.46v2.32h-2.46zM363.8 111.6h2.46v2.32h-2.46zM366.8 111.6h2.46v2.32h-2.46zM408.3 111.6h2.46v2.32h-2.46zM334.2 114.4h2.46v2.32h-2.46zM352.0 114.4h2.46v2.32h-2.46zM357.9 114.4h2.46v2.32h-2.46zM408.3 114.4h2.46v2.32h-2.46zM334.2 117.2h2.46v2.32h-2.46zM343.1 117.2h2.46v2.32h-2.46zM352.0 117.2h2.46v2.32h-2.46zM366.8 117.2h2.46v2.32h-2.46zM405.3 117.2h2.46v2.32h-2.46zM408.3 117.2h2.46v2.32h-2.46zM334.2 120.0h2.46v2.32h-2.46zM337.1 120.0h2.46v2.32h-2.46zM340.1 120.0h2.46v2.32h-2.46zM352.0 120.0h2.46v2.32h-2.46zM357.9 120.0h2.46v2.32h-2.46zM408.3 120.0h2.46v2.32h-2.46zM328.2 122.9h2.46v2.32h-2.46zM331.2 122.9h2.46v2.32h-2.46zM337.1 122.9h2.46v2.32h-2.46zM340.1 122.9h2.46v2.32h-2.46zM328.2 125.7h2.46v2.32h-2.46zM337.1 125.7h2.46v2.32h-2.46zM343.1 125.7h2.46v2.32h-2.46zM328.2 128.5h2.46v2.32h-2.46zM331.2 128.5h2.46v2.32h-2.46zM334.2 128.5h2.46v2.32h-2.46zM349.0 128.5h2.46v2.32h-2.46zM366.8 128.5h2.46v2.32h-2.46zM328.2 131.3h2.46v2.32h-2.46zM337.1 131.3h2.46v2.32h-2.46zM340.1 131.3h2.46v2.32h-2.46zM343.1 131.3h2.46v2.32h-2.46zM349.0 131.3h2.46v2.32h-2.46zM375.7 131.3h2.46v2.32h-2.46zM328.2 134.1h2.46v2.32h-2.46zM375.7 134.1h2.46v2.32h-2.46zM328.2 137.0h2.46v2.32h-2.46zM334.2 137.0h2.46v2.32h-2.46zM337.1 137.0h2.46v2.32h-2.46zM366.8 137.0h2.46v2.32h-2.46zM328.2 139.8h2.46v2.32h-2.46zM331.2 139.8h2.46v2.32h-2.46zM334.2 139.8h2.46v2.32h-2.46zM343.1 139.8h2.46v2.32h-2.46zM366.8 139.8h2.46v2.32h-2.46zM328.2 142.6h2.46v2.32h-2.46zM337.1 142.6h2.46v2.32h-2.46zM340.1 142.6h2.46v2.32h-2.46zM328.2 145.4h2.46v2.32h-2.46zM337.1 145.4h2.46v2.32h-2.46zM328.2 148.3h2.46v2.32h-2.46zM337.1 148.3h2.46v2.32h-2.46zM340.1 148.3h2.46v2.32h-2.46zM366.8 148.3h2.46v2.32h-2.46zM340.1 151.1h2.46v2.32h-2.46zM366.8 151.1h2.46v2.32h-2.46zM337.1 153.9h2.46v2.32h-2.46zM340.1 153.9h2.46v2.32h-2.46zM337.1 156.7h2.46v2.32h-2.46zM337.1 159.6h2.46v2.32h-2.46zM366.8 159.6h2.46v2.32h-2.46zM331.2 162.4h2.46v2.32h-2.46zM334.2 162.4h2.46v2.32h-2.46zM337.1 162.4h2.46v2.32h-2.46zM337.1 165.2h2.46v2.32h-2.46zM340.1 165.2h2.46v2.32h-2.46zM366.8 165.2h2.46v2.32h-2.46zM331.2 168.0h2.46v2.32h-2.46zM366.8 168.0h2.46v2.32h-2.46zM334.2 170.8h2.46v2.32h-2.46zM337.1 170.8h2.46v2.32h-2.46zM328.2 173.7h2.46v2.32h-2.46zM331.2 173.7h2.46v2.32h-2.46zM337.1 173.7h2.46v2.32h-2.46zM340.1 173.7h2.46v2.32h-2.46zM366.8 173.7h2.46v2.32h-2.46zM337.1 176.5h2.46v2.32h-2.46zM340.1 176.5h2.46v2.32h-2.46zM366.8 176.5h2.46v2.32h-2.46zM331.2 179.3h2.46v2.32h-2.46zM337.1 179.3h2.46v2.32h-2.46zM346.0 179.3h2.46v2.32h-2.46zM331.2 182.1h2.46v2.32h-2.46zM337.1 182.1h2.46v2.32h-2.46zM346.0 182.1h2.46v2.32h-2.46zM375.7 182.1h2.46v2.32h-2.46zM402.4 182.1h2.46v2.32h-2.46zM405.3 182.1h2.46v2.32h-2.46zM331.2 185.0h2.46v2.32h-2.46zM334.2 185.0h2.46v2.32h-2.46zM337.1 185.0h2.46v2.32h-2.46zM346.0 185.0h2.46v2.32h-2.46zM375.7 185.0h2.46v2.32h-2.46zM328.2 187.8h2.46v2.32h-2.46zM331.2 187.8h2.46v2.32h-2.46zM402.4 187.8h2.46v2.32h-2.46zM405.3 187.8h2.46v2.32h-2.46zM375.7 190.6h2.46v2.32h-2.46zM402.4 190.6h2.46v2.32h-2.46zM328.2 193.4h2.46v2.32h-2.46zM334.2 193.4h2.46v2.32h-2.46zM337.1 193.4h2.46v2.32h-2.46zM346.0 193.4h2.46v2.32h-2.46z"/>
<path fill="#dc6e5a" d="M384.6 49.5h2.46v2.32h-2.46zM399.4 49.5h2.46v2.32h-2.46zM372.7 52.3h2.46v2.32h-2.46zM384.6 55.1h2.46v2.32h-2.46zM396.4 55.1h2.46v2.32h-2.46zM384.6 57.9h2.46v2.32h-2.46zM387.5 72.0h2.46v2.32h-2.46zM343.1 86.2h2.46v2.32h-2.46zM343.1 89.0h2.46v2.32h-2.46zM352.0 89.0h2.46v2.32h-2.46zM366.8 89.0h2.46v2.32h-2.46zM343.1 91.8h2.46v2.32h-2.46zM352.0 91.8h2.46v2.32h-2.46zM343.1 94.6h2.46v2.32h-2.46zM352.0 94.6h2.46v2.32h-2.46zM366.8 94.6h2.46v2.32h-2.46zM349.0 97.4h2.46v2.32h-2.46zM337.1 103.1h2.46v2.32h-2.46zM337.1 117.2h2.46v2.32h-2.46zM357.9 117.2h2.46v2.32h-2.46zM343.1 120.0h2.46v2.32h-2.46zM343.1 122.9h2.46v2.32h-2.46zM375.7 122.9h2.46v2.32h-2.46zM346.0 125.7h2.46v2.32h-2.46zM375.7 125.7h2.46v2.32h-2.46zM337.1 128.5h2.46v2.32h-2.46zM343.1 128.5h2.46v2.32h-2.46zM346.0 128.5h2.46v2.32h-2.46zM375.7 128.5h2.46v2.32h-2.46zM337.1 134.1h2.46v2.32h-2.46zM343.1 134.1h2.46v2.32h-2.46zM343.1 137.0h2.46v2.32h-2.46zM375.7 137.0h2.46v2.32h-2.46zM375.7 139.8h2.46v2.32h-2.46zM346.0 142.6h2.46v2.32h-2.46zM340.1 145.4h2.46v2.32h-2.46zM337.1 151.1h2.46v2.32h-2.46zM343.1 153.9h2.46v2.32h-2.46zM340.1 156.7h2.46v2.32h-2.46zM340.1 159.6h2.46v2.32h-2.46zM343.1 159.6h2.46v2.32h-2.46zM346.0 159.6h2.46v2.32h-2.46zM340.1 162.4h2.46v2.32h-2.46zM343.1 162.4h2.46v2.32h-2.46zM346.0 162.4h2.46v2.32h-2.46zM343.1 165.2h2.46v2.32h-2.46zM346.0 165.2h2.46v2.32h-2.46zM340.1 168.0h2.46v2.32h-2.46zM346.0 168.0h2.46v2.32h-2.46zM340.1 170.8h2.46v2.32h-2.46zM343.1 170.8h2.46v2.32h-2.46zM366.8 170.8h2.46v2.32h-2.46zM346.0 173.7h2.46v2.32h-2.46zM343.1 176.5h2.46v2.32h-2.46zM340.1 179.3h2.46v2.32h-2.46zM343.1 179.3h2.46v2.32h-2.46zM340.1 182.1h2.46v2.32h-2.46zM340.1 185.0h2.46v2.32h-2.46zM343.1 185.0h2.46v2.32h-2.46zM402.4 185.0h2.46v2.32h-2.46zM337.1 187.8h2.46v2.32h-2.46zM340.1 187.8h2.46v2.32h-2.46zM340.1 190.6h2.46v2.32h-2.46zM343.1 190.6h2.46v2.32h-2.46zM340.1 193.4h2.46v2.32h-2.46zM343.1 193.4h2.46v2.32h-2.46z"/>
<path fill="#6aa6d6" d="M357.9 52.3h2.46v2.32h-2.46zM337.1 63.6h2.46v2.32h-2.46zM340.1 63.6h2.46v2.32h-2.46zM337.1 66.4h2.46v2.32h-2.46zM340.1 66.4h2.46v2.32h-2.46zM337.1 69.2h2.46v2.32h-2.46zM340.1 72.0h2.46v2.32h-2.46zM337.1 74.9h2.46v2.32h-2.46zM387.5 80.5h2.46v2.32h-2.46zM393.5 80.5h2.46v2.32h-2.46zM393.5 83.3h2.46v2.32h-2.46zM393.5 86.2h2.46v2.32h-2.46zM393.5 89.0h2.46v2.32h-2.46zM393.5 100.3h2.46v2.32h-2.46zM393.5 103.1h2.46v2.32h-2.46zM381.6 108.7h2.46v2.32h-2.46zM393.5 108.7h2.46v2.32h-2.46zM384.6 111.6h2.46v2.32h-2.46zM399.4 111.6h2.46v2.32h-2.46zM378.6 114.4h2.46v2.32h-2.46zM381.6 128.5h2.46v2.32h-2.46zM396.4 137.0h2.46v2.32h-2.46zM402.4 142.6h2.46v2.32h-2.46zM354.9 151.1h2.46v2.32h-2.46zM393.5 151.1h2.46v2.32h-2.46zM357.9 159.6h2.46v2.32h-2.46zM390.5 159.6h2.46v2.32h-2.46zM393.5 159.6h2.46v2.32h-2.46zM396.4 159.6h2.46v2.32h-2.46zM387.5 162.4h2.46v2.32h-2.46zM393.5 162.4h2.46v2.32h-2.46zM393.5 165.2h2.46v2.32h-2.46zM393.5 168.0h2.46v2.32h-2.46zM393.5 176.5h2.46v2.32h-2.46zM384.6 190.6h2.46v2.32h-2.46zM390.5 190.6h2.46v2.32h-2.46z"/>
<path fill="#b2242c" d="M384.6 52.3h2.46v2.32h-2.46zM399.4 52.3h2.46v2.32h-2.46zM372.7 55.1h2.46v2.32h-2.46zM399.4 55.1h2.46v2.32h-2.46zM399.4 57.9h2.46v2.32h-2.46zM384.6 60.7h2.46v2.32h-2.46zM399.4 60.7h2.46v2.32h-2.46zM343.1 100.3h2.46v2.32h-2.46zM337.1 108.7h2.46v2.32h-2.46zM337.1 111.6h2.46v2.32h-2.46zM337.1 114.4h2.46v2.32h-2.46zM346.0 122.9h2.46v2.32h-2.46zM346.0 131.3h2.46v2.32h-2.46zM346.0 134.1h2.46v2.32h-2.46zM346.0 137.0h2.46v2.32h-2.46zM346.0 139.8h2.46v2.32h-2.46zM343.1 142.6h2.46v2.32h-2.46zM343.1 145.4h2.46v2.32h-2.46zM346.0 145.4h2.46v2.32h-2.46zM343.1 148.3h2.46v2.32h-2.46zM346.0 148.3h2.46v2.32h-2.46zM343.1 151.1h2.46v2.32h-2.46zM346.0 151.1h2.46v2.32h-2.46zM346.0 153.9h2.46v2.32h-2.46zM343.1 156.7h2.46v2.32h-2.46zM346.0 156.7h2.46v2.32h-2.46zM343.1 168.0h2.46v2.32h-2.46zM346.0 170.8h2.46v2.32h-2.46zM343.1 173.7h2.46v2.32h-2.46zM346.0 176.5h2.46v2.32h-2.46zM343.1 182.1h2.46v2.32h-2.46zM343.1 187.8h2.46v2.32h-2.46z"/>
<path fill="#2f70b4" d="M346.0 69.2h2.46v2.32h-2.46zM399.4 108.7h2.46v2.32h-2.46zM381.6 111.6h2.46v2.32h-2.46z"/>
</g>
<rect x="328.5" y="45.7" width="41.0" height="3.1" fill="#6f95d2"/>
<rect x="369.5" y="45.7" width="41.0" height="3.1" fill="#f6c391"/>
<g filter="url(#hb)"><rect x="427.0" y="50.0" width="80.5" height="146.0" fill="#eeeef1"/>
<path fill="#6aa6d6" d="M427.2 50.2h2.38v2.31h-2.38zM433.0 53.1h2.38v2.31h-2.38zM427.2 55.9h2.38v2.31h-2.38zM427.2 58.7h2.38v2.31h-2.38zM438.8 58.7h2.38v2.31h-2.38zM427.2 61.5h2.38v2.31h-2.38zM433.0 61.5h2.38v2.31h-2.38zM444.5 61.5h2.38v2.31h-2.38zM458.9 67.1h2.38v2.31h-2.38zM473.2 100.8h2.38v2.31h-2.38zM493.4 123.2h2.38v2.31h-2.38zM473.2 126.1h2.38v2.31h-2.38zM473.2 128.9h2.38v2.31h-2.38zM473.2 131.7h2.38v2.31h-2.38zM479.0 131.7h2.38v2.31h-2.38zM504.9 131.7h2.38v2.31h-2.38zM493.4 134.5h2.38v2.31h-2.38zM504.9 137.3h2.38v2.31h-2.38zM487.6 140.1h2.38v2.31h-2.38zM490.5 156.9h2.38v2.31h-2.38zM458.9 162.6h2.38v2.31h-2.38zM487.6 162.6h2.38v2.31h-2.38zM479.0 165.4h2.38v2.31h-2.38zM450.2 168.2h2.38v2.31h-2.38zM458.9 171.0h2.38v2.31h-2.38zM487.6 173.8h2.38v2.31h-2.38z"/>
<path fill="#f4f2f3" d="M430.1 50.2h2.38v2.31h-2.38zM447.4 50.2h2.38v2.31h-2.38zM453.1 50.2h2.38v2.31h-2.38zM456.0 50.2h2.38v2.31h-2.38zM473.2 50.2h2.38v2.31h-2.38zM479.0 50.2h2.38v2.31h-2.38zM487.6 50.2h2.38v2.31h-2.38zM493.4 50.2h2.38v2.31h-2.38zM456.0 53.1h2.38v2.31h-2.38zM473.2 53.1h2.38v2.31h-2.38zM430.1 55.9h2.38v2.31h-2.38zM473.2 55.9h2.38v2.31h-2.38zM456.0 58.7h2.38v2.31h-2.38zM473.2 58.7h2.38v2.31h-2.38zM499.1 58.7h2.38v2.31h-2.38zM456.0 61.5h2.38v2.31h-2.38zM470.4 61.5h2.38v2.31h-2.38zM473.2 61.5h2.38v2.31h-2.38zM487.6 61.5h2.38v2.31h-2.38zM441.6 64.3h2.38v2.31h-2.38zM450.2 64.3h2.38v2.31h-2.38zM456.0 64.3h2.38v2.31h-2.38zM473.2 64.3h2.38v2.31h-2.38zM447.4 67.1h2.38v2.31h-2.38zM456.0 67.1h2.38v2.31h-2.38zM430.1 69.9h2.38v2.31h-2.38zM458.9 69.9h2.38v2.31h-2.38zM461.8 69.9h2.38v2.31h-2.38zM464.6 69.9h2.38v2.31h-2.38zM433.0 72.7h2.38v2.31h-2.38zM438.8 72.7h2.38v2.31h-2.38zM441.6 72.7h2.38v2.31h-2.38zM447.4 72.7h2.38v2.31h-2.38zM456.0 72.7h2.38v2.31h-2.38zM433.0 75.5h2.38v2.31h-2.38zM441.6 75.5h2.38v2.31h-2.38zM458.9 75.5h2.38v2.31h-2.38zM461.8 75.5h2.38v2.31h-2.38zM504.9 75.5h2.38v2.31h-2.38zM433.0 78.3h2.38v2.31h-2.38zM447.4 78.3h2.38v2.31h-2.38zM453.1 78.3h2.38v2.31h-2.38zM461.8 78.3h2.38v2.31h-2.38zM467.5 78.3h2.38v2.31h-2.38zM473.2 78.3h2.38v2.31h-2.38zM441.6 81.1h2.38v2.31h-2.38zM461.8 81.1h2.38v2.31h-2.38zM493.4 81.1h2.38v2.31h-2.38zM496.2 81.1h2.38v2.31h-2.38zM433.0 83.9h2.38v2.31h-2.38zM461.8 83.9h2.38v2.31h-2.38zM464.6 83.9h2.38v2.31h-2.38zM473.2 83.9h2.38v2.31h-2.38zM487.6 83.9h2.38v2.31h-2.38zM433.0 86.8h2.38v2.31h-2.38zM441.6 86.8h2.38v2.31h-2.38zM447.4 86.8h2.38v2.31h-2.38zM450.2 86.8h2.38v2.31h-2.38zM453.1 86.8h2.38v2.31h-2.38zM461.8 86.8h2.38v2.31h-2.38zM504.9 86.8h2.38v2.31h-2.38zM427.2 89.6h2.38v2.31h-2.38zM453.1 89.6h2.38v2.31h-2.38zM461.8 89.6h2.38v2.31h-2.38zM427.2 92.4h2.38v2.31h-2.38zM433.0 92.4h2.38v2.31h-2.38zM438.8 92.4h2.38v2.31h-2.38zM456.0 92.4h2.38v2.31h-2.38zM461.8 92.4h2.38v2.31h-2.38zM490.5 92.4h2.38v2.31h-2.38zM493.4 92.4h2.38v2.31h-2.38zM435.9 95.2h2.38v2.31h-2.38zM461.8 95.2h2.38v2.31h-2.38zM461.8 98.0h2.38v2.31h-2.38zM464.6 98.0h2.38v2.31h-2.38zM467.5 98.0h2.38v2.31h-2.38zM479.0 98.0h2.38v2.31h-2.38zM490.5 98.0h2.38v2.31h-2.38zM493.4 98.0h2.38v2.31h-2.38zM433.0 100.8h2.38v2.31h-2.38zM493.4 100.8h2.38v2.31h-2.38zM441.6 106.4h2.38v2.31h-2.38zM461.8 106.4h2.38v2.31h-2.38zM464.6 106.4h2.38v2.31h-2.38zM479.0 106.4h2.38v2.31h-2.38zM484.8 109.2h2.38v2.31h-2.38zM496.2 109.2h2.38v2.31h-2.38zM499.1 109.2h2.38v2.31h-2.38zM502.0 109.2h2.38v2.31h-2.38zM438.8 112.0h2.38v2.31h-2.38zM499.1 112.0h2.38v2.31h-2.38zM438.8 114.8h2.38v2.31h-2.38zM499.1 114.8h2.38v2.31h-2.38zM484.8 117.6h2.38v2.31h-2.38zM490.5 117.6h2.38v2.31h-2.38zM502.0 117.6h2.38v2.31h-2.38zM467.5 120.4h2.38v2.31h-2.38zM481.9 120.4h2.38v2.31h-2.38zM490.5 120.4h2.38v2.31h-2.38zM502.0 120.4h2.38v2.31h-2.38zM458.9 123.2h2.38v2.31h-2.38zM499.1 126.1h2.38v2.31h-2.38zM458.9 128.9h2.38v2.31h-2.38zM464.6 128.9h2.38v2.31h-2.38zM458.9 131.7h2.38v2.31h-2.38zM464.6 131.7h2.38v2.31h-2.38zM467.5 131.7h2.38v2.31h-2.38zM481.9 134.5h2.38v2.31h-2.38zM430.1 137.3h2.38v2.31h-2.38zM461.8 137.3h2.38v2.31h-2.38zM464.6 137.3h2.38v2.31h-2.38zM502.0 137.3h2.38v2.31h-2.38zM444.5 140.1h2.38v2.31h-2.38zM461.8 140.1h2.38v2.31h-2.38zM467.5 140.1h2.38v2.31h-2.38zM484.8 140.1h2.38v2.31h-2.38zM502.0 140.1h2.38v2.31h-2.38zM433.0 142.9h2.38v2.31h-2.38zM464.6 142.9h2.38v2.31h-2.38zM467.5 142.9h2.38v2.31h-2.38zM433.0 145.7h2.38v2.31h-2.38zM487.6 145.7h2.38v2.31h-2.38zM493.4 145.7h2.38v2.31h-2.38zM433.0 148.5h2.38v2.31h-2.38zM476.1 148.5h2.38v2.31h-2.38zM433.0 151.3h2.38v2.31h-2.38zM456.0 151.3h2.38v2.31h-2.38zM464.6 151.3h2.38v2.31h-2.38zM433.0 154.1h2.38v2.31h-2.38zM441.6 154.1h2.38v2.31h-2.38zM458.9 154.1h2.38v2.31h-2.38zM481.9 154.1h2.38v2.31h-2.38zM487.6 154.1h2.38v2.31h-2.38zM496.2 154.1h2.38v2.31h-2.38zM487.6 156.9h2.38v2.31h-2.38zM496.2 156.9h2.38v2.31h-2.38zM504.9 156.9h2.38v2.31h-2.38zM444.5 159.8h2.38v2.31h-2.38zM502.0 159.8h2.38v2.31h-2.38zM447.4 162.6h2.38v2.31h-2.38zM453.1 162.6h2.38v2.31h-2.38zM464.6 165.4h2.38v2.31h-2.38zM467.5 165.4h2.38v2.31h-2.38zM467.5 168.2h2.38v2.31h-2.38zM470.4 168.2h2.38v2.31h-2.38zM496.2 168.2h2.38v2.31h-2.38zM504.9 168.2h2.38v2.31h-2.38zM461.8 171.0h2.38v2.31h-2.38zM470.4 171.0h2.38v2.31h-2.38zM502.0 171.0h2.38v2.31h-2.38zM447.4 173.8h2.38v2.31h-2.38zM467.5 173.8h2.38v2.31h-2.38zM470.4 173.8h2.38v2.31h-2.38zM476.1 173.8h2.38v2.31h-2.38zM496.2 173.8h2.38v2.31h-2.38zM502.0 173.8h2.38v2.31h-2.38zM470.4 176.6h2.38v2.31h-2.38zM496.2 176.6h2.38v2.31h-2.38zM461.8 179.4h2.38v2.31h-2.38zM499.1 179.4h2.38v2.31h-2.38zM502.0 179.4h2.38v2.31h-2.38zM464.6 182.2h2.38v2.31h-2.38zM496.2 182.2h2.38v2.31h-2.38zM504.9 182.2h2.38v2.31h-2.38zM467.5 185.0h2.38v2.31h-2.38zM496.2 185.0h2.38v2.31h-2.38zM499.1 185.0h2.38v2.31h-2.38zM464.6 187.8h2.38v2.31h-2.38zM476.1 187.8h2.38v2.31h-2.38zM499.1 187.8h2.38v2.31h-2.38zM504.9 187.8h2.38v2.31h-2.38zM464.6 190.6h2.38v2.31h-2.38zM496.2 190.6h2.38v2.31h-2.38zM499.1 190.6h2.38v2.31h-2.38zM447.4 193.4h2.38v2.31h-2.38zM470.4 193.4h2.38v2.31h-2.38zM487.6 193.4h2.38v2.31h-2.38z"/>
<path fill="#d9e8f3" d="M433.0 50.2h2.38v2.31h-2.38zM435.9 50.2h2.38v2.31h-2.38zM441.6 50.2h2.38v2.31h-2.38zM444.5 50.2h2.38v2.31h-2.38zM458.9 50.2h2.38v2.31h-2.38zM430.1 53.1h2.38v2.31h-2.38zM444.5 53.1h2.38v2.31h-2.38zM447.4 53.1h2.38v2.31h-2.38zM453.1 53.1h2.38v2.31h-2.38zM487.6 53.1h2.38v2.31h-2.38zM493.4 53.1h2.38v2.31h-2.38zM441.6 55.9h2.38v2.31h-2.38zM444.5 55.9h2.38v2.31h-2.38zM447.4 55.9h2.38v2.31h-2.38zM453.1 55.9h2.38v2.31h-2.38zM456.0 55.9h2.38v2.31h-2.38zM458.9 55.9h2.38v2.31h-2.38zM487.6 55.9h2.38v2.31h-2.38zM490.5 55.9h2.38v2.31h-2.38zM493.4 55.9h2.38v2.31h-2.38zM430.1 58.7h2.38v2.31h-2.38zM441.6 58.7h2.38v2.31h-2.38zM453.1 58.7h2.38v2.31h-2.38zM487.6 58.7h2.38v2.31h-2.38zM493.4 58.7h2.38v2.31h-2.38zM430.1 61.5h2.38v2.31h-2.38zM438.8 61.5h2.38v2.31h-2.38zM441.6 61.5h2.38v2.31h-2.38zM447.4 61.5h2.38v2.31h-2.38zM493.4 61.5h2.38v2.31h-2.38zM430.1 64.3h2.38v2.31h-2.38zM433.0 64.3h2.38v2.31h-2.38zM453.1 64.3h2.38v2.31h-2.38zM430.1 67.1h2.38v2.31h-2.38zM441.6 67.1h2.38v2.31h-2.38zM453.1 67.1h2.38v2.31h-2.38zM473.2 67.1h2.38v2.31h-2.38zM479.0 67.1h2.38v2.31h-2.38zM493.4 67.1h2.38v2.31h-2.38zM435.9 69.9h2.38v2.31h-2.38zM438.8 69.9h2.38v2.31h-2.38zM453.1 69.9h2.38v2.31h-2.38zM467.5 69.9h2.38v2.31h-2.38zM493.4 69.9h2.38v2.31h-2.38zM504.9 69.9h2.38v2.31h-2.38zM444.5 72.7h2.38v2.31h-2.38zM453.1 72.7h2.38v2.31h-2.38zM458.9 72.7h2.38v2.31h-2.38zM464.6 72.7h2.38v2.31h-2.38zM493.4 72.7h2.38v2.31h-2.38zM438.8 75.5h2.38v2.31h-2.38zM447.4 75.5h2.38v2.31h-2.38zM464.6 75.5h2.38v2.31h-2.38zM493.4 75.5h2.38v2.31h-2.38zM430.1 78.3h2.38v2.31h-2.38zM458.9 78.3h2.38v2.31h-2.38zM464.6 78.3h2.38v2.31h-2.38zM493.4 78.3h2.38v2.31h-2.38zM504.9 78.3h2.38v2.31h-2.38zM438.8 81.1h2.38v2.31h-2.38zM447.4 81.1h2.38v2.31h-2.38zM458.9 81.1h2.38v2.31h-2.38zM464.6 81.1h2.38v2.31h-2.38zM473.2 81.1h2.38v2.31h-2.38zM504.9 81.1h2.38v2.31h-2.38zM430.1 83.9h2.38v2.31h-2.38zM438.8 83.9h2.38v2.31h-2.38zM453.1 83.9h2.38v2.31h-2.38zM456.0 83.9h2.38v2.31h-2.38zM458.9 83.9h2.38v2.31h-2.38zM493.4 83.9h2.38v2.31h-2.38zM502.0 83.9h2.38v2.31h-2.38zM504.9 83.9h2.38v2.31h-2.38zM430.1 86.8h2.38v2.31h-2.38zM435.9 86.8h2.38v2.31h-2.38zM438.8 86.8h2.38v2.31h-2.38zM444.5 86.8h2.38v2.31h-2.38zM458.9 86.8h2.38v2.31h-2.38zM476.1 86.8h2.38v2.31h-2.38zM484.8 86.8h2.38v2.31h-2.38zM490.5 86.8h2.38v2.31h-2.38zM493.4 86.8h2.38v2.31h-2.38zM433.0 89.6h2.38v2.31h-2.38zM438.8 89.6h2.38v2.31h-2.38zM441.6 89.6h2.38v2.31h-2.38zM444.5 89.6h2.38v2.31h-2.38zM450.2 89.6h2.38v2.31h-2.38zM458.9 89.6h2.38v2.31h-2.38zM464.6 89.6h2.38v2.31h-2.38zM476.1 89.6h2.38v2.31h-2.38zM490.5 89.6h2.38v2.31h-2.38zM504.9 89.6h2.38v2.31h-2.38zM430.1 92.4h2.38v2.31h-2.38zM435.9 92.4h2.38v2.31h-2.38zM444.5 92.4h2.38v2.31h-2.38zM453.1 92.4h2.38v2.31h-2.38zM458.9 92.4h2.38v2.31h-2.38zM476.1 92.4h2.38v2.31h-2.38zM484.8 92.4h2.38v2.31h-2.38zM430.1 95.2h2.38v2.31h-2.38zM433.0 95.2h2.38v2.31h-2.38zM438.8 95.2h2.38v2.31h-2.38zM441.6 95.2h2.38v2.31h-2.38zM444.5 95.2h2.38v2.31h-2.38zM450.2 95.2h2.38v2.31h-2.38zM453.1 95.2h2.38v2.31h-2.38zM456.0 95.2h2.38v2.31h-2.38zM458.9 95.2h2.38v2.31h-2.38zM464.6 95.2h2.38v2.31h-2.38zM484.8 95.2h2.38v2.31h-2.38zM490.5 95.2h2.38v2.31h-2.38zM493.4 95.2h2.38v2.31h-2.38zM504.9 95.2h2.38v2.31h-2.38zM435.9 98.0h2.38v2.31h-2.38zM470.4 98.0h2.38v2.31h-2.38zM484.8 98.0h2.38v2.31h-2.38zM487.6 98.0h2.38v2.31h-2.38zM496.2 98.0h2.38v2.31h-2.38zM502.0 98.0h2.38v2.31h-2.38zM504.9 98.0h2.38v2.31h-2.38zM435.9 100.8h2.38v2.31h-2.38zM461.8 100.8h2.38v2.31h-2.38zM464.6 100.8h2.38v2.31h-2.38zM470.4 100.8h2.38v2.31h-2.38zM476.1 100.8h2.38v2.31h-2.38zM479.0 100.8h2.38v2.31h-2.38zM481.9 100.8h2.38v2.31h-2.38zM484.8 100.8h2.38v2.31h-2.38zM487.6 100.8h2.38v2.31h-2.38zM496.2 100.8h2.38v2.31h-2.38zM502.0 100.8h2.38v2.31h-2.38zM504.9 100.8h2.38v2.31h-2.38zM435.9 103.6h2.38v2.31h-2.38zM467.5 103.6h2.38v2.31h-2.38zM481.9 103.6h2.38v2.31h-2.38zM484.8 103.6h2.38v2.31h-2.38zM487.6 103.6h2.38v2.31h-2.38zM490.5 103.6h2.38v2.31h-2.38zM493.4 103.6h2.38v2.31h-2.38zM502.0 103.6h2.38v2.31h-2.38zM504.9 103.6h2.38v2.31h-2.38zM435.9 106.4h2.38v2.31h-2.38zM467.5 106.4h2.38v2.31h-2.38zM470.4 106.4h2.38v2.31h-2.38zM476.1 106.4h2.38v2.31h-2.38zM481.9 106.4h2.38v2.31h-2.38zM484.8 106.4h2.38v2.31h-2.38zM487.6 106.4h2.38v2.31h-2.38zM490.5 106.4h2.38v2.31h-2.38zM493.4 106.4h2.38v2.31h-2.38zM496.2 106.4h2.38v2.31h-2.38zM502.0 106.4h2.38v2.31h-2.38zM504.9 106.4h2.38v2.31h-2.38zM447.4 109.2h2.38v2.31h-2.38zM464.6 109.2h2.38v2.31h-2.38zM467.5 109.2h2.38v2.31h-2.38zM473.2 109.2h2.38v2.31h-2.38zM476.1 109.2h2.38v2.31h-2.38zM481.9 109.2h2.38v2.31h-2.38zM487.6 109.2h2.38v2.31h-2.38zM504.9 109.2h2.38v2.31h-2.38zM447.4 112.0h2.38v2.31h-2.38zM458.9 112.0h2.38v2.31h-2.38zM467.5 112.0h2.38v2.31h-2.38zM473.2 112.0h2.38v2.31h-2.38zM476.1 112.0h2.38v2.31h-2.38zM484.8 112.0h2.38v2.31h-2.38zM487.6 112.0h2.38v2.31h-2.38zM490.5 112.0h2.38v2.31h-2.38zM493.4 112.0h2.38v2.31h-2.38zM504.9 112.0h2.38v2.31h-2.38zM447.4 114.8h2.38v2.31h-2.38zM464.6 114.8h2.38v2.31h-2.38zM467.5 114.8h2.38v2.31h-2.38zM470.4 114.8h2.38v2.31h-2.38zM473.2 114.8h2.38v2.31h-2.38zM476.1 114.8h2.38v2.31h-2.38zM481.9 114.8h2.38v2.31h-2.38zM484.8 114.8h2.38v2.31h-2.38zM493.4 114.8h2.38v2.31h-2.38zM496.2 114.8h2.38v2.31h-2.38zM502.0 114.8h2.38v2.31h-2.38zM504.9 114.8h2.38v2.31h-2.38zM430.1 117.6h2.38v2.31h-2.38zM438.8 117.6h2.38v2.31h-2.38zM447.4 117.6h2.38v2.31h-2.38zM458.9 117.6h2.38v2.31h-2.38zM467.5 117.6h2.38v2.31h-2.38zM470.4 117.6h2.38v2.31h-2.38zM473.2 117.6h2.38v2.31h-2.38zM476.1 117.6h2.38v2.31h-2.38zM481.9 117.6h2.38v2.31h-2.38zM504.9 117.6h2.38v2.31h-2.38zM438.8 120.4h2.38v2.31h-2.38zM447.4 120.4h2.38v2.31h-2.38zM461.8 120.4h2.38v2.31h-2.38zM473.2 120.4h2.38v2.31h-2.38zM484.8 120.4h2.38v2.31h-2.38zM496.2 120.4h2.38v2.31h-2.38zM499.1 120.4h2.38v2.31h-2.38zM504.9 120.4h2.38v2.31h-2.38zM433.0 123.2h2.38v2.31h-2.38zM467.5 123.2h2.38v2.31h-2.38zM470.4 123.2h2.38v2.31h-2.38zM481.9 123.2h2.38v2.31h-2.38zM484.8 123.2h2.38v2.31h-2.38zM490.5 123.2h2.38v2.31h-2.38zM499.1 123.2h2.38v2.31h-2.38zM502.0 123.2h2.38v2.31h-2.38zM433.0 126.1h2.38v2.31h-2.38zM470.4 126.1h2.38v2.31h-2.38zM476.1 126.1h2.38v2.31h-2.38zM479.0 126.1h2.38v2.31h-2.38zM481.9 126.1h2.38v2.31h-2.38zM490.5 126.1h2.38v2.31h-2.38zM502.0 126.1h2.38v2.31h-2.38zM467.5 128.9h2.38v2.31h-2.38zM470.4 128.9h2.38v2.31h-2.38zM476.1 128.9h2.38v2.31h-2.38zM479.0 128.9h2.38v2.31h-2.38zM481.9 128.9h2.38v2.31h-2.38zM484.8 128.9h2.38v2.31h-2.38zM499.1 128.9h2.38v2.31h-2.38zM502.0 128.9h2.38v2.31h-2.38zM433.0 131.7h2.38v2.31h-2.38zM470.4 131.7h2.38v2.31h-2.38zM476.1 131.7h2.38v2.31h-2.38zM481.9 131.7h2.38v2.31h-2.38zM484.8 131.7h2.38v2.31h-2.38zM490.5 131.7h2.38v2.31h-2.38zM493.4 131.7h2.38v2.31h-2.38zM499.1 131.7h2.38v2.31h-2.38zM502.0 131.7h2.38v2.31h-2.38zM433.0 134.5h2.38v2.31h-2.38zM464.6 134.5h2.38v2.31h-2.38zM467.5 134.5h2.38v2.31h-2.38zM470.4 134.5h2.38v2.31h-2.38zM476.1 134.5h2.38v2.31h-2.38zM484.8 134.5h2.38v2.31h-2.38zM490.5 134.5h2.38v2.31h-2.38zM496.2 134.5h2.38v2.31h-2.38zM499.1 134.5h2.38v2.31h-2.38zM504.9 134.5h2.38v2.31h-2.38zM467.5 137.3h2.38v2.31h-2.38zM470.4 137.3h2.38v2.31h-2.38zM476.1 137.3h2.38v2.31h-2.38zM481.9 137.3h2.38v2.31h-2.38zM484.8 137.3h2.38v2.31h-2.38zM490.5 137.3h2.38v2.31h-2.38zM496.2 137.3h2.38v2.31h-2.38zM433.0 140.1h2.38v2.31h-2.38zM464.6 140.1h2.38v2.31h-2.38zM470.4 140.1h2.38v2.31h-2.38zM476.1 140.1h2.38v2.31h-2.38zM481.9 140.1h2.38v2.31h-2.38zM490.5 140.1h2.38v2.31h-2.38zM499.1 140.1h2.38v2.31h-2.38zM504.9 140.1h2.38v2.31h-2.38zM470.4 142.9h2.38v2.31h-2.38zM476.1 142.9h2.38v2.31h-2.38zM479.0 142.9h2.38v2.31h-2.38zM481.9 142.9h2.38v2.31h-2.38zM487.6 142.9h2.38v2.31h-2.38zM490.5 142.9h2.38v2.31h-2.38zM493.4 142.9h2.38v2.31h-2.38zM496.2 142.9h2.38v2.31h-2.38zM502.0 142.9h2.38v2.31h-2.38zM504.9 142.9h2.38v2.31h-2.38zM464.6 145.7h2.38v2.31h-2.38zM470.4 145.7h2.38v2.31h-2.38zM476.1 145.7h2.38v2.31h-2.38zM484.8 145.7h2.38v2.31h-2.38zM496.2 145.7h2.38v2.31h-2.38zM502.0 145.7h2.38v2.31h-2.38zM504.9 145.7h2.38v2.31h-2.38zM464.6 148.5h2.38v2.31h-2.38zM470.4 148.5h2.38v2.31h-2.38zM479.0 148.5h2.38v2.31h-2.38zM481.9 148.5h2.38v2.31h-2.38zM487.6 148.5h2.38v2.31h-2.38zM496.2 148.5h2.38v2.31h-2.38zM467.5 151.3h2.38v2.31h-2.38zM470.4 151.3h2.38v2.31h-2.38zM479.0 151.3h2.38v2.31h-2.38zM481.9 151.3h2.38v2.31h-2.38zM484.8 151.3h2.38v2.31h-2.38zM487.6 151.3h2.38v2.31h-2.38zM490.5 151.3h2.38v2.31h-2.38zM493.4 151.3h2.38v2.31h-2.38zM502.0 151.3h2.38v2.31h-2.38zM504.9 151.3h2.38v2.31h-2.38zM467.5 154.1h2.38v2.31h-2.38zM470.4 154.1h2.38v2.31h-2.38zM473.2 154.1h2.38v2.31h-2.38zM476.1 154.1h2.38v2.31h-2.38zM484.8 154.1h2.38v2.31h-2.38zM493.4 154.1h2.38v2.31h-2.38zM499.1 154.1h2.38v2.31h-2.38zM502.0 154.1h2.38v2.31h-2.38zM504.9 154.1h2.38v2.31h-2.38zM433.0 156.9h2.38v2.31h-2.38zM464.6 156.9h2.38v2.31h-2.38zM476.1 156.9h2.38v2.31h-2.38zM493.4 156.9h2.38v2.31h-2.38zM502.0 156.9h2.38v2.31h-2.38zM447.4 159.8h2.38v2.31h-2.38zM453.1 159.8h2.38v2.31h-2.38zM461.8 159.8h2.38v2.31h-2.38zM467.5 159.8h2.38v2.31h-2.38zM470.4 159.8h2.38v2.31h-2.38zM476.1 159.8h2.38v2.31h-2.38zM479.0 159.8h2.38v2.31h-2.38zM490.5 159.8h2.38v2.31h-2.38zM493.4 159.8h2.38v2.31h-2.38zM496.2 159.8h2.38v2.31h-2.38zM450.2 162.6h2.38v2.31h-2.38zM456.0 162.6h2.38v2.31h-2.38zM461.8 162.6h2.38v2.31h-2.38zM467.5 162.6h2.38v2.31h-2.38zM470.4 162.6h2.38v2.31h-2.38zM473.2 162.6h2.38v2.31h-2.38zM476.1 162.6h2.38v2.31h-2.38zM479.0 162.6h2.38v2.31h-2.38zM484.8 162.6h2.38v2.31h-2.38zM493.4 162.6h2.38v2.31h-2.38zM499.1 162.6h2.38v2.31h-2.38zM502.0 162.6h2.38v2.31h-2.38zM504.9 162.6h2.38v2.31h-2.38zM447.4 165.4h2.38v2.31h-2.38zM450.2 165.4h2.38v2.31h-2.38zM456.0 165.4h2.38v2.31h-2.38zM458.9 165.4h2.38v2.31h-2.38zM461.8 165.4h2.38v2.31h-2.38zM476.1 165.4h2.38v2.31h-2.38zM484.8 165.4h2.38v2.31h-2.38zM496.2 165.4h2.38v2.31h-2.38zM499.1 165.4h2.38v2.31h-2.38zM502.0 165.4h2.38v2.31h-2.38zM504.9 165.4h2.38v2.31h-2.38zM453.1 168.2h2.38v2.31h-2.38zM456.0 168.2h2.38v2.31h-2.38zM461.8 168.2h2.38v2.31h-2.38zM476.1 168.2h2.38v2.31h-2.38zM484.8 168.2h2.38v2.31h-2.38zM502.0 168.2h2.38v2.31h-2.38zM447.4 171.0h2.38v2.31h-2.38zM450.2 171.0h2.38v2.31h-2.38zM453.1 171.0h2.38v2.31h-2.38zM464.6 171.0h2.38v2.31h-2.38zM467.5 171.0h2.38v2.31h-2.38zM476.1 171.0h2.38v2.31h-2.38zM484.8 171.0h2.38v2.31h-2.38zM490.5 171.0h2.38v2.31h-2.38zM496.2 171.0h2.38v2.31h-2.38zM499.1 171.0h2.38v2.31h-2.38zM504.9 171.0h2.38v2.31h-2.38zM453.1 173.8h2.38v2.31h-2.38zM461.8 173.8h2.38v2.31h-2.38zM484.8 173.8h2.38v2.31h-2.38zM499.1 173.8h2.38v2.31h-2.38zM504.9 173.8h2.38v2.31h-2.38zM447.4 176.6h2.38v2.31h-2.38zM453.1 176.6h2.38v2.31h-2.38zM461.8 176.6h2.38v2.31h-2.38zM467.5 176.6h2.38v2.31h-2.38zM476.1 176.6h2.38v2.31h-2.38zM484.8 176.6h2.38v2.31h-2.38zM490.5 176.6h2.38v2.31h-2.38zM502.0 176.6h2.38v2.31h-2.38zM504.9 176.6h2.38v2.31h-2.38zM450.2 179.4h2.38v2.31h-2.38zM456.0 179.4h2.38v2.31h-2.38zM458.9 179.4h2.38v2.31h-2.38zM467.5 179.4h2.38v2.31h-2.38zM470.4 179.4h2.38v2.31h-2.38zM479.0 179.4h2.38v2.31h-2.38zM484.8 179.4h2.38v2.31h-2.38zM487.6 179.4h2.38v2.31h-2.38zM490.5 179.4h2.38v2.31h-2.38zM493.4 179.4h2.38v2.31h-2.38zM496.2 179.4h2.38v2.31h-2.38zM504.9 179.4h2.38v2.31h-2.38zM450.2 182.2h2.38v2.31h-2.38zM456.0 182.2h2.38v2.31h-2.38zM467.5 182.2h2.38v2.31h-2.38zM470.4 182.2h2.38v2.31h-2.38zM476.1 182.2h2.38v2.31h-2.38zM479.0 182.2h2.38v2.31h-2.38zM484.8 182.2h2.38v2.31h-2.38zM487.6 182.2h2.38v2.31h-2.38zM493.4 182.2h2.38v2.31h-2.38zM499.1 182.2h2.38v2.31h-2.38zM450.2 185.0h2.38v2.31h-2.38zM461.8 185.0h2.38v2.31h-2.38zM464.6 185.0h2.38v2.31h-2.38zM470.4 185.0h2.38v2.31h-2.38zM476.1 185.0h2.38v2.31h-2.38zM479.0 185.0h2.38v2.31h-2.38zM487.6 185.0h2.38v2.31h-2.38zM493.4 185.0h2.38v2.31h-2.38zM502.0 185.0h2.38v2.31h-2.38zM504.9 185.0h2.38v2.31h-2.38zM450.2 187.8h2.38v2.31h-2.38zM456.0 187.8h2.38v2.31h-2.38zM461.8 187.8h2.38v2.31h-2.38zM470.4 187.8h2.38v2.31h-2.38zM473.2 187.8h2.38v2.31h-2.38zM481.9 187.8h2.38v2.31h-2.38zM484.8 187.8h2.38v2.31h-2.38zM487.6 187.8h2.38v2.31h-2.38zM493.4 187.8h2.38v2.31h-2.38zM496.2 187.8h2.38v2.31h-2.38zM502.0 187.8h2.38v2.31h-2.38zM450.2 190.6h2.38v2.31h-2.38zM456.0 190.6h2.38v2.31h-2.38zM461.8 190.6h2.38v2.31h-2.38zM470.4 190.6h2.38v2.31h-2.38zM473.2 190.6h2.38v2.31h-2.38zM476.1 190.6h2.38v2.31h-2.38zM479.0 190.6h2.38v2.31h-2.38zM481.9 190.6h2.38v2.31h-2.38zM484.8 190.6h2.38v2.31h-2.38zM487.6 190.6h2.38v2.31h-2.38zM493.4 190.6h2.38v2.31h-2.38zM502.0 190.6h2.38v2.31h-2.38zM504.9 190.6h2.38v2.31h-2.38zM450.2 193.4h2.38v2.31h-2.38zM456.0 193.4h2.38v2.31h-2.38zM458.9 193.4h2.38v2.31h-2.38zM461.8 193.4h2.38v2.31h-2.38zM464.6 193.4h2.38v2.31h-2.38zM473.2 193.4h2.38v2.31h-2.38zM481.9 193.4h2.38v2.31h-2.38zM484.8 193.4h2.38v2.31h-2.38zM493.4 193.4h2.38v2.31h-2.38zM496.2 193.4h2.38v2.31h-2.38zM499.1 193.4h2.38v2.31h-2.38zM502.0 193.4h2.38v2.31h-2.38zM504.9 193.4h2.38v2.31h-2.38z"/>
<path fill="#a8cde6" d="M438.8 50.2h2.38v2.31h-2.38zM490.5 50.2h2.38v2.31h-2.38zM435.9 53.1h2.38v2.31h-2.38zM438.8 53.1h2.38v2.31h-2.38zM441.6 53.1h2.38v2.31h-2.38zM458.9 53.1h2.38v2.31h-2.38zM490.5 53.1h2.38v2.31h-2.38zM433.0 55.9h2.38v2.31h-2.38zM435.9 55.9h2.38v2.31h-2.38zM438.8 55.9h2.38v2.31h-2.38zM433.0 58.7h2.38v2.31h-2.38zM435.9 58.7h2.38v2.31h-2.38zM444.5 58.7h2.38v2.31h-2.38zM447.4 58.7h2.38v2.31h-2.38zM458.9 58.7h2.38v2.31h-2.38zM490.5 58.7h2.38v2.31h-2.38zM435.9 61.5h2.38v2.31h-2.38zM453.1 61.5h2.38v2.31h-2.38zM458.9 61.5h2.38v2.31h-2.38zM490.5 61.5h2.38v2.31h-2.38zM427.2 64.3h2.38v2.31h-2.38zM435.9 64.3h2.38v2.31h-2.38zM438.8 64.3h2.38v2.31h-2.38zM444.5 64.3h2.38v2.31h-2.38zM447.4 64.3h2.38v2.31h-2.38zM458.9 64.3h2.38v2.31h-2.38zM487.6 64.3h2.38v2.31h-2.38zM490.5 64.3h2.38v2.31h-2.38zM427.2 67.1h2.38v2.31h-2.38zM433.0 67.1h2.38v2.31h-2.38zM435.9 67.1h2.38v2.31h-2.38zM438.8 67.1h2.38v2.31h-2.38zM444.5 67.1h2.38v2.31h-2.38zM487.6 67.1h2.38v2.31h-2.38zM490.5 67.1h2.38v2.31h-2.38zM444.5 69.9h2.38v2.31h-2.38zM447.4 69.9h2.38v2.31h-2.38zM430.1 72.7h2.38v2.31h-2.38zM504.9 72.7h2.38v2.31h-2.38zM430.1 75.5h2.38v2.31h-2.38zM444.5 75.5h2.38v2.31h-2.38zM453.1 75.5h2.38v2.31h-2.38zM438.8 78.3h2.38v2.31h-2.38zM444.5 78.3h2.38v2.31h-2.38zM430.1 81.1h2.38v2.31h-2.38zM444.5 81.1h2.38v2.31h-2.38zM453.1 81.1h2.38v2.31h-2.38zM447.4 83.9h2.38v2.31h-2.38zM456.0 86.8h2.38v2.31h-2.38zM464.6 86.8h2.38v2.31h-2.38zM430.1 89.6h2.38v2.31h-2.38zM435.9 89.6h2.38v2.31h-2.38zM456.0 89.6h2.38v2.31h-2.38zM484.8 89.6h2.38v2.31h-2.38zM493.4 89.6h2.38v2.31h-2.38zM450.2 92.4h2.38v2.31h-2.38zM464.6 92.4h2.38v2.31h-2.38zM504.9 92.4h2.38v2.31h-2.38zM473.2 98.0h2.38v2.31h-2.38zM476.1 98.0h2.38v2.31h-2.38zM481.9 98.0h2.38v2.31h-2.38zM461.8 103.6h2.38v2.31h-2.38zM470.4 103.6h2.38v2.31h-2.38zM473.2 103.6h2.38v2.31h-2.38zM476.1 103.6h2.38v2.31h-2.38zM479.0 103.6h2.38v2.31h-2.38zM473.2 106.4h2.38v2.31h-2.38zM438.8 109.2h2.38v2.31h-2.38zM458.9 109.2h2.38v2.31h-2.38zM461.8 109.2h2.38v2.31h-2.38zM470.4 109.2h2.38v2.31h-2.38zM479.0 109.2h2.38v2.31h-2.38zM490.5 109.2h2.38v2.31h-2.38zM493.4 109.2h2.38v2.31h-2.38zM461.8 112.0h2.38v2.31h-2.38zM464.6 112.0h2.38v2.31h-2.38zM470.4 112.0h2.38v2.31h-2.38zM479.0 112.0h2.38v2.31h-2.38zM481.9 112.0h2.38v2.31h-2.38zM496.2 112.0h2.38v2.31h-2.38zM502.0 112.0h2.38v2.31h-2.38zM458.9 114.8h2.38v2.31h-2.38zM461.8 114.8h2.38v2.31h-2.38zM479.0 114.8h2.38v2.31h-2.38zM487.6 114.8h2.38v2.31h-2.38zM490.5 114.8h2.38v2.31h-2.38zM461.8 117.6h2.38v2.31h-2.38zM479.0 117.6h2.38v2.31h-2.38zM487.6 117.6h2.38v2.31h-2.38zM493.4 117.6h2.38v2.31h-2.38zM496.2 117.6h2.38v2.31h-2.38zM458.9 120.4h2.38v2.31h-2.38zM464.6 120.4h2.38v2.31h-2.38zM470.4 120.4h2.38v2.31h-2.38zM476.1 120.4h2.38v2.31h-2.38zM479.0 120.4h2.38v2.31h-2.38zM487.6 120.4h2.38v2.31h-2.38zM493.4 120.4h2.38v2.31h-2.38zM464.6 123.2h2.38v2.31h-2.38zM479.0 123.2h2.38v2.31h-2.38zM487.6 123.2h2.38v2.31h-2.38zM496.2 123.2h2.38v2.31h-2.38zM504.9 123.2h2.38v2.31h-2.38zM464.6 126.1h2.38v2.31h-2.38zM487.6 126.1h2.38v2.31h-2.38zM493.4 126.1h2.38v2.31h-2.38zM496.2 126.1h2.38v2.31h-2.38zM504.9 126.1h2.38v2.31h-2.38zM433.0 128.9h2.38v2.31h-2.38zM487.6 128.9h2.38v2.31h-2.38zM490.5 128.9h2.38v2.31h-2.38zM493.4 128.9h2.38v2.31h-2.38zM496.2 128.9h2.38v2.31h-2.38zM487.6 131.7h2.38v2.31h-2.38zM496.2 131.7h2.38v2.31h-2.38zM479.0 134.5h2.38v2.31h-2.38zM487.6 134.5h2.38v2.31h-2.38zM502.0 134.5h2.38v2.31h-2.38zM433.0 137.3h2.38v2.31h-2.38zM473.2 137.3h2.38v2.31h-2.38zM479.0 137.3h2.38v2.31h-2.38zM487.6 137.3h2.38v2.31h-2.38zM493.4 137.3h2.38v2.31h-2.38zM473.2 140.1h2.38v2.31h-2.38zM479.0 140.1h2.38v2.31h-2.38zM496.2 140.1h2.38v2.31h-2.38zM473.2 142.9h2.38v2.31h-2.38zM484.8 142.9h2.38v2.31h-2.38zM499.1 142.9h2.38v2.31h-2.38zM467.5 145.7h2.38v2.31h-2.38zM473.2 145.7h2.38v2.31h-2.38zM479.0 145.7h2.38v2.31h-2.38zM481.9 145.7h2.38v2.31h-2.38zM490.5 145.7h2.38v2.31h-2.38zM499.1 145.7h2.38v2.31h-2.38zM467.5 148.5h2.38v2.31h-2.38zM473.2 148.5h2.38v2.31h-2.38zM484.8 148.5h2.38v2.31h-2.38zM490.5 148.5h2.38v2.31h-2.38zM499.1 148.5h2.38v2.31h-2.38zM502.0 148.5h2.38v2.31h-2.38zM473.2 151.3h2.38v2.31h-2.38zM476.1 151.3h2.38v2.31h-2.38zM499.1 151.3h2.38v2.31h-2.38zM464.6 154.1h2.38v2.31h-2.38zM479.0 154.1h2.38v2.31h-2.38zM490.5 154.1h2.38v2.31h-2.38zM467.5 156.9h2.38v2.31h-2.38zM470.4 156.9h2.38v2.31h-2.38zM473.2 156.9h2.38v2.31h-2.38zM479.0 156.9h2.38v2.31h-2.38zM481.9 156.9h2.38v2.31h-2.38zM484.8 156.9h2.38v2.31h-2.38zM499.1 156.9h2.38v2.31h-2.38zM450.2 159.8h2.38v2.31h-2.38zM456.0 159.8h2.38v2.31h-2.38zM458.9 159.8h2.38v2.31h-2.38zM473.2 159.8h2.38v2.31h-2.38zM484.8 159.8h2.38v2.31h-2.38zM487.6 159.8h2.38v2.31h-2.38zM499.1 159.8h2.38v2.31h-2.38zM490.5 162.6h2.38v2.31h-2.38zM496.2 162.6h2.38v2.31h-2.38zM453.1 165.4h2.38v2.31h-2.38zM470.4 165.4h2.38v2.31h-2.38zM473.2 165.4h2.38v2.31h-2.38zM487.6 165.4h2.38v2.31h-2.38zM490.5 165.4h2.38v2.31h-2.38zM493.4 165.4h2.38v2.31h-2.38zM447.4 168.2h2.38v2.31h-2.38zM458.9 168.2h2.38v2.31h-2.38zM473.2 168.2h2.38v2.31h-2.38zM479.0 168.2h2.38v2.31h-2.38zM487.6 168.2h2.38v2.31h-2.38zM490.5 168.2h2.38v2.31h-2.38zM493.4 168.2h2.38v2.31h-2.38zM499.1 168.2h2.38v2.31h-2.38zM456.0 171.0h2.38v2.31h-2.38zM473.2 171.0h2.38v2.31h-2.38zM479.0 171.0h2.38v2.31h-2.38zM487.6 171.0h2.38v2.31h-2.38zM493.4 171.0h2.38v2.31h-2.38zM450.2 173.8h2.38v2.31h-2.38zM456.0 173.8h2.38v2.31h-2.38zM458.9 173.8h2.38v2.31h-2.38zM473.2 173.8h2.38v2.31h-2.38zM479.0 173.8h2.38v2.31h-2.38zM490.5 173.8h2.38v2.31h-2.38zM493.4 173.8h2.38v2.31h-2.38zM450.2 176.6h2.38v2.31h-2.38zM456.0 176.6h2.38v2.31h-2.38zM458.9 176.6h2.38v2.31h-2.38zM473.2 176.6h2.38v2.31h-2.38zM479.0 176.6h2.38v2.31h-2.38zM487.6 176.6h2.38v2.31h-2.38zM493.4 176.6h2.38v2.31h-2.38zM499.1 176.6h2.38v2.31h-2.38zM464.6 179.4h2.38v2.31h-2.38zM473.2 179.4h2.38v2.31h-2.38zM476.1 179.4h2.38v2.31h-2.38zM481.9 179.4h2.38v2.31h-2.38zM458.9 182.2h2.38v2.31h-2.38zM461.8 182.2h2.38v2.31h-2.38zM473.2 182.2h2.38v2.31h-2.38zM481.9 182.2h2.38v2.31h-2.38zM490.5 182.2h2.38v2.31h-2.38zM502.0 182.2h2.38v2.31h-2.38zM456.0 185.0h2.38v2.31h-2.38zM458.9 185.0h2.38v2.31h-2.38zM473.2 185.0h2.38v2.31h-2.38zM481.9 185.0h2.38v2.31h-2.38zM484.8 185.0h2.38v2.31h-2.38zM490.5 185.0h2.38v2.31h-2.38zM458.9 187.8h2.38v2.31h-2.38zM467.5 187.8h2.38v2.31h-2.38zM479.0 187.8h2.38v2.31h-2.38zM490.5 187.8h2.38v2.31h-2.38zM458.9 190.6h2.38v2.31h-2.38zM467.5 190.6h2.38v2.31h-2.38zM490.5 190.6h2.38v2.31h-2.38zM467.5 193.4h2.38v2.31h-2.38zM476.1 193.4h2.38v2.31h-2.38zM479.0 193.4h2.38v2.31h-2.38zM490.5 193.4h2.38v2.31h-2.38z"/>
<path fill="#f8d3c2" d="M450.2 50.2h2.38v2.31h-2.38zM461.8 50.2h2.38v2.31h-2.38zM467.5 50.2h2.38v2.31h-2.38zM470.4 50.2h2.38v2.31h-2.38zM476.1 50.2h2.38v2.31h-2.38zM496.2 50.2h2.38v2.31h-2.38zM499.1 50.2h2.38v2.31h-2.38zM504.9 50.2h2.38v2.31h-2.38zM450.2 53.1h2.38v2.31h-2.38zM470.4 53.1h2.38v2.31h-2.38zM476.1 53.1h2.38v2.31h-2.38zM479.0 53.1h2.38v2.31h-2.38zM499.1 53.1h2.38v2.31h-2.38zM504.9 53.1h2.38v2.31h-2.38zM450.2 55.9h2.38v2.31h-2.38zM461.8 55.9h2.38v2.31h-2.38zM467.5 55.9h2.38v2.31h-2.38zM470.4 55.9h2.38v2.31h-2.38zM476.1 55.9h2.38v2.31h-2.38zM484.8 55.9h2.38v2.31h-2.38zM496.2 55.9h2.38v2.31h-2.38zM499.1 55.9h2.38v2.31h-2.38zM450.2 58.7h2.38v2.31h-2.38zM461.8 58.7h2.38v2.31h-2.38zM467.5 58.7h2.38v2.31h-2.38zM470.4 58.7h2.38v2.31h-2.38zM450.2 61.5h2.38v2.31h-2.38zM461.8 61.5h2.38v2.31h-2.38zM479.0 61.5h2.38v2.31h-2.38zM481.9 61.5h2.38v2.31h-2.38zM484.8 61.5h2.38v2.31h-2.38zM496.2 61.5h2.38v2.31h-2.38zM499.1 61.5h2.38v2.31h-2.38zM504.9 61.5h2.38v2.31h-2.38zM461.8 64.3h2.38v2.31h-2.38zM476.1 64.3h2.38v2.31h-2.38zM481.9 64.3h2.38v2.31h-2.38zM484.8 64.3h2.38v2.31h-2.38zM493.4 64.3h2.38v2.31h-2.38zM504.9 64.3h2.38v2.31h-2.38zM450.2 67.1h2.38v2.31h-2.38zM461.8 67.1h2.38v2.31h-2.38zM464.6 67.1h2.38v2.31h-2.38zM470.4 67.1h2.38v2.31h-2.38zM496.2 67.1h2.38v2.31h-2.38zM504.9 67.1h2.38v2.31h-2.38zM433.0 69.9h2.38v2.31h-2.38zM450.2 69.9h2.38v2.31h-2.38zM456.0 69.9h2.38v2.31h-2.38zM473.2 69.9h2.38v2.31h-2.38zM487.6 69.9h2.38v2.31h-2.38zM496.2 69.9h2.38v2.31h-2.38zM427.2 72.7h2.38v2.31h-2.38zM435.9 72.7h2.38v2.31h-2.38zM450.2 72.7h2.38v2.31h-2.38zM461.8 72.7h2.38v2.31h-2.38zM467.5 72.7h2.38v2.31h-2.38zM473.2 72.7h2.38v2.31h-2.38zM479.0 72.7h2.38v2.31h-2.38zM481.9 72.7h2.38v2.31h-2.38zM487.6 72.7h2.38v2.31h-2.38zM496.2 72.7h2.38v2.31h-2.38zM502.0 72.7h2.38v2.31h-2.38zM427.2 75.5h2.38v2.31h-2.38zM435.9 75.5h2.38v2.31h-2.38zM450.2 75.5h2.38v2.31h-2.38zM456.0 75.5h2.38v2.31h-2.38zM467.5 75.5h2.38v2.31h-2.38zM473.2 75.5h2.38v2.31h-2.38zM476.1 75.5h2.38v2.31h-2.38zM479.0 75.5h2.38v2.31h-2.38zM484.8 75.5h2.38v2.31h-2.38zM487.6 75.5h2.38v2.31h-2.38zM502.0 75.5h2.38v2.31h-2.38zM435.9 78.3h2.38v2.31h-2.38zM441.6 78.3h2.38v2.31h-2.38zM450.2 78.3h2.38v2.31h-2.38zM456.0 78.3h2.38v2.31h-2.38zM476.1 78.3h2.38v2.31h-2.38zM479.0 78.3h2.38v2.31h-2.38zM481.9 78.3h2.38v2.31h-2.38zM487.6 78.3h2.38v2.31h-2.38zM490.5 78.3h2.38v2.31h-2.38zM496.2 78.3h2.38v2.31h-2.38zM499.1 78.3h2.38v2.31h-2.38zM502.0 78.3h2.38v2.31h-2.38zM427.2 81.1h2.38v2.31h-2.38zM433.0 81.1h2.38v2.31h-2.38zM450.2 81.1h2.38v2.31h-2.38zM456.0 81.1h2.38v2.31h-2.38zM467.5 81.1h2.38v2.31h-2.38zM487.6 81.1h2.38v2.31h-2.38zM502.0 81.1h2.38v2.31h-2.38zM427.2 83.9h2.38v2.31h-2.38zM435.9 83.9h2.38v2.31h-2.38zM450.2 83.9h2.38v2.31h-2.38zM467.5 83.9h2.38v2.31h-2.38zM479.0 83.9h2.38v2.31h-2.38zM484.8 83.9h2.38v2.31h-2.38zM496.2 83.9h2.38v2.31h-2.38zM427.2 86.8h2.38v2.31h-2.38zM481.9 86.8h2.38v2.31h-2.38zM496.2 86.8h2.38v2.31h-2.38zM499.1 86.8h2.38v2.31h-2.38zM502.0 86.8h2.38v2.31h-2.38zM447.4 89.6h2.38v2.31h-2.38zM479.0 89.6h2.38v2.31h-2.38zM481.9 89.6h2.38v2.31h-2.38zM487.6 89.6h2.38v2.31h-2.38zM496.2 89.6h2.38v2.31h-2.38zM502.0 89.6h2.38v2.31h-2.38zM441.6 92.4h2.38v2.31h-2.38zM473.2 92.4h2.38v2.31h-2.38zM479.0 92.4h2.38v2.31h-2.38zM487.6 92.4h2.38v2.31h-2.38zM502.0 92.4h2.38v2.31h-2.38zM427.2 95.2h2.38v2.31h-2.38zM447.4 95.2h2.38v2.31h-2.38zM473.2 95.2h2.38v2.31h-2.38zM476.1 95.2h2.38v2.31h-2.38zM479.0 95.2h2.38v2.31h-2.38zM481.9 95.2h2.38v2.31h-2.38zM427.2 98.0h2.38v2.31h-2.38zM441.6 98.0h2.38v2.31h-2.38zM447.4 98.0h2.38v2.31h-2.38zM450.2 98.0h2.38v2.31h-2.38zM456.0 98.0h2.38v2.31h-2.38zM499.1 98.0h2.38v2.31h-2.38zM427.2 100.8h2.38v2.31h-2.38zM447.4 100.8h2.38v2.31h-2.38zM456.0 100.8h2.38v2.31h-2.38zM467.5 100.8h2.38v2.31h-2.38zM490.5 100.8h2.38v2.31h-2.38zM444.5 103.6h2.38v2.31h-2.38zM456.0 103.6h2.38v2.31h-2.38zM464.6 103.6h2.38v2.31h-2.38zM433.0 106.4h2.38v2.31h-2.38zM444.5 106.4h2.38v2.31h-2.38zM447.4 106.4h2.38v2.31h-2.38zM456.0 106.4h2.38v2.31h-2.38zM430.1 109.2h2.38v2.31h-2.38zM441.6 109.2h2.38v2.31h-2.38zM453.1 109.2h2.38v2.31h-2.38zM456.0 109.2h2.38v2.31h-2.38zM430.1 112.0h2.38v2.31h-2.38zM441.6 112.0h2.38v2.31h-2.38zM453.1 112.0h2.38v2.31h-2.38zM427.2 114.8h2.38v2.31h-2.38zM430.1 114.8h2.38v2.31h-2.38zM433.0 114.8h2.38v2.31h-2.38zM441.6 114.8h2.38v2.31h-2.38zM453.1 114.8h2.38v2.31h-2.38zM456.0 114.8h2.38v2.31h-2.38zM435.9 117.6h2.38v2.31h-2.38zM441.6 117.6h2.38v2.31h-2.38zM444.5 117.6h2.38v2.31h-2.38zM453.1 117.6h2.38v2.31h-2.38zM456.0 117.6h2.38v2.31h-2.38zM464.6 117.6h2.38v2.31h-2.38zM499.1 117.6h2.38v2.31h-2.38zM427.2 120.4h2.38v2.31h-2.38zM430.1 120.4h2.38v2.31h-2.38zM435.9 120.4h2.38v2.31h-2.38zM441.6 120.4h2.38v2.31h-2.38zM453.1 120.4h2.38v2.31h-2.38zM427.2 123.2h2.38v2.31h-2.38zM430.1 123.2h2.38v2.31h-2.38zM435.9 123.2h2.38v2.31h-2.38zM441.6 123.2h2.38v2.31h-2.38zM444.5 123.2h2.38v2.31h-2.38zM447.4 123.2h2.38v2.31h-2.38zM453.1 123.2h2.38v2.31h-2.38zM461.8 123.2h2.38v2.31h-2.38zM476.1 123.2h2.38v2.31h-2.38zM430.1 126.1h2.38v2.31h-2.38zM438.8 126.1h2.38v2.31h-2.38zM441.6 126.1h2.38v2.31h-2.38zM444.5 126.1h2.38v2.31h-2.38zM456.0 126.1h2.38v2.31h-2.38zM458.9 126.1h2.38v2.31h-2.38zM461.8 126.1h2.38v2.31h-2.38zM467.5 126.1h2.38v2.31h-2.38zM484.8 126.1h2.38v2.31h-2.38zM430.1 128.9h2.38v2.31h-2.38zM441.6 128.9h2.38v2.31h-2.38zM447.4 128.9h2.38v2.31h-2.38zM430.1 131.7h2.38v2.31h-2.38zM438.8 131.7h2.38v2.31h-2.38zM441.6 131.7h2.38v2.31h-2.38zM447.4 131.7h2.38v2.31h-2.38zM461.8 131.7h2.38v2.31h-2.38zM430.1 134.5h2.38v2.31h-2.38zM435.9 134.5h2.38v2.31h-2.38zM447.4 134.5h2.38v2.31h-2.38zM458.9 134.5h2.38v2.31h-2.38zM461.8 134.5h2.38v2.31h-2.38zM441.6 137.3h2.38v2.31h-2.38zM447.4 137.3h2.38v2.31h-2.38zM456.0 137.3h2.38v2.31h-2.38zM458.9 137.3h2.38v2.31h-2.38zM499.1 137.3h2.38v2.31h-2.38zM427.2 140.1h2.38v2.31h-2.38zM430.1 140.1h2.38v2.31h-2.38zM441.6 140.1h2.38v2.31h-2.38zM447.4 140.1h2.38v2.31h-2.38zM427.2 142.9h2.38v2.31h-2.38zM435.9 142.9h2.38v2.31h-2.38zM447.4 142.9h2.38v2.31h-2.38zM450.2 142.9h2.38v2.31h-2.38zM453.1 142.9h2.38v2.31h-2.38zM458.9 142.9h2.38v2.31h-2.38zM441.6 145.7h2.38v2.31h-2.38zM444.5 145.7h2.38v2.31h-2.38zM447.4 145.7h2.38v2.31h-2.38zM450.2 145.7h2.38v2.31h-2.38zM458.9 145.7h2.38v2.31h-2.38zM427.2 148.5h2.38v2.31h-2.38zM430.1 148.5h2.38v2.31h-2.38zM450.2 148.5h2.38v2.31h-2.38zM458.9 148.5h2.38v2.31h-2.38zM493.4 148.5h2.38v2.31h-2.38zM504.9 148.5h2.38v2.31h-2.38zM430.1 151.3h2.38v2.31h-2.38zM435.9 151.3h2.38v2.31h-2.38zM458.9 151.3h2.38v2.31h-2.38zM496.2 151.3h2.38v2.31h-2.38zM427.2 154.1h2.38v2.31h-2.38zM430.1 154.1h2.38v2.31h-2.38zM444.5 154.1h2.38v2.31h-2.38zM447.4 154.1h2.38v2.31h-2.38zM450.2 154.1h2.38v2.31h-2.38zM456.0 154.1h2.38v2.31h-2.38zM427.2 156.9h2.38v2.31h-2.38zM430.1 156.9h2.38v2.31h-2.38zM435.9 156.9h2.38v2.31h-2.38zM441.6 156.9h2.38v2.31h-2.38zM444.5 156.9h2.38v2.31h-2.38zM450.2 156.9h2.38v2.31h-2.38zM458.9 156.9h2.38v2.31h-2.38zM438.8 159.8h2.38v2.31h-2.38zM504.9 159.8h2.38v2.31h-2.38zM433.0 162.6h2.38v2.31h-2.38zM444.5 162.6h2.38v2.31h-2.38zM464.6 162.6h2.38v2.31h-2.38zM481.9 162.6h2.38v2.31h-2.38zM427.2 165.4h2.38v2.31h-2.38zM438.8 165.4h2.38v2.31h-2.38zM441.6 165.4h2.38v2.31h-2.38zM444.5 165.4h2.38v2.31h-2.38zM438.8 168.2h2.38v2.31h-2.38zM444.5 168.2h2.38v2.31h-2.38zM427.2 171.0h2.38v2.31h-2.38zM433.0 171.0h2.38v2.31h-2.38zM435.9 171.0h2.38v2.31h-2.38zM438.8 171.0h2.38v2.31h-2.38zM444.5 171.0h2.38v2.31h-2.38zM481.9 171.0h2.38v2.31h-2.38zM438.8 173.8h2.38v2.31h-2.38zM444.5 173.8h2.38v2.31h-2.38zM464.6 173.8h2.38v2.31h-2.38zM481.9 173.8h2.38v2.31h-2.38zM433.0 176.6h2.38v2.31h-2.38zM438.8 176.6h2.38v2.31h-2.38zM444.5 176.6h2.38v2.31h-2.38zM481.9 176.6h2.38v2.31h-2.38zM447.4 179.4h2.38v2.31h-2.38zM430.1 182.2h2.38v2.31h-2.38zM447.4 182.2h2.38v2.31h-2.38zM453.1 182.2h2.38v2.31h-2.38zM427.2 185.0h2.38v2.31h-2.38zM430.1 185.0h2.38v2.31h-2.38zM435.9 185.0h2.38v2.31h-2.38zM447.4 185.0h2.38v2.31h-2.38zM430.1 187.8h2.38v2.31h-2.38zM433.0 187.8h2.38v2.31h-2.38zM447.4 187.8h2.38v2.31h-2.38zM430.1 190.6h2.38v2.31h-2.38zM447.4 190.6h2.38v2.31h-2.38zM430.1 193.4h2.38v2.31h-2.38zM435.9 193.4h2.38v2.31h-2.38zM453.1 193.4h2.38v2.31h-2.38z"/>
<path fill="#f0a98c" d="M464.6 50.2h2.38v2.31h-2.38zM481.9 50.2h2.38v2.31h-2.38zM484.8 50.2h2.38v2.31h-2.38zM502.0 50.2h2.38v2.31h-2.38zM461.8 53.1h2.38v2.31h-2.38zM464.6 53.1h2.38v2.31h-2.38zM467.5 53.1h2.38v2.31h-2.38zM481.9 53.1h2.38v2.31h-2.38zM496.2 53.1h2.38v2.31h-2.38zM502.0 53.1h2.38v2.31h-2.38zM464.6 55.9h2.38v2.31h-2.38zM479.0 55.9h2.38v2.31h-2.38zM481.9 55.9h2.38v2.31h-2.38zM502.0 55.9h2.38v2.31h-2.38zM504.9 55.9h2.38v2.31h-2.38zM464.6 58.7h2.38v2.31h-2.38zM476.1 58.7h2.38v2.31h-2.38zM479.0 58.7h2.38v2.31h-2.38zM481.9 58.7h2.38v2.31h-2.38zM484.8 58.7h2.38v2.31h-2.38zM502.0 58.7h2.38v2.31h-2.38zM464.6 61.5h2.38v2.31h-2.38zM467.5 61.5h2.38v2.31h-2.38zM476.1 61.5h2.38v2.31h-2.38zM502.0 61.5h2.38v2.31h-2.38zM464.6 64.3h2.38v2.31h-2.38zM470.4 64.3h2.38v2.31h-2.38zM479.0 64.3h2.38v2.31h-2.38zM499.1 64.3h2.38v2.31h-2.38zM467.5 67.1h2.38v2.31h-2.38zM476.1 67.1h2.38v2.31h-2.38zM499.1 67.1h2.38v2.31h-2.38zM502.0 67.1h2.38v2.31h-2.38zM441.6 69.9h2.38v2.31h-2.38zM470.4 69.9h2.38v2.31h-2.38zM476.1 69.9h2.38v2.31h-2.38zM479.0 69.9h2.38v2.31h-2.38zM481.9 69.9h2.38v2.31h-2.38zM484.8 69.9h2.38v2.31h-2.38zM490.5 69.9h2.38v2.31h-2.38zM499.1 69.9h2.38v2.31h-2.38zM502.0 69.9h2.38v2.31h-2.38zM476.1 72.7h2.38v2.31h-2.38zM484.8 72.7h2.38v2.31h-2.38zM499.1 72.7h2.38v2.31h-2.38zM470.4 75.5h2.38v2.31h-2.38zM481.9 75.5h2.38v2.31h-2.38zM490.5 75.5h2.38v2.31h-2.38zM496.2 75.5h2.38v2.31h-2.38zM499.1 75.5h2.38v2.31h-2.38zM470.4 78.3h2.38v2.31h-2.38zM435.9 81.1h2.38v2.31h-2.38zM476.1 81.1h2.38v2.31h-2.38zM479.0 81.1h2.38v2.31h-2.38zM481.9 81.1h2.38v2.31h-2.38zM484.8 81.1h2.38v2.31h-2.38zM499.1 81.1h2.38v2.31h-2.38zM441.6 83.9h2.38v2.31h-2.38zM490.5 83.9h2.38v2.31h-2.38zM499.1 83.9h2.38v2.31h-2.38zM470.4 86.8h2.38v2.31h-2.38zM473.2 86.8h2.38v2.31h-2.38zM479.0 86.8h2.38v2.31h-2.38zM487.6 86.8h2.38v2.31h-2.38zM473.2 89.6h2.38v2.31h-2.38zM499.1 89.6h2.38v2.31h-2.38zM447.4 92.4h2.38v2.31h-2.38zM470.4 92.4h2.38v2.31h-2.38zM481.9 92.4h2.38v2.31h-2.38zM496.2 92.4h2.38v2.31h-2.38zM499.1 92.4h2.38v2.31h-2.38zM487.6 95.2h2.38v2.31h-2.38zM496.2 95.2h2.38v2.31h-2.38zM499.1 95.2h2.38v2.31h-2.38zM502.0 95.2h2.38v2.31h-2.38zM430.1 98.0h2.38v2.31h-2.38zM433.0 98.0h2.38v2.31h-2.38zM438.8 98.0h2.38v2.31h-2.38zM444.5 98.0h2.38v2.31h-2.38zM453.1 98.0h2.38v2.31h-2.38zM458.9 98.0h2.38v2.31h-2.38zM430.1 100.8h2.38v2.31h-2.38zM438.8 100.8h2.38v2.31h-2.38zM441.6 100.8h2.38v2.31h-2.38zM444.5 100.8h2.38v2.31h-2.38zM458.9 100.8h2.38v2.31h-2.38zM499.1 100.8h2.38v2.31h-2.38zM427.2 103.6h2.38v2.31h-2.38zM430.1 103.6h2.38v2.31h-2.38zM433.0 103.6h2.38v2.31h-2.38zM438.8 103.6h2.38v2.31h-2.38zM441.6 103.6h2.38v2.31h-2.38zM447.4 103.6h2.38v2.31h-2.38zM453.1 103.6h2.38v2.31h-2.38zM458.9 103.6h2.38v2.31h-2.38zM499.1 103.6h2.38v2.31h-2.38zM430.1 106.4h2.38v2.31h-2.38zM438.8 106.4h2.38v2.31h-2.38zM450.2 106.4h2.38v2.31h-2.38zM453.1 106.4h2.38v2.31h-2.38zM458.9 106.4h2.38v2.31h-2.38zM499.1 106.4h2.38v2.31h-2.38zM427.2 109.2h2.38v2.31h-2.38zM433.0 109.2h2.38v2.31h-2.38zM435.9 109.2h2.38v2.31h-2.38zM444.5 109.2h2.38v2.31h-2.38zM450.2 109.2h2.38v2.31h-2.38zM427.2 112.0h2.38v2.31h-2.38zM435.9 112.0h2.38v2.31h-2.38zM444.5 112.0h2.38v2.31h-2.38zM450.2 112.0h2.38v2.31h-2.38zM456.0 112.0h2.38v2.31h-2.38zM435.9 114.8h2.38v2.31h-2.38zM444.5 114.8h2.38v2.31h-2.38zM427.2 117.6h2.38v2.31h-2.38zM433.0 117.6h2.38v2.31h-2.38zM450.2 117.6h2.38v2.31h-2.38zM433.0 120.4h2.38v2.31h-2.38zM450.2 120.4h2.38v2.31h-2.38zM456.0 120.4h2.38v2.31h-2.38zM438.8 123.2h2.38v2.31h-2.38zM450.2 123.2h2.38v2.31h-2.38zM456.0 123.2h2.38v2.31h-2.38zM435.9 126.1h2.38v2.31h-2.38zM447.4 126.1h2.38v2.31h-2.38zM450.2 126.1h2.38v2.31h-2.38zM453.1 126.1h2.38v2.31h-2.38zM427.2 128.9h2.38v2.31h-2.38zM435.9 128.9h2.38v2.31h-2.38zM438.8 128.9h2.38v2.31h-2.38zM444.5 128.9h2.38v2.31h-2.38zM450.2 128.9h2.38v2.31h-2.38zM453.1 128.9h2.38v2.31h-2.38zM456.0 128.9h2.38v2.31h-2.38zM461.8 128.9h2.38v2.31h-2.38zM427.2 131.7h2.38v2.31h-2.38zM435.9 131.7h2.38v2.31h-2.38zM444.5 131.7h2.38v2.31h-2.38zM450.2 131.7h2.38v2.31h-2.38zM453.1 131.7h2.38v2.31h-2.38zM456.0 131.7h2.38v2.31h-2.38zM427.2 134.5h2.38v2.31h-2.38zM438.8 134.5h2.38v2.31h-2.38zM441.6 134.5h2.38v2.31h-2.38zM444.5 134.5h2.38v2.31h-2.38zM450.2 134.5h2.38v2.31h-2.38zM453.1 134.5h2.38v2.31h-2.38zM456.0 134.5h2.38v2.31h-2.38zM427.2 137.3h2.38v2.31h-2.38zM435.9 137.3h2.38v2.31h-2.38zM438.8 137.3h2.38v2.31h-2.38zM444.5 137.3h2.38v2.31h-2.38zM450.2 137.3h2.38v2.31h-2.38zM435.9 140.1h2.38v2.31h-2.38zM450.2 140.1h2.38v2.31h-2.38zM453.1 140.1h2.38v2.31h-2.38zM458.9 140.1h2.38v2.31h-2.38zM430.1 142.9h2.38v2.31h-2.38zM441.6 142.9h2.38v2.31h-2.38zM444.5 142.9h2.38v2.31h-2.38zM456.0 142.9h2.38v2.31h-2.38zM461.8 142.9h2.38v2.31h-2.38zM427.2 145.7h2.38v2.31h-2.38zM430.1 145.7h2.38v2.31h-2.38zM435.9 145.7h2.38v2.31h-2.38zM438.8 145.7h2.38v2.31h-2.38zM453.1 145.7h2.38v2.31h-2.38zM456.0 145.7h2.38v2.31h-2.38zM461.8 145.7h2.38v2.31h-2.38zM435.9 148.5h2.38v2.31h-2.38zM441.6 148.5h2.38v2.31h-2.38zM444.5 148.5h2.38v2.31h-2.38zM447.4 148.5h2.38v2.31h-2.38zM453.1 148.5h2.38v2.31h-2.38zM456.0 148.5h2.38v2.31h-2.38zM427.2 151.3h2.38v2.31h-2.38zM441.6 151.3h2.38v2.31h-2.38zM444.5 151.3h2.38v2.31h-2.38zM447.4 151.3h2.38v2.31h-2.38zM450.2 151.3h2.38v2.31h-2.38zM453.1 151.3h2.38v2.31h-2.38zM461.8 151.3h2.38v2.31h-2.38zM435.9 154.1h2.38v2.31h-2.38zM438.8 154.1h2.38v2.31h-2.38zM461.8 154.1h2.38v2.31h-2.38zM453.1 156.9h2.38v2.31h-2.38zM456.0 156.9h2.38v2.31h-2.38zM461.8 156.9h2.38v2.31h-2.38zM427.2 159.8h2.38v2.31h-2.38zM433.0 159.8h2.38v2.31h-2.38zM435.9 159.8h2.38v2.31h-2.38zM441.6 159.8h2.38v2.31h-2.38zM464.6 159.8h2.38v2.31h-2.38zM481.9 159.8h2.38v2.31h-2.38zM427.2 162.6h2.38v2.31h-2.38zM435.9 162.6h2.38v2.31h-2.38zM438.8 162.6h2.38v2.31h-2.38zM441.6 162.6h2.38v2.31h-2.38zM433.0 165.4h2.38v2.31h-2.38zM481.9 165.4h2.38v2.31h-2.38zM427.2 168.2h2.38v2.31h-2.38zM433.0 168.2h2.38v2.31h-2.38zM435.9 168.2h2.38v2.31h-2.38zM441.6 168.2h2.38v2.31h-2.38zM464.6 168.2h2.38v2.31h-2.38zM481.9 168.2h2.38v2.31h-2.38zM441.6 171.0h2.38v2.31h-2.38zM427.2 173.8h2.38v2.31h-2.38zM433.0 173.8h2.38v2.31h-2.38zM435.9 173.8h2.38v2.31h-2.38zM441.6 173.8h2.38v2.31h-2.38zM427.2 176.6h2.38v2.31h-2.38zM435.9 176.6h2.38v2.31h-2.38zM441.6 176.6h2.38v2.31h-2.38zM464.6 176.6h2.38v2.31h-2.38zM427.2 179.4h2.38v2.31h-2.38zM430.1 179.4h2.38v2.31h-2.38zM433.0 179.4h2.38v2.31h-2.38zM435.9 179.4h2.38v2.31h-2.38zM453.1 179.4h2.38v2.31h-2.38zM427.2 182.2h2.38v2.31h-2.38zM433.0 182.2h2.38v2.31h-2.38zM435.9 182.2h2.38v2.31h-2.38zM433.0 185.0h2.38v2.31h-2.38zM453.1 185.0h2.38v2.31h-2.38zM427.2 187.8h2.38v2.31h-2.38zM435.9 187.8h2.38v2.31h-2.38zM438.8 187.8h2.38v2.31h-2.38zM453.1 187.8h2.38v2.31h-2.38zM427.2 190.6h2.38v2.31h-2.38zM433.0 190.6h2.38v2.31h-2.38zM435.9 190.6h2.38v2.31h-2.38zM438.8 190.6h2.38v2.31h-2.38zM453.1 190.6h2.38v2.31h-2.38zM427.2 193.4h2.38v2.31h-2.38zM433.0 193.4h2.38v2.31h-2.38z"/>
<path fill="#2f70b4" d="M427.2 53.1h2.38v2.31h-2.38zM444.5 83.9h2.38v2.31h-2.38zM496.2 103.6h2.38v2.31h-2.38zM473.2 123.2h2.38v2.31h-2.38zM504.9 128.9h2.38v2.31h-2.38zM473.2 134.5h2.38v2.31h-2.38zM493.4 140.1h2.38v2.31h-2.38z"/>
<path fill="#dc6e5a" d="M484.8 53.1h2.38v2.31h-2.38zM496.2 58.7h2.38v2.31h-2.38zM504.9 58.7h2.38v2.31h-2.38zM467.5 64.3h2.38v2.31h-2.38zM496.2 64.3h2.38v2.31h-2.38zM502.0 64.3h2.38v2.31h-2.38zM484.8 67.1h2.38v2.31h-2.38zM427.2 69.9h2.38v2.31h-2.38zM470.4 72.7h2.38v2.31h-2.38zM490.5 72.7h2.38v2.31h-2.38zM427.2 78.3h2.38v2.31h-2.38zM484.8 78.3h2.38v2.31h-2.38zM470.4 81.1h2.38v2.31h-2.38zM476.1 83.9h2.38v2.31h-2.38zM481.9 83.9h2.38v2.31h-2.38zM470.4 89.6h2.38v2.31h-2.38zM467.5 95.2h2.38v2.31h-2.38zM470.4 95.2h2.38v2.31h-2.38zM453.1 100.8h2.38v2.31h-2.38zM450.2 103.6h2.38v2.31h-2.38zM433.0 112.0h2.38v2.31h-2.38zM450.2 114.8h2.38v2.31h-2.38zM444.5 120.4h2.38v2.31h-2.38zM427.2 126.1h2.38v2.31h-2.38zM453.1 137.3h2.38v2.31h-2.38zM438.8 140.1h2.38v2.31h-2.38zM456.0 140.1h2.38v2.31h-2.38zM438.8 148.5h2.38v2.31h-2.38zM461.8 148.5h2.38v2.31h-2.38zM453.1 154.1h2.38v2.31h-2.38zM438.8 156.9h2.38v2.31h-2.38zM447.4 156.9h2.38v2.31h-2.38zM430.1 159.8h2.38v2.31h-2.38zM430.1 162.6h2.38v2.31h-2.38zM430.1 165.4h2.38v2.31h-2.38zM435.9 165.4h2.38v2.31h-2.38zM430.1 168.2h2.38v2.31h-2.38zM430.1 171.0h2.38v2.31h-2.38zM430.1 173.8h2.38v2.31h-2.38zM430.1 176.6h2.38v2.31h-2.38zM438.8 179.4h2.38v2.31h-2.38zM441.6 179.4h2.38v2.31h-2.38zM444.5 179.4h2.38v2.31h-2.38zM438.8 182.2h2.38v2.31h-2.38zM441.6 185.0h2.38v2.31h-2.38zM438.8 193.4h2.38v2.31h-2.38zM444.5 193.4h2.38v2.31h-2.38z"/>
<path fill="#b2242c" d="M481.9 67.1h2.38v2.31h-2.38zM490.5 81.1h2.38v2.31h-2.38zM470.4 83.9h2.38v2.31h-2.38zM467.5 86.8h2.38v2.31h-2.38zM467.5 89.6h2.38v2.31h-2.38zM467.5 92.4h2.38v2.31h-2.38zM450.2 100.8h2.38v2.31h-2.38zM427.2 106.4h2.38v2.31h-2.38zM438.8 142.9h2.38v2.31h-2.38zM438.8 151.3h2.38v2.31h-2.38zM441.6 182.2h2.38v2.31h-2.38zM444.5 182.2h2.38v2.31h-2.38zM438.8 185.0h2.38v2.31h-2.38zM444.5 185.0h2.38v2.31h-2.38zM441.6 187.8h2.38v2.31h-2.38zM444.5 187.8h2.38v2.31h-2.38zM441.6 190.6h2.38v2.31h-2.38zM444.5 190.6h2.38v2.31h-2.38zM441.6 193.4h2.38v2.31h-2.38z"/>
</g>
<rect x="427.5" y="46.5" width="39.75" height="3.1" fill="#6f95d2"/>
<rect x="467.25" y="46.5" width="39.75" height="3.1" fill="#f6c391"/>
<rect x="135.6" y="49.9" width="80.30000000000001" height="41.300000000000004" fill="none" stroke="#1e1e1e" stroke-width="0.9"/>
<rect x="231.6" y="152.2" width="80.00000000000003" height="30.100000000000023" fill="none" stroke="#1e1e1e" stroke-width="0.9"/>
<rect x="369.4" y="49.5" width="41.60000000000002" height="28.599999999999994" fill="none" stroke="#1e1e1e" stroke-width="0.9"/>
<rect x="328.5" y="78.1" width="40.89999999999998" height="117.9" fill="none" stroke="#1e1e1e" stroke-width="0.9"/>
<rect x="467.7" y="50.5" width="39.69999999999999" height="46.900000000000006" fill="none" stroke="#1e1e1e" stroke-width="0.9"/>
<rect x="427.3" y="97.4" width="40.39999999999998" height="98.6" fill="none" stroke="#1e1e1e" stroke-width="0.9"/>
<text x="213.9" y="29.2" font-size="8.4" fill="#231f20" stroke="#231f20" stroke-width="0.12"  textLength="25.1" lengthAdjust="spacingAndGlyphs">Muscle</text>
<line x1="156.2" y1="33.8" x2="296.5" y2="33.8" stroke="#7a7a7a" stroke-width="1.4"/>
<text x="161.2" y="41.6" font-size="6.3" fill="#f2b47c" stroke="#f2b47c" stroke-width="0.12" font-style="italic"  textLength="21" lengthAdjust="spacingAndGlyphs">Gastroc</text>
<text x="257.4" y="41.7" font-size="6.8" fill="#5068aa" stroke="#5068aa" stroke-width="0.12" font-style="italic"  textLength="18.5" lengthAdjust="spacingAndGlyphs">Soleus</text>
<text x="402.8" y="29.3" font-size="8.5" fill="#231f20" stroke="#231f20" stroke-width="0.12"  textLength="19.1" lengthAdjust="spacingAndGlyphs">Heart</text>
<line x1="341.7" y1="33.7" x2="482.6" y2="33.7" stroke="#7a7a7a" stroke-width="1.4"/>
<text x="362.7" y="41.7" font-size="7" fill="#5aa05e" stroke="#5aa05e" stroke-width="0.12" font-style="italic"  textLength="6.2" lengthAdjust="spacingAndGlyphs">LV</text>
<text x="458.9" y="41.7" font-size="7" fill="#b0449a" stroke="#b0449a" stroke-width="0.12" font-style="italic"  textLength="8" lengthAdjust="spacingAndGlyphs">RV</text>
<defs><linearGradient id="rb" x1="0" x2="1" y1="0" y2="0"><stop offset="0" stop-color="#2166ac"/><stop offset="0.25" stop-color="#92c5de"/><stop offset="0.5" stop-color="#f7f7f7"/><stop offset="0.75" stop-color="#f4a582"/><stop offset="1" stop-color="#b2182b"/></linearGradient></defs>
<rect x="158.8" y="198" width="38.5" height="2.3" fill="url(#rb)"/>
<text x="158.0" y="201.2" font-size="5" fill="#231f20" stroke="#231f20" stroke-width="0.12" text-anchor="end" >−2</text>
<text x="198.10000000000002" y="201.2" font-size="5" fill="#231f20" stroke="#231f20" stroke-width="0.12" >2</text>
<rect x="253.8" y="198" width="38.5" height="2.3" fill="url(#rb)"/>
<text x="253.0" y="201.2" font-size="5" fill="#231f20" stroke="#231f20" stroke-width="0.12" text-anchor="end" >−4</text>
<text x="293.1" y="201.2" font-size="5" fill="#231f20" stroke="#231f20" stroke-width="0.12" >4</text>
<rect x="352.7" y="198" width="38.30000000000001" height="2.3" fill="url(#rb)"/>
<text x="351.9" y="201.2" font-size="5" fill="#231f20" stroke="#231f20" stroke-width="0.12" text-anchor="end" >−3</text>
<text x="391.8" y="201.2" font-size="5" fill="#231f20" stroke="#231f20" stroke-width="0.12" >3</text>
<rect x="458" y="198" width="39" height="2.3" fill="url(#rb)"/>
<text x="457.2" y="201.2" font-size="5" fill="#231f20" stroke="#231f20" stroke-width="0.12" text-anchor="end" >−2</text>
<text x="497.8" y="201.2" font-size="5" fill="#231f20" stroke="#231f20" stroke-width="0.12" >2</text>
<line x1="126.3" y1="65" x2="126.3" y2="102.7" stroke="#b4b4b4" stroke-width="0.6"/>
<line x1="126.3" y1="65" x2="135.3" y2="65" stroke="#b4b4b4" stroke-width="0.6"/>
<line x1="126.3" y1="102.7" x2="129.4" y2="102.7" stroke="#b4b4b4" stroke-width="0.6"/>
<line x1="130" y1="85.5" x2="130" y2="98.4" stroke="#b4b4b4" stroke-width="0.6"/>
<line x1="130" y1="85.5" x2="135.3" y2="85.5" stroke="#b4b4b4" stroke-width="0.6"/>
<line x1="130" y1="90.8" x2="135.3" y2="90.8" stroke="#b4b4b4" stroke-width="0.6"/>
<line x1="130" y1="98.4" x2="135.3" y2="98.4" stroke="#b4b4b4" stroke-width="0.6"/>
<line x1="129.4" y1="102.7" x2="129.4" y2="146.8" stroke="#b4b4b4" stroke-width="0.6"/>
<line x1="129.4" y1="146.8" x2="132.8" y2="146.8" stroke="#b4b4b4" stroke-width="0.6"/>
<line x1="132.8" y1="118" x2="132.8" y2="194" stroke="#b4b4b4" stroke-width="0.6"/>
<line x1="129.4" y1="110" x2="135.3" y2="110" stroke="#b4b4b4" stroke-width="0.6"/>
<line x1="129.4" y1="125" x2="135.3" y2="125" stroke="#b4b4b4" stroke-width="0.6"/>
<line x1="129.4" y1="137" x2="135.3" y2="137" stroke="#b4b4b4" stroke-width="0.6"/>
<line x1="132.8" y1="118" x2="135.3" y2="118" stroke="#b4b4b4" stroke-width="0.6"/>
<line x1="132.8" y1="160" x2="135.3" y2="160" stroke="#b4b4b4" stroke-width="0.6"/>
<line x1="132.8" y1="172" x2="135.3" y2="172" stroke="#b4b4b4" stroke-width="0.6"/>
<line x1="132.8" y1="184" x2="135.3" y2="184" stroke="#b4b4b4" stroke-width="0.6"/>
<line x1="132.8" y1="194" x2="135.3" y2="194" stroke="#b4b4b4" stroke-width="0.6"/>
<line x1="132.5" y1="52" x2="132.5" y2="80" stroke="#b4b4b4" stroke-width="0.6"/>
<line x1="132.5" y1="52" x2="135.3" y2="52" stroke="#b4b4b4" stroke-width="0.6"/>
<line x1="132.5" y1="80" x2="135.3" y2="80" stroke="#b4b4b4" stroke-width="0.6"/>
<line x1="132.5" y1="66" x2="135.3" y2="66" stroke="#b4b4b4" stroke-width="0.6"/>
<line x1="222" y1="73" x2="222" y2="149.7" stroke="#b4b4b4" stroke-width="0.6"/>
<line x1="222" y1="73" x2="229" y2="73" stroke="#b4b4b4" stroke-width="0.6"/>
<line x1="222" y1="149.7" x2="229" y2="149.7" stroke="#b4b4b4" stroke-width="0.6"/>
<line x1="229" y1="52" x2="229" y2="196" stroke="#b4b4b4" stroke-width="0.6"/>
<line x1="320.7" y1="61.5" x2="320.7" y2="125.7" stroke="#b4b4b4" stroke-width="0.6"/>
<line x1="320.7" y1="61.5" x2="327.5" y2="61.5" stroke="#b4b4b4" stroke-width="0.6"/>
<line x1="320.7" y1="125.7" x2="327.5" y2="125.7" stroke="#b4b4b4" stroke-width="0.6"/>
<line x1="417.2" y1="67.2" x2="417.2" y2="137.4" stroke="#b4b4b4" stroke-width="0.6"/>
<line x1="417.2" y1="67.2" x2="424.3" y2="67.2" stroke="#b4b4b4" stroke-width="0.6"/>
<line x1="417.2" y1="137.4" x2="424.3" y2="137.4" stroke="#b4b4b4" stroke-width="0.6"/>
<line x1="423.8" y1="116" x2="423.8" y2="133" stroke="#b4b4b4" stroke-width="0.6"/>
<line x1="229" y1="54" x2="231.2" y2="54" stroke="#b4b4b4" stroke-width="0.6"/>
<line x1="229" y1="59" x2="231.2" y2="59" stroke="#b4b4b4" stroke-width="0.6"/>
<line x1="229" y1="64" x2="231.2" y2="64" stroke="#b4b4b4" stroke-width="0.6"/>
<line x1="229" y1="69" x2="231.2" y2="69" stroke="#b4b4b4" stroke-width="0.6"/>
<line x1="229" y1="74" x2="231.2" y2="74" stroke="#b4b4b4" stroke-width="0.6"/>
<line x1="229" y1="79" x2="231.2" y2="79" stroke="#b4b4b4" stroke-width="0.6"/>
<line x1="229" y1="84" x2="231.2" y2="84" stroke="#b4b4b4" stroke-width="0.6"/>
<line x1="229" y1="89" x2="231.2" y2="89" stroke="#b4b4b4" stroke-width="0.6"/>
<line x1="229" y1="94" x2="231.2" y2="94" stroke="#b4b4b4" stroke-width="0.6"/>
<line x1="229" y1="99" x2="231.2" y2="99" stroke="#b4b4b4" stroke-width="0.6"/>
<line x1="229" y1="104" x2="231.2" y2="104" stroke="#b4b4b4" stroke-width="0.6"/>
<line x1="229" y1="109" x2="231.2" y2="109" stroke="#b4b4b4" stroke-width="0.6"/>
<line x1="229" y1="114" x2="231.2" y2="114" stroke="#b4b4b4" stroke-width="0.6"/>
<line x1="229" y1="119" x2="231.2" y2="119" stroke="#b4b4b4" stroke-width="0.6"/>
<line x1="229" y1="124" x2="231.2" y2="124" stroke="#b4b4b4" stroke-width="0.6"/>
<line x1="229" y1="129" x2="231.2" y2="129" stroke="#b4b4b4" stroke-width="0.6"/>
<line x1="229" y1="134" x2="231.2" y2="134" stroke="#b4b4b4" stroke-width="0.6"/>
<line x1="229" y1="139" x2="231.2" y2="139" stroke="#b4b4b4" stroke-width="0.6"/>
<line x1="229" y1="144" x2="231.2" y2="144" stroke="#b4b4b4" stroke-width="0.6"/>
<line x1="229" y1="149" x2="231.2" y2="149" stroke="#b4b4b4" stroke-width="0.6"/>
<line x1="229" y1="154" x2="231.2" y2="154" stroke="#b4b4b4" stroke-width="0.6"/>
<line x1="229" y1="159" x2="231.2" y2="159" stroke="#b4b4b4" stroke-width="0.6"/>
<line x1="229" y1="164" x2="231.2" y2="164" stroke="#b4b4b4" stroke-width="0.6"/>
<line x1="229" y1="169" x2="231.2" y2="169" stroke="#b4b4b4" stroke-width="0.6"/>
<line x1="229" y1="174" x2="231.2" y2="174" stroke="#b4b4b4" stroke-width="0.6"/>
<line x1="229" y1="179" x2="231.2" y2="179" stroke="#b4b4b4" stroke-width="0.6"/>
<line x1="229" y1="184" x2="231.2" y2="184" stroke="#b4b4b4" stroke-width="0.6"/>
<line x1="229" y1="189" x2="231.2" y2="189" stroke="#b4b4b4" stroke-width="0.6"/>
<line x1="229" y1="194" x2="231.2" y2="194" stroke="#b4b4b4" stroke-width="0.6"/>
<line x1="160.6" y1="240" x2="160.6" y2="311.2" stroke="#231f20" stroke-width="0.9"/>
<line x1="160.2" y1="310.8" x2="260" y2="310.8" stroke="#231f20" stroke-width="0.9"/>
<line x1="158.4" y1="242.6" x2="160.6" y2="242.6" stroke="#231f20" stroke-width="0.6"/>
<text x="154.4" y="244.45" font-size="5.2" fill="#231f20" stroke="#231f20" stroke-width="0.12" text-anchor="end"  textLength="12.3" lengthAdjust="spacingAndGlyphs">0.00</text>
<line x1="158.4" y1="260" x2="160.6" y2="260" stroke="#231f20" stroke-width="0.6"/>
<text x="154.4" y="261.85" font-size="5.2" fill="#231f20" stroke="#231f20" stroke-width="0.12" text-anchor="end"  textLength="15.3" lengthAdjust="spacingAndGlyphs">−0.02</text>
<line x1="158.4" y1="277" x2="160.6" y2="277" stroke="#231f20" stroke-width="0.6"/>
<text x="154.4" y="278.85" font-size="5.2" fill="#231f20" stroke="#231f20" stroke-width="0.12" text-anchor="end"  textLength="15.3" lengthAdjust="spacingAndGlyphs">−0.04</text>
<line x1="158.4" y1="294.1" x2="160.6" y2="294.1" stroke="#231f20" stroke-width="0.6"/>
<text x="154.4" y="295.95000000000005" font-size="5.2" fill="#231f20" stroke="#231f20" stroke-width="0.12" text-anchor="end"  textLength="15.3" lengthAdjust="spacingAndGlyphs">−0.06</text>
<line x1="169.4" y1="310.8" x2="169.4" y2="313" stroke="#231f20" stroke-width="0.6"/>
<text transform="translate(172.1,319.6) rotate(-45)" font-size="5.8" fill="#231f20" stroke="#231f20" stroke-width="0.12" text-anchor="end">ADP</text>
<line x1="183.2" y1="310.8" x2="183.2" y2="313" stroke="#231f20" stroke-width="0.6"/>
<text transform="translate(185.89999999999998,319.6) rotate(-45)" font-size="5.8" fill="#231f20" stroke="#231f20" stroke-width="0.12" text-anchor="end">ATP</text>
<line x1="197.2" y1="310.8" x2="197.2" y2="313" stroke="#231f20" stroke-width="0.6"/>
<text transform="translate(199.89999999999998,319.6) rotate(-45)" font-size="5.8" fill="#231f20" stroke="#231f20" stroke-width="0.12" text-anchor="end">GDP</text>
<line x1="211.1" y1="310.8" x2="211.1" y2="313" stroke="#231f20" stroke-width="0.6"/>
<text transform="translate(213.79999999999998,319.6) rotate(-45)" font-size="5.8" fill="#231f20" stroke="#231f20" stroke-width="0.12" text-anchor="end">L-aspartate</text>
<line x1="225.2" y1="310.8" x2="225.2" y2="313" stroke="#231f20" stroke-width="0.6"/>
<text transform="translate(227.89999999999998,319.6) rotate(-45)" font-size="5.8" fill="#231f20" stroke="#231f20" stroke-width="0.12" text-anchor="end">Putrescine</text>
<line x1="239.3" y1="310.8" x2="239.3" y2="313" stroke="#231f20" stroke-width="0.6"/>
<text transform="translate(242.0,319.6) rotate(-45)" font-size="5.8" fill="#231f20" stroke="#231f20" stroke-width="0.12" text-anchor="end">Spermidine</text>
<line x1="253.4" y1="310.8" x2="253.4" y2="313" stroke="#231f20" stroke-width="0.6"/>
<text transform="translate(256.1,319.6) rotate(-45)" font-size="5.8" fill="#231f20" stroke="#231f20" stroke-width="0.12" text-anchor="end">Spermine</text>
<text x="202" y="234.7" font-size="8.6" fill="#231f20" stroke="#231f20" stroke-width="0.12"  textLength="19.2" lengthAdjust="spacingAndGlyphs">Heart</text>
<text transform="translate(133.8,275.2) rotate(-90)" font-size="7" fill="#231f20" stroke="#231f20" stroke-width="0.12" text-anchor="middle" textLength="51.7" lengthAdjust="spacingAndGlyphs">Auto scaled intensity</text>
<line x1="167.0" y1="273" x2="167.0" y2="304" stroke="#6d6d70" stroke-width="0.75"/>
<rect x="165.4" y="279.8" width="3.1999999999999886" height="19.69999999999999" fill="#33a4dc"/>
<line x1="165.4" y1="289.8" x2="168.6" y2="289.8" stroke="#1a4f7a" stroke-width="0.6" opacity="0.8"/>
<line x1="170.8" y1="281" x2="170.8" y2="304.5" stroke="#6d6d70" stroke-width="0.75"/>
<rect x="169.1" y="289.5" width="3.4000000000000057" height="13.300000000000011" fill="#f1951f"/>
<line x1="169.1" y1="298.6" x2="172.5" y2="298.6" stroke="#8a4d0a" stroke-width="0.6" opacity="0.8"/>
<text x="169" y="265.56" font-size="4.6" fill="#222" stroke="#222" stroke-width="0.12" text-anchor="middle" >*</text>
<line x1="167.5" y1="266.4" x2="170.5" y2="266.4" stroke="#444" stroke-width="0.6"/>
<line x1="181.15" y1="298.5" x2="181.15" y2="307.4" stroke="#6d6d70" stroke-width="0.75"/>
<rect x="179.8" y="302.2" width="2.6999999999999886" height="4.400000000000034" fill="#33a4dc"/>
<line x1="179.8" y1="304.6" x2="182.5" y2="304.6" stroke="#1a4f7a" stroke-width="0.6" opacity="0.8"/>
<line x1="184.60000000000002" y1="302.5" x2="184.60000000000002" y2="307.6" stroke="#6d6d70" stroke-width="0.75"/>
<rect x="183.3" y="304.6" width="2.5999999999999943" height="2.6999999999999886" fill="#f1951f"/>
<line x1="183.3" y1="306" x2="185.9" y2="306" stroke="#8a4d0a" stroke-width="0.6" opacity="0.8"/>
<text x="182.9" y="292.06" font-size="4.6" fill="#222" stroke="#222" stroke-width="0.12" text-anchor="middle" >*</text>
<line x1="181.4" y1="292.3" x2="184.4" y2="292.3" stroke="#444" stroke-width="0.6"/>
<line x1="194.5" y1="307.3" x2="200" y2="307.3" stroke="#333" stroke-width="0.7"/>
<text x="196.7" y="298.612" font-size="5.6" fill="#1a1a1a" stroke="#1a1a1a" stroke-width="0.12" text-anchor="middle"  textLength="5.8" lengthAdjust="spacingAndGlyphs">ns</text>
<line x1="195.2" y1="301.2" x2="198.2" y2="301.2" stroke="#444" stroke-width="0.6"/>
<line x1="209.35" y1="252.2" x2="209.35" y2="279.7" stroke="#6d6d70" stroke-width="0.75"/>
<rect x="207.7" y="263.6" width="3.3000000000000114" height="11.399999999999977" fill="#33a4dc"/>
<line x1="207.7" y1="269.5" x2="211.0" y2="269.5" stroke="#1a4f7a" stroke-width="0.6" opacity="0.8"/>
<line x1="213.10000000000002" y1="268" x2="213.10000000000002" y2="284.2" stroke="#6d6d70" stroke-width="0.75"/>
<rect x="211.4" y="270.5" width="3.4000000000000057" height="5.699999999999989" fill="#f1951f"/>
<line x1="211.4" y1="273.2" x2="214.8" y2="273.2" stroke="#8a4d0a" stroke-width="0.6" opacity="0.8"/>
<circle cx="213" cy="261" r="0.7" fill="#222"/>
<text x="211.2" y="245.76" font-size="4.6" fill="#222" stroke="#222" stroke-width="0.12" text-anchor="middle" >*</text>
<line x1="209.7" y1="245.7" x2="212.7" y2="245.7" stroke="#444" stroke-width="0.6"/>
<line x1="222.6" y1="304.8" x2="228.6" y2="304.8" stroke="#333" stroke-width="0.7"/>
<circle cx="227.2" cy="304.2" r="0.7" fill="#222"/>
<text x="224.9" y="295.512" font-size="5.6" fill="#1a1a1a" stroke="#1a1a1a" stroke-width="0.12" text-anchor="middle"  textLength="5.8" lengthAdjust="spacingAndGlyphs">ns</text>
<line x1="223.4" y1="297.4" x2="226.4" y2="297.4" stroke="#444" stroke-width="0.6"/>
<line x1="238.3" y1="284.2" x2="238.3" y2="303.7" stroke="#6d6d70" stroke-width="0.75"/>
<rect x="236.6" y="290" width="3.4000000000000057" height="9" fill="#33a4dc"/>
<line x1="236.6" y1="295" x2="240.0" y2="295" stroke="#1a4f7a" stroke-width="0.6" opacity="0.8"/>
<line x1="241.95" y1="280.8" x2="241.95" y2="300.3" stroke="#6d6d70" stroke-width="0.75"/>
<rect x="240.3" y="287.2" width="3.299999999999983" height="8.5" fill="#f1951f"/>
<line x1="240.3" y1="291.2" x2="243.6" y2="291.2" stroke="#8a4d0a" stroke-width="0.6" opacity="0.8"/>
<circle cx="242" cy="267.7" r="0.7" fill="#222"/>
<text x="239.4" y="260.76" font-size="4.6" fill="#222" stroke="#222" stroke-width="0.12" text-anchor="middle" >*</text>
<line x1="237.9" y1="261" x2="240.9" y2="261" stroke="#444" stroke-width="0.6"/>
<line x1="250.8" y1="306" x2="256.5" y2="306" stroke="#333" stroke-width="0.7"/>
<circle cx="252" cy="305.3" r="0.7" fill="#222"/>
<text x="253.2" y="298.46" font-size="4.6" fill="#222" stroke="#222" stroke-width="0.12" text-anchor="middle" >**</text>
<line x1="251.7" y1="298.5" x2="254.7" y2="298.5" stroke="#444" stroke-width="0.6"/>
<line x1="298.2" y1="239" x2="298.2" y2="311.2" stroke="#231f20" stroke-width="0.9"/>
<line x1="297.8" y1="310.8" x2="514.2" y2="310.8" stroke="#231f20" stroke-width="0.9"/>
<line x1="296" y1="246.2" x2="298.2" y2="246.2" stroke="#231f20" stroke-width="0.6"/>
<text x="292" y="248.1" font-size="5.4" fill="#231f20" stroke="#231f20" stroke-width="0.12" text-anchor="end"  textLength="8" lengthAdjust="spacingAndGlyphs">0.3</text>
<line x1="296" y1="262.4" x2="298.2" y2="262.4" stroke="#231f20" stroke-width="0.6"/>
<text x="292" y="264.29999999999995" font-size="5.4" fill="#231f20" stroke="#231f20" stroke-width="0.12" text-anchor="end"  textLength="8" lengthAdjust="spacingAndGlyphs">0.2</text>
<line x1="296" y1="278.9" x2="298.2" y2="278.9" stroke="#231f20" stroke-width="0.6"/>
<text x="292" y="280.79999999999995" font-size="5.4" fill="#231f20" stroke="#231f20" stroke-width="0.12" text-anchor="end"  textLength="8" lengthAdjust="spacingAndGlyphs">0.1</text>
<line x1="296" y1="295.3" x2="298.2" y2="295.3" stroke="#231f20" stroke-width="0.6"/>
<text x="292" y="297.2" font-size="5.4" fill="#231f20" stroke="#231f20" stroke-width="0.12" text-anchor="end"  textLength="8" lengthAdjust="spacingAndGlyphs">0.0</text>
<line x1="307.30" y1="310.8" x2="307.30" y2="313" stroke="#231f20" stroke-width="0.6"/>
<text transform="translate(310.00,319.6) rotate(-45)" font-size="5.8" fill="#231f20" stroke="#231f20" stroke-width="0.12" text-anchor="end">AC(12:0)</text>
<line x1="325.05" y1="310.8" x2="325.05" y2="313" stroke="#231f20" stroke-width="0.6"/>
<text transform="translate(327.75,319.6) rotate(-45)" font-size="5.8" fill="#231f20" stroke="#231f20" stroke-width="0.12" text-anchor="end">AC(15-OH)</text>
<line x1="342.80" y1="310.8" x2="342.80" y2="313" stroke="#231f20" stroke-width="0.6"/>
<text transform="translate(345.50,319.6) rotate(-45)" font-size="5.8" fill="#231f20" stroke="#231f20" stroke-width="0.12" text-anchor="end">AC(16:0)</text>
<line x1="360.55" y1="310.8" x2="360.55" y2="313" stroke="#231f20" stroke-width="0.6"/>
<text transform="translate(363.25,319.6) rotate(-45)" font-size="5.8" fill="#231f20" stroke="#231f20" stroke-width="0.12" text-anchor="end">AC(16:1)</text>
<line x1="378.30" y1="310.8" x2="378.30" y2="313" stroke="#231f20" stroke-width="0.6"/>
<text transform="translate(381.00,319.6) rotate(-45)" font-size="5.8" fill="#231f20" stroke="#231f20" stroke-width="0.12" text-anchor="end">AC(16:2)</text>
<line x1="396.05" y1="310.8" x2="396.05" y2="313" stroke="#231f20" stroke-width="0.6"/>
<text transform="translate(398.75,319.6) rotate(-45)" font-size="5.8" fill="#231f20" stroke="#231f20" stroke-width="0.12" text-anchor="end">AC(17:0)</text>
<line x1="413.80" y1="310.8" x2="413.80" y2="313" stroke="#231f20" stroke-width="0.6"/>
<text transform="translate(416.50,319.6) rotate(-45)" font-size="5.8" fill="#231f20" stroke="#231f20" stroke-width="0.12" text-anchor="end">AC(18:1)</text>
<line x1="431.55" y1="310.8" x2="431.55" y2="313" stroke="#231f20" stroke-width="0.6"/>
<text transform="translate(434.25,319.6) rotate(-45)" font-size="5.8" fill="#231f20" stroke="#231f20" stroke-width="0.12" text-anchor="end">AC(18:3)</text>
<line x1="449.30" y1="310.8" x2="449.30" y2="313" stroke="#231f20" stroke-width="0.6"/>
<text transform="translate(452.00,319.6) rotate(-45)" font-size="5.8" fill="#231f20" stroke="#231f20" stroke-width="0.12" text-anchor="end">AC(18:4)</text>
<line x1="467.05" y1="310.8" x2="467.05" y2="313" stroke="#231f20" stroke-width="0.6"/>
<text transform="translate(469.75,319.6) rotate(-45)" font-size="5.8" fill="#231f20" stroke="#231f20" stroke-width="0.12" text-anchor="end">AC(4:1)</text>
<line x1="484.80" y1="310.8" x2="484.80" y2="313" stroke="#231f20" stroke-width="0.6"/>
<text transform="translate(487.50,319.6) rotate(-45)" font-size="5.8" fill="#231f20" stroke="#231f20" stroke-width="0.12" text-anchor="end">AC(8:0)</text>
<line x1="502.55" y1="310.8" x2="502.55" y2="313" stroke="#231f20" stroke-width="0.6"/>
<text transform="translate(505.25,319.6) rotate(-45)" font-size="5.8" fill="#231f20" stroke="#231f20" stroke-width="0.12" text-anchor="end">AC(9-Me2)</text>
<text x="392.9" y="234.4" font-size="8.4" fill="#231f20" stroke="#231f20" stroke-width="0.12"  textLength="25.2" lengthAdjust="spacingAndGlyphs">Muscle</text>
<text transform="translate(277.1,274.1) rotate(-90)" font-size="7" fill="#231f20" stroke="#231f20" stroke-width="0.12" text-anchor="middle" textLength="52.1" lengthAdjust="spacingAndGlyphs">Auto scaled intensity</text>
<line x1="305.5" y1="294.6" x2="305.5" y2="305" stroke="#6d6d70" stroke-width="0.75"/>
<rect x="303.8" y="299.3" width="3.3999999999999773" height="3.8999999999999773" fill="#33a4dc"/>
<line x1="303.8" y1="301.5" x2="307.2" y2="301.5" stroke="#1a4f7a" stroke-width="0.6" opacity="0.8"/>
<line x1="310.5" y1="299.3" x2="310.5" y2="307.5" stroke="#6d6d70" stroke-width="0.75"/>
<rect x="308.6" y="302.3" width="3.7999999999999545" height="2.5" fill="#f1951f"/>
<line x1="308.6" y1="303.6" x2="312.4" y2="303.6" stroke="#8a4d0a" stroke-width="0.6" opacity="0.8"/>
<text x="307.9" y="288.06" font-size="4.6" fill="#222" stroke="#222" stroke-width="0.12" text-anchor="middle" >*</text>
<line x1="306.4" y1="288.2" x2="309.4" y2="288.2" stroke="#444" stroke-width="0.6"/>
<line x1="321.5" y1="307.3" x2="330.5" y2="307.3" stroke="#333" stroke-width="0.7"/>
<text x="325.4" y="299.96" font-size="4.6" fill="#222" stroke="#222" stroke-width="0.12" text-anchor="middle" >*</text>
<line x1="323.9" y1="299.9" x2="326.9" y2="299.9" stroke="#444" stroke-width="0.6"/>
<line x1="341.7" y1="261.8" x2="341.7" y2="296" stroke="#6d6d70" stroke-width="0.75"/>
<rect x="339.7" y="276.3" width="4.0" height="12.899999999999977" fill="#33a4dc"/>
<line x1="339.7" y1="282.5" x2="343.7" y2="282.5" stroke="#1a4f7a" stroke-width="0.6" opacity="0.8"/>
<line x1="345.9" y1="272" x2="345.9" y2="303.8" stroke="#6d6d70" stroke-width="0.75"/>
<rect x="344" y="283.2" width="3.8000000000000114" height="10.300000000000011" fill="#f1951f"/>
<line x1="344" y1="289" x2="347.8" y2="289" stroke="#8a4d0a" stroke-width="0.6" opacity="0.8"/>
<circle cx="341.3" cy="253" r="0.7" fill="#222"/>
<text x="343.6" y="246.16" font-size="4.6" fill="#222" stroke="#222" stroke-width="0.12" text-anchor="middle" >*</text>
<line x1="342.1" y1="246.2" x2="345.1" y2="246.2" stroke="#444" stroke-width="0.6"/>
<line x1="359.15" y1="278" x2="359.15" y2="299.5" stroke="#6d6d70" stroke-width="0.75"/>
<rect x="357.4" y="288.9" width="3.5" height="7.2000000000000455" fill="#33a4dc"/>
<line x1="357.4" y1="292.5" x2="360.9" y2="292.5" stroke="#1a4f7a" stroke-width="0.6" opacity="0.8"/>
<line x1="363.6" y1="285.8" x2="363.6" y2="305.6" stroke="#6d6d70" stroke-width="0.75"/>
<rect x="361.7" y="294" width="3.8000000000000114" height="5.199999999999989" fill="#f1951f"/>
<line x1="361.7" y1="297" x2="365.5" y2="297" stroke="#8a4d0a" stroke-width="0.6" opacity="0.8"/>
<circle cx="359.1" cy="268.3" r="0.7" fill="#222"/>
<text x="361.1" y="261.15999999999997" font-size="4.6" fill="#222" stroke="#222" stroke-width="0.12" text-anchor="middle" >*</text>
<line x1="359.6" y1="261.2" x2="362.6" y2="261.2" stroke="#444" stroke-width="0.6"/>
<line x1="376.8" y1="290.2" x2="376.8" y2="304.5" stroke="#6d6d70" stroke-width="0.75"/>
<rect x="375" y="297.2" width="3.6000000000000227" height="5.0" fill="#33a4dc"/>
<line x1="375" y1="299.8" x2="378.6" y2="299.8" stroke="#1a4f7a" stroke-width="0.6" opacity="0.8"/>
<line x1="381.29999999999995" y1="296.5" x2="381.29999999999995" y2="306.5" stroke="#6d6d70" stroke-width="0.75"/>
<rect x="379.2" y="299.2" width="4.199999999999989" height="4.699999999999989" fill="#f1951f"/>
<line x1="379.2" y1="301.8" x2="383.4" y2="301.8" stroke="#8a4d0a" stroke-width="0.6" opacity="0.8"/>
<circle cx="376.8" cy="288.2" r="0.7" fill="#222"/>
<text x="379.3" y="281.06" font-size="4.6" fill="#222" stroke="#222" stroke-width="0.12" text-anchor="middle" >*</text>
<line x1="377.8" y1="281.1" x2="380.8" y2="281.1" stroke="#444" stroke-width="0.6"/>
<line x1="392.5" y1="307.6" x2="400" y2="307.6" stroke="#333" stroke-width="0.7"/>
<text x="396.3" y="299.312" font-size="5.6" fill="#1a1a1a" stroke="#1a1a1a" stroke-width="0.12" text-anchor="middle"  textLength="5.8" lengthAdjust="spacingAndGlyphs">ns</text>
<line x1="394.8" y1="300.8" x2="397.8" y2="300.8" stroke="#444" stroke-width="0.6"/>
<line x1="412.2" y1="262" x2="412.2" y2="300.2" stroke="#6d6d70" stroke-width="0.75"/>
<rect x="410.2" y="276.1" width="4.0" height="12.099999999999966" fill="#33a4dc"/>
<line x1="410.2" y1="281.8" x2="414.2" y2="281.8" stroke="#1a4f7a" stroke-width="0.6" opacity="0.8"/>
<line x1="416.6" y1="273" x2="416.6" y2="304" stroke="#6d6d70" stroke-width="0.75"/>
<rect x="414.6" y="285.2" width="4.0" height="7.400000000000034" fill="#f1951f"/>
<line x1="414.6" y1="289" x2="418.6" y2="289" stroke="#8a4d0a" stroke-width="0.6" opacity="0.8"/>
<circle cx="412.4" cy="252" r="0.7" fill="#222"/>
<circle cx="416.4" cy="271.1" r="0.7" fill="#222"/>
<circle cx="416.4" cy="273.3" r="0.7" fill="#222"/>
<circle cx="416.4" cy="303.3" r="0.7" fill="#222"/>
<text x="413.8" y="245.45999999999998" font-size="4.6" fill="#222" stroke="#222" stroke-width="0.12" text-anchor="middle" >*</text>
<line x1="412.3" y1="245.5" x2="415.3" y2="245.5" stroke="#444" stroke-width="0.6"/>
<line x1="429.95" y1="303" x2="429.95" y2="307" stroke="#6d6d70" stroke-width="0.75"/>
<rect x="428.5" y="304.4" width="2.8999999999999773" height="2.0" fill="#33a4dc"/>
<line x1="428.5" y1="305.5" x2="431.4" y2="305.5" stroke="#1a4f7a" stroke-width="0.6" opacity="0.8"/>
<line x1="431.5" y1="306.2" x2="434.5" y2="306.2" stroke="#333" stroke-width="0.7"/>
<text x="431.5" y="296.86" font-size="4.6" fill="#222" stroke="#222" stroke-width="0.12" text-anchor="middle" >*</text>
<line x1="430.0" y1="296.9" x2="433.0" y2="296.9" stroke="#444" stroke-width="0.6"/>
<line x1="446" y1="306.9" x2="452.5" y2="306.9" stroke="#333" stroke-width="0.7"/>
<text x="449.2" y="301.46" font-size="4.6" fill="#222" stroke="#222" stroke-width="0.12" text-anchor="middle" >*</text>
<line x1="447.7" y1="301.2" x2="450.7" y2="301.2" stroke="#444" stroke-width="0.6"/>
<line x1="463.5" y1="306.9" x2="470.5" y2="306.9" stroke="#333" stroke-width="0.7"/>
<text x="466.9" y="301.46" font-size="4.6" fill="#222" stroke="#222" stroke-width="0.12" text-anchor="middle" >*</text>
<line x1="465.4" y1="301.2" x2="468.4" y2="301.2" stroke="#444" stroke-width="0.6"/>
<line x1="482.7" y1="302" x2="482.7" y2="307" stroke="#6d6d70" stroke-width="0.75"/>
<rect x="480.9" y="303.9" width="3.6000000000000227" height="2.3000000000000114" fill="#33a4dc"/>
<line x1="480.9" y1="305" x2="484.5" y2="305" stroke="#1a4f7a" stroke-width="0.6" opacity="0.8"/>
<line x1="484.5" y1="306" x2="488.5" y2="306" stroke="#333" stroke-width="0.7"/>
<circle cx="482.5" cy="301.7" r="0.7" fill="#222"/>
<circle cx="487.7" cy="303.5" r="0.7" fill="#222"/>
<text x="484.3" y="294.76" font-size="4.6" fill="#222" stroke="#222" stroke-width="0.12" text-anchor="middle" >*</text>
<line x1="482.8" y1="294.4" x2="485.8" y2="294.4" stroke="#444" stroke-width="0.6"/>
<line x1="499" y1="307.3" x2="506" y2="307.3" stroke="#333" stroke-width="0.7"/>
<text x="502.4" y="301.46" font-size="4.6" fill="#222" stroke="#222" stroke-width="0.12" text-anchor="middle" >*</text>
<line x1="500.9" y1="301.2" x2="503.9" y2="301.2" stroke="#444" stroke-width="0.6"/></svg><div id="fr"></div>
</body></html>
